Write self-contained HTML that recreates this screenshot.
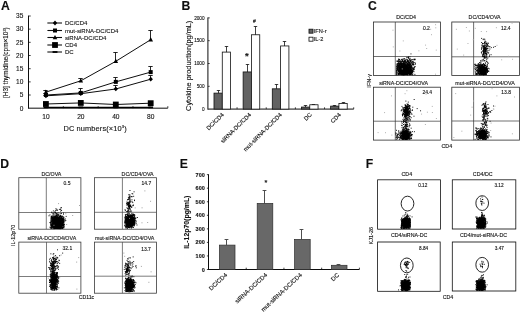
<!DOCTYPE html>
<html lang="en"><head><meta charset="utf-8"><title>Figure</title>
<style>html,body{margin:0;padding:0;background:#fff;overflow:hidden}svg{display:block;font-family:'Liberation Sans', sans-serif}</style></head><body>
<svg width="520" height="314" viewBox="0 0 520 314">
<rect width="520" height="314" fill="#fff"/>
<defs><filter id="soft" x="0" y="0" width="520" height="314" filterUnits="userSpaceOnUse"><feGaussianBlur stdDeviation="0.3"/></filter><filter id="soft2" x="0" y="0" width="520" height="314" filterUnits="userSpaceOnUse"><feGaussianBlur stdDeviation="0.3"/></filter><filter id="soft3" x="0" y="0" width="520" height="314" filterUnits="userSpaceOnUse"><feGaussianBlur stdDeviation="0.22"/></filter></defs>
<g filter="url(#soft3)">
<line x1="28.50" y1="15.60" x2="28.50" y2="108.70" stroke="#111" stroke-width="1.0"/>
<line x1="28.50" y1="108.20" x2="167.80" y2="108.20" stroke="#111" stroke-width="1.0"/>
<line x1="28.50" y1="95.03" x2="30.70" y2="95.03" stroke="#111" stroke-width="0.8"/>
<line x1="28.50" y1="81.86" x2="30.70" y2="81.86" stroke="#111" stroke-width="0.8"/>
<line x1="28.50" y1="68.69" x2="30.70" y2="68.69" stroke="#111" stroke-width="0.8"/>
<line x1="28.50" y1="55.51" x2="30.70" y2="55.51" stroke="#111" stroke-width="0.8"/>
<line x1="28.50" y1="42.34" x2="30.70" y2="42.34" stroke="#111" stroke-width="0.8"/>
<line x1="28.50" y1="29.17" x2="30.70" y2="29.17" stroke="#111" stroke-width="0.8"/>
<line x1="28.50" y1="16.00" x2="30.70" y2="16.00" stroke="#111" stroke-width="0.8"/>
<line x1="63.33" y1="108.20" x2="63.33" y2="106.20" stroke="#111" stroke-width="0.8"/>
<line x1="98.15" y1="108.20" x2="98.15" y2="106.20" stroke="#111" stroke-width="0.8"/>
<line x1="132.98" y1="108.20" x2="132.98" y2="106.20" stroke="#111" stroke-width="0.8"/>
<line x1="167.80" y1="108.20" x2="167.80" y2="106.20" stroke="#111" stroke-width="0.8"/>
<polyline points="45.90,107.41 80.80,107.41 115.80,107.41 150.70,107.41" fill="none" stroke="#000" stroke-width="1.3"/>
<rect x="43.50" y="106.51" width="4.8" height="1.8" fill="#000"/>
<rect x="78.40" y="106.51" width="4.8" height="1.8" fill="#000"/>
<rect x="113.40" y="106.51" width="4.8" height="1.8" fill="#000"/>
<rect x="148.30" y="106.51" width="4.8" height="1.8" fill="#000"/>
<polyline points="45.90,103.99 80.80,102.93 115.80,104.51 150.70,103.19" fill="none" stroke="#000" stroke-width="0.95"/>
<rect x="43.00" y="101.09" width="5.8" height="5.8" fill="#000"/>
<rect x="77.90" y="100.03" width="5.8" height="5.8" fill="#000"/>
<rect x="112.90" y="101.61" width="5.8" height="5.8" fill="#000"/>
<rect x="147.80" y="100.29" width="5.8" height="5.8" fill="#000"/>
<polyline points="45.90,95.82 80.80,93.71 115.80,88.97 150.70,79.22" fill="none" stroke="#000" stroke-width="0.95"/>
<line x1="45.50" y1="95.82" x2="45.50" y2="95.50" stroke="#111" stroke-width="0.9"/>
<line x1="43.30" y1="95.50" x2="47.70" y2="95.50" stroke="#111" stroke-width="0.9"/>
<path d="M45.90 93.42 L48.10 95.82 L45.90 98.22 L43.70 95.82Z" fill="#000"/>
<line x1="80.50" y1="93.71" x2="80.50" y2="92.50" stroke="#111" stroke-width="0.9"/>
<line x1="78.30" y1="92.50" x2="82.70" y2="92.50" stroke="#111" stroke-width="0.9"/>
<path d="M80.80 91.31 L83.00 93.71 L80.80 96.11 L78.60 93.71Z" fill="#000"/>
<line x1="115.50" y1="88.97" x2="115.50" y2="85.50" stroke="#111" stroke-width="0.9"/>
<line x1="113.30" y1="85.50" x2="117.70" y2="85.50" stroke="#111" stroke-width="0.9"/>
<path d="M115.80 86.57 L118.00 88.97 L115.80 91.37 L113.60 88.97Z" fill="#000"/>
<line x1="150.50" y1="79.22" x2="150.50" y2="75.50" stroke="#111" stroke-width="0.9"/>
<line x1="148.30" y1="75.50" x2="152.70" y2="75.50" stroke="#111" stroke-width="0.9"/>
<path d="M150.70 76.82 L152.90 79.22 L150.70 81.62 L148.50 79.22Z" fill="#000"/>
<polyline points="45.90,95.03 80.80,92.92 115.80,81.86 150.70,72.11" fill="none" stroke="#000" stroke-width="0.95"/>
<line x1="45.50" y1="95.03" x2="45.50" y2="93.50" stroke="#111" stroke-width="0.9"/>
<line x1="43.30" y1="93.50" x2="47.70" y2="93.50" stroke="#111" stroke-width="0.9"/>
<rect x="43.90" y="93.03" width="4" height="4" fill="#000"/>
<line x1="80.50" y1="92.92" x2="80.50" y2="88.50" stroke="#111" stroke-width="0.9"/>
<line x1="78.30" y1="88.50" x2="82.70" y2="88.50" stroke="#111" stroke-width="0.9"/>
<rect x="78.80" y="90.92" width="4" height="4" fill="#000"/>
<line x1="115.50" y1="81.86" x2="115.50" y2="77.50" stroke="#111" stroke-width="0.9"/>
<line x1="113.30" y1="77.50" x2="117.70" y2="77.50" stroke="#111" stroke-width="0.9"/>
<rect x="113.80" y="79.86" width="4" height="4" fill="#000"/>
<line x1="150.50" y1="72.11" x2="150.50" y2="66.50" stroke="#111" stroke-width="0.9"/>
<line x1="148.30" y1="66.50" x2="152.70" y2="66.50" stroke="#111" stroke-width="0.9"/>
<rect x="148.70" y="70.11" width="4" height="4" fill="#000"/>
<polyline points="45.90,92.13 80.80,80.80 115.80,61.31 150.70,39.71" fill="none" stroke="#000" stroke-width="0.95"/>
<line x1="45.50" y1="92.13" x2="45.50" y2="90.50" stroke="#111" stroke-width="0.9"/>
<line x1="43.30" y1="90.50" x2="47.70" y2="90.50" stroke="#111" stroke-width="0.9"/>
<path d="M45.90 89.53 L48.20 93.93 L43.60 93.93Z" fill="#000"/>
<line x1="80.50" y1="80.80" x2="80.50" y2="78.50" stroke="#111" stroke-width="0.9"/>
<line x1="78.30" y1="78.50" x2="82.70" y2="78.50" stroke="#111" stroke-width="0.9"/>
<path d="M80.80 78.20 L83.10 82.60 L78.50 82.60Z" fill="#000"/>
<line x1="115.50" y1="61.31" x2="115.50" y2="52.50" stroke="#111" stroke-width="0.9"/>
<line x1="113.30" y1="52.50" x2="117.70" y2="52.50" stroke="#111" stroke-width="0.9"/>
<path d="M115.80 58.71 L118.10 63.11 L113.50 63.11Z" fill="#000"/>
<line x1="150.50" y1="39.71" x2="150.50" y2="30.50" stroke="#111" stroke-width="0.9"/>
<line x1="148.30" y1="30.50" x2="152.70" y2="30.50" stroke="#111" stroke-width="0.9"/>
<path d="M150.70 37.11 L153.00 41.51 L148.40 41.51Z" fill="#000"/>
<line x1="47.40" y1="23.00" x2="62.00" y2="23.00" stroke="#111" stroke-width="1.1"/>
<path d="M55.00 20.60 L57.20 23.00 L55.00 25.40 L52.80 23.00Z" fill="#000"/>
<line x1="47.40" y1="30.50" x2="62.00" y2="30.50" stroke="#111" stroke-width="1.1"/>
<rect x="53.00" y="28.50" width="4" height="4" fill="#000"/>
<line x1="47.40" y1="37.50" x2="62.00" y2="37.50" stroke="#111" stroke-width="1.1"/>
<path d="M55.00 34.90 L57.30 39.30 L52.70 39.30Z" fill="#000"/>
<line x1="47.40" y1="45.00" x2="62.00" y2="45.00" stroke="#111" stroke-width="1.1"/>
<rect x="52.10" y="42.10" width="5.8" height="5.8" fill="#000"/>
<line x1="47.40" y1="52.00" x2="62.00" y2="52.00" stroke="#111" stroke-width="1.1"/>
<rect x="52.60" y="51.10" width="4.8" height="1.8" fill="#000"/>
<line x1="207.90" y1="17.50" x2="207.90" y2="109.60" stroke="#111" stroke-width="1.0"/>
<line x1="207.90" y1="109.10" x2="353.70" y2="109.10" stroke="#111" stroke-width="1.0"/>
<line x1="207.90" y1="86.30" x2="209.70" y2="86.30" stroke="#111" stroke-width="0.8"/>
<line x1="207.90" y1="63.50" x2="209.70" y2="63.50" stroke="#111" stroke-width="0.8"/>
<line x1="207.90" y1="40.70" x2="209.70" y2="40.70" stroke="#111" stroke-width="0.8"/>
<line x1="207.90" y1="17.90" x2="209.70" y2="17.90" stroke="#111" stroke-width="0.8"/>
<line x1="237.06" y1="109.10" x2="237.06" y2="107.30" stroke="#111" stroke-width="0.8"/>
<line x1="266.22" y1="109.10" x2="266.22" y2="107.30" stroke="#111" stroke-width="0.8"/>
<line x1="295.38" y1="109.10" x2="295.38" y2="107.30" stroke="#111" stroke-width="0.8"/>
<line x1="324.54" y1="109.10" x2="324.54" y2="107.30" stroke="#111" stroke-width="0.8"/>
<line x1="353.70" y1="109.10" x2="353.70" y2="107.30" stroke="#111" stroke-width="0.8"/>
<rect x="213.98" y="93.14" width="8.30" height="15.96" fill="#626262" stroke="#111" stroke-width="0.8"/>
<rect x="222.28" y="52.10" width="8.30" height="57.00" fill="#fff" stroke="#111" stroke-width="0.8"/>
<line x1="218.50" y1="93.14" x2="218.50" y2="90.50" stroke="#111" stroke-width="0.8"/>
<line x1="216.80" y1="90.50" x2="220.20" y2="90.50" stroke="#111" stroke-width="0.8"/>
<line x1="226.50" y1="52.10" x2="226.50" y2="46.50" stroke="#111" stroke-width="0.8"/>
<line x1="224.80" y1="46.50" x2="228.20" y2="46.50" stroke="#111" stroke-width="0.8"/>
<rect x="243.14" y="71.94" width="8.30" height="37.16" fill="#626262" stroke="#111" stroke-width="0.8"/>
<rect x="251.44" y="34.77" width="8.30" height="74.33" fill="#fff" stroke="#111" stroke-width="0.8"/>
<line x1="247.50" y1="71.94" x2="247.50" y2="64.50" stroke="#111" stroke-width="0.8"/>
<line x1="245.80" y1="64.50" x2="249.20" y2="64.50" stroke="#111" stroke-width="0.8"/>
<line x1="255.50" y1="34.77" x2="255.50" y2="26.50" stroke="#111" stroke-width="0.8"/>
<line x1="253.80" y1="26.50" x2="257.20" y2="26.50" stroke="#111" stroke-width="0.8"/>
<rect x="272.30" y="88.81" width="8.30" height="20.29" fill="#626262" stroke="#111" stroke-width="0.8"/>
<rect x="280.60" y="45.94" width="8.30" height="63.16" fill="#fff" stroke="#111" stroke-width="0.8"/>
<line x1="276.50" y1="88.81" x2="276.50" y2="84.50" stroke="#111" stroke-width="0.8"/>
<line x1="274.80" y1="84.50" x2="278.20" y2="84.50" stroke="#111" stroke-width="0.8"/>
<line x1="284.50" y1="45.94" x2="284.50" y2="41.50" stroke="#111" stroke-width="0.8"/>
<line x1="282.80" y1="41.50" x2="286.20" y2="41.50" stroke="#111" stroke-width="0.8"/>
<rect x="301.46" y="107.05" width="8.30" height="2.05" fill="#626262" stroke="#111" stroke-width="0.8"/>
<rect x="309.76" y="104.77" width="8.30" height="4.33" fill="#fff" stroke="#111" stroke-width="0.8"/>
<line x1="305.50" y1="107.05" x2="305.50" y2="105.50" stroke="#111" stroke-width="0.8"/>
<line x1="303.80" y1="105.50" x2="307.20" y2="105.50" stroke="#111" stroke-width="0.8"/>
<line x1="313.50" y1="104.77" x2="313.50" y2="104.50" stroke="#111" stroke-width="0.8"/>
<line x1="311.80" y1="104.50" x2="315.20" y2="104.50" stroke="#111" stroke-width="0.8"/>
<rect x="330.62" y="106.14" width="8.30" height="2.96" fill="#626262" stroke="#111" stroke-width="0.8"/>
<rect x="338.92" y="103.40" width="8.30" height="5.70" fill="#fff" stroke="#111" stroke-width="0.8"/>
<line x1="334.50" y1="106.14" x2="334.50" y2="105.50" stroke="#111" stroke-width="0.8"/>
<line x1="332.80" y1="105.50" x2="336.20" y2="105.50" stroke="#111" stroke-width="0.8"/>
<line x1="343.50" y1="103.40" x2="343.50" y2="102.50" stroke="#111" stroke-width="0.8"/>
<line x1="341.80" y1="102.50" x2="345.20" y2="102.50" stroke="#111" stroke-width="0.8"/>
<rect x="309.00" y="29.20" width="4.00" height="4.00" fill="#626262" stroke="#111" stroke-width="0.8"/>
<rect x="309.00" y="37.20" width="4.00" height="4.00" fill="#fff" stroke="#111" stroke-width="0.8"/>
<rect x="373.40" y="22.00" width="67.00" height="53.40" fill="none" stroke="#2a2a2a" stroke-width="0.8"/>
<line x1="395.30" y1="22.00" x2="395.30" y2="75.40" stroke="#333" stroke-width="0.7"/>
<line x1="373.40" y1="56.50" x2="440.40" y2="56.50" stroke="#333" stroke-width="0.7"/>
<rect x="451.80" y="22.00" width="67.60" height="53.40" fill="none" stroke="#2a2a2a" stroke-width="0.8"/>
<line x1="473.60" y1="22.00" x2="473.60" y2="75.40" stroke="#333" stroke-width="0.7"/>
<line x1="451.80" y1="56.80" x2="519.40" y2="56.80" stroke="#333" stroke-width="0.7"/>
<rect x="373.40" y="87.20" width="67.00" height="52.90" fill="none" stroke="#2a2a2a" stroke-width="0.8"/>
<line x1="395.30" y1="87.20" x2="395.30" y2="140.10" stroke="#333" stroke-width="0.7"/>
<line x1="373.40" y1="121.20" x2="440.40" y2="121.20" stroke="#333" stroke-width="0.7"/>
<rect x="451.80" y="87.20" width="67.60" height="52.90" fill="none" stroke="#2a2a2a" stroke-width="0.8"/>
<line x1="473.60" y1="87.20" x2="473.60" y2="140.10" stroke="#333" stroke-width="0.7"/>
<line x1="451.80" y1="121.00" x2="519.40" y2="121.00" stroke="#333" stroke-width="0.7"/>
<rect x="18.80" y="177.70" width="62.10" height="51.50" fill="none" stroke="#3a3a3a" stroke-width="0.8"/>
<line x1="46.30" y1="177.70" x2="46.30" y2="229.20" stroke="#444" stroke-width="0.7"/>
<line x1="18.80" y1="212.50" x2="80.90" y2="212.50" stroke="#444" stroke-width="0.7"/>
<rect x="94.40" y="177.70" width="62.00" height="51.50" fill="none" stroke="#3a3a3a" stroke-width="0.8"/>
<line x1="122.40" y1="177.70" x2="122.40" y2="229.20" stroke="#444" stroke-width="0.7"/>
<line x1="94.40" y1="212.30" x2="156.40" y2="212.30" stroke="#444" stroke-width="0.7"/>
<rect x="18.80" y="242.10" width="62.10" height="51.10" fill="none" stroke="#3a3a3a" stroke-width="0.8"/>
<line x1="46.50" y1="242.10" x2="46.50" y2="293.20" stroke="#444" stroke-width="0.7"/>
<line x1="18.80" y1="276.50" x2="80.90" y2="276.50" stroke="#444" stroke-width="0.7"/>
<rect x="94.40" y="242.10" width="62.00" height="51.10" fill="none" stroke="#3a3a3a" stroke-width="0.8"/>
<line x1="122.40" y1="242.10" x2="122.40" y2="293.20" stroke="#444" stroke-width="0.7"/>
<line x1="94.40" y1="276.20" x2="156.40" y2="276.20" stroke="#444" stroke-width="0.7"/>
<line x1="208.50" y1="174.25" x2="208.50" y2="270.00" stroke="#111" stroke-width="1.0"/>
<line x1="208.50" y1="269.50" x2="359.40" y2="269.50" stroke="#111" stroke-width="1.0"/>
<line x1="206.90" y1="269.50" x2="208.50" y2="269.50" stroke="#111" stroke-width="0.8"/>
<line x1="206.90" y1="255.95" x2="208.50" y2="255.95" stroke="#111" stroke-width="0.8"/>
<line x1="206.90" y1="242.40" x2="208.50" y2="242.40" stroke="#111" stroke-width="0.8"/>
<line x1="206.90" y1="228.85" x2="208.50" y2="228.85" stroke="#111" stroke-width="0.8"/>
<line x1="206.90" y1="215.30" x2="208.50" y2="215.30" stroke="#111" stroke-width="0.8"/>
<line x1="206.90" y1="201.75" x2="208.50" y2="201.75" stroke="#111" stroke-width="0.8"/>
<line x1="206.90" y1="188.20" x2="208.50" y2="188.20" stroke="#111" stroke-width="0.8"/>
<line x1="206.90" y1="174.65" x2="208.50" y2="174.65" stroke="#111" stroke-width="0.8"/>
<line x1="246.22" y1="269.50" x2="246.22" y2="267.70" stroke="#111" stroke-width="0.8"/>
<line x1="283.95" y1="269.50" x2="283.95" y2="267.70" stroke="#111" stroke-width="0.8"/>
<line x1="321.67" y1="269.50" x2="321.67" y2="267.70" stroke="#111" stroke-width="0.8"/>
<line x1="359.40" y1="269.50" x2="359.40" y2="267.70" stroke="#111" stroke-width="0.8"/>
<rect x="219.40" y="245.11" width="15.60" height="24.39" fill="#686868" stroke="#2c2c2c" stroke-width="0.7"/>
<line x1="226.50" y1="245.11" x2="226.50" y2="239.50" stroke="#3c3c3c" stroke-width="0.9"/>
<line x1="224.60" y1="239.50" x2="228.40" y2="239.50" stroke="#3c3c3c" stroke-width="0.9"/>
<rect x="257.20" y="203.38" width="15.60" height="66.12" fill="#686868" stroke="#2c2c2c" stroke-width="0.7"/>
<line x1="264.50" y1="203.38" x2="264.50" y2="190.50" stroke="#3c3c3c" stroke-width="0.9"/>
<line x1="262.60" y1="190.50" x2="266.40" y2="190.50" stroke="#3c3c3c" stroke-width="0.9"/>
<rect x="294.60" y="239.42" width="15.60" height="30.08" fill="#686868" stroke="#2c2c2c" stroke-width="0.7"/>
<line x1="301.50" y1="239.42" x2="301.50" y2="229.50" stroke="#3c3c3c" stroke-width="0.9"/>
<line x1="299.60" y1="229.50" x2="303.40" y2="229.50" stroke="#3c3c3c" stroke-width="0.9"/>
<rect x="331.40" y="265.30" width="15.60" height="4.20" fill="#686868" stroke="#2c2c2c" stroke-width="0.7"/>
<line x1="338.50" y1="265.30" x2="338.50" y2="264.50" stroke="#3c3c3c" stroke-width="0.9"/>
<line x1="336.60" y1="264.50" x2="340.40" y2="264.50" stroke="#3c3c3c" stroke-width="0.9"/>
<rect x="377.60" y="179.80" width="62.80" height="49.40" fill="none" stroke="#111" stroke-width="0.8"/>
<ellipse cx="407.5" cy="203.6" rx="6.35" ry="7.4" fill="none" stroke="#111" stroke-width="0.9"/>
<rect x="452.30" y="179.80" width="63.50" height="49.20" fill="none" stroke="#111" stroke-width="0.8"/>
<ellipse cx="482.2" cy="203.1" rx="6.35" ry="7.4" fill="none" stroke="#111" stroke-width="0.9"/>
<rect x="377.60" y="242.00" width="62.60" height="49.30" fill="none" stroke="#111" stroke-width="0.8"/>
<ellipse cx="406.8" cy="265.4" rx="6.35" ry="7.4" fill="none" stroke="#111" stroke-width="0.9"/>
<rect x="452.30" y="242.00" width="63.50" height="49.00" fill="none" stroke="#111" stroke-width="0.8"/>
<ellipse cx="482.2" cy="264.8" rx="6.35" ry="7.4" fill="none" stroke="#111" stroke-width="0.9"/>
</g>
<g filter="url(#soft2)">
<path d="M403.9 72.2h0.95M404.0 69.4h0.95M401.5 69.8h0.95M408.8 71.9h0.95M408.5 71.3h0.95M406.2 71.1h0.95M398.8 73.4h0.95M406.6 72.2h0.95M398.7 64.6h0.95M401.6 68.9h0.95M405.9 70.3h0.95M406.7 68.3h0.95M405.9 71.8h0.95M406.8 74.6h0.95M402.6 68.0h0.95M403.6 70.1h0.95M407.1 71.3h0.95M403.2 67.2h0.95M402.9 74.7h0.95M401.9 71.3h0.95M406.3 65.4h0.95M397.5 69.4h0.95M404.4 67.7h0.95M406.6 70.3h0.95M399.5 73.3h0.95M407.2 73.7h0.95M410.0 71.7h0.95M405.2 66.1h0.95M407.0 68.4h0.95M403.2 66.2h0.95M401.3 68.7h0.95M409.4 63.6h0.95M399.6 71.3h0.95M410.0 72.5h0.95M398.0 61.9h0.95M406.1 68.0h0.95M400.8 73.8h0.95M408.8 71.0h0.95M405.7 72.0h0.95M410.5 72.6h0.95M406.7 72.4h0.95M408.2 72.3h0.95M397.7 68.3h0.95M407.8 64.3h0.95M404.1 74.0h0.95M406.8 70.0h0.95M406.0 72.7h0.95M405.2 74.4h0.95M402.4 69.1h0.95M408.6 70.6h0.95M401.6 73.7h0.95M410.1 69.0h0.95M399.8 70.0h0.95M404.3 69.5h0.95M409.9 67.0h0.95M409.3 66.2h0.95M402.0 72.6h0.95M408.9 73.4h0.95M406.0 71.0h0.95M405.3 72.5h0.95M404.2 71.4h0.95M406.9 70.5h0.95M407.6 72.4h0.95M412.0 71.6h0.95M403.3 69.2h0.95M404.8 73.6h0.95M403.6 71.8h0.95M411.4 61.8h0.95M400.8 71.3h0.95M406.2 71.3h0.95M403.2 72.7h0.95M405.8 68.7h0.95M413.5 71.7h0.95M402.8 70.2h0.95M404.0 70.3h0.95M408.4 66.5h0.95M404.6 73.7h0.95M398.7 69.3h0.95M403.6 72.6h0.95M408.7 61.4h0.95M408.7 65.6h0.95M407.3 65.4h0.95M405.4 74.6h0.95M404.3 71.1h0.95M407.7 71.0h0.95M408.6 69.5h0.95M414.7 66.6h0.95M408.1 69.6h0.95M405.3 72.9h0.95M405.6 72.7h0.95M399.3 65.4h0.95M407.0 67.2h0.95M401.1 65.5h0.95M409.4 73.0h0.95M410.1 67.3h0.95M404.8 66.6h0.95M408.4 69.9h0.95M404.5 68.5h0.95M406.2 71.9h0.95M410.2 67.0h0.95M410.0 69.9h0.95M402.1 74.0h0.95M405.2 70.9h0.95M409.9 69.6h0.95M396.5 69.2h0.95M398.1 73.3h0.95M405.9 68.4h0.95M404.8 73.3h0.95M404.6 74.0h0.95M402.4 73.5h0.95M398.0 66.8h0.95M397.7 74.1h0.95M400.4 70.5h0.95M404.1 70.4h0.95M402.7 71.3h0.95M411.2 70.7h0.95M406.7 73.9h0.95M404.1 66.2h0.95M402.8 74.2h0.95M398.9 68.5h0.95M408.4 73.2h0.95M404.8 73.2h0.95M405.4 66.5h0.95M399.2 68.3h0.95M408.1 68.6h0.95M401.6 67.9h0.95M399.3 70.1h0.95M400.6 71.7h0.95M402.5 63.9h0.95M407.4 69.6h0.95M396.8 67.5h0.95M405.8 68.9h0.95M407.6 73.0h0.95M407.2 71.6h0.95M409.6 72.7h0.95M406.4 63.4h0.95M403.7 68.9h0.95M411.8 64.5h0.95M401.5 72.8h0.95M411.6 70.1h0.95M406.8 73.6h0.95M401.5 70.2h0.95M405.9 73.3h0.95M404.7 69.8h0.95M401.1 69.3h0.95M408.0 70.8h0.95M401.7 67.6h0.95M414.4 74.4h0.95M407.1 61.7h0.95M407.0 72.1h0.95M410.9 72.0h0.95M404.6 72.3h0.95M397.8 74.0h0.95M406.0 68.1h0.95M399.8 68.2h0.95M405.8 71.1h0.95M403.4 67.2h0.95M412.4 74.0h0.95M400.5 65.9h0.95M410.9 73.9h0.95M411.4 73.3h0.95M401.7 71.4h0.95M397.0 68.0h0.95M404.6 72.3h0.95M402.2 70.1h0.95M406.5 71.8h0.95M407.1 71.2h0.95M403.6 73.2h0.95M405.0 67.7h0.95M402.5 70.5h0.95M404.4 71.0h0.95M404.8 71.1h0.95M404.3 66.2h0.95M406.3 74.1h0.95M406.4 69.9h0.95M406.4 67.2h0.95M398.0 70.7h0.95M401.5 73.0h0.95M400.9 61.6h0.95M403.4 65.8h0.95M402.1 72.3h0.95M406.6 71.1h0.95M410.1 72.9h0.95M404.7 72.5h0.95M410.8 73.8h0.95M408.5 66.8h0.95M404.3 73.0h0.95M403.7 74.1h0.95M406.9 73.6h0.95M409.3 69.8h0.95M403.6 73.5h0.95M408.3 70.5h0.95M400.6 71.1h0.95M406.1 74.3h0.95M407.6 70.6h0.95M407.9 72.3h0.95M405.5 70.7h0.95M403.9 72.8h0.95M401.0 68.4h0.95M404.8 65.5h0.95M403.2 63.7h0.95M402.3 72.4h0.95M406.8 70.3h0.95M404.0 65.7h0.95M411.4 72.3h0.95M408.7 67.5h0.95M404.1 64.3h0.95M407.6 73.7h0.95M398.0 70.3h0.95M407.1 64.5h0.95M398.2 66.9h0.95M402.5 65.7h0.95M404.9 71.3h0.95M407.1 72.9h0.95M410.2 74.5h0.95M400.1 68.8h0.95M401.0 66.8h0.95M404.5 70.5h0.95M406.6 65.1h0.95M400.3 70.4h0.95M404.1 69.4h0.95M404.6 67.9h0.95M407.3 71.7h0.95M404.5 68.2h0.95M404.2 61.2h0.95M401.3 70.6h0.95M399.4 71.2h0.95M405.3 65.8h0.95M403.9 69.4h0.95M406.5 72.6h0.95M404.7 67.6h0.95M404.3 70.3h0.95M407.4 71.5h0.95M402.2 65.9h0.95M403.5 68.0h0.95M400.8 70.1h0.95M403.0 70.9h0.95M406.7 69.1h0.95M413.2 69.4h0.95M408.8 70.9h0.95M408.8 62.4h0.95M402.1 71.3h0.95M407.6 73.7h0.95M406.6 70.0h0.95M406.6 66.8h0.95M409.1 67.0h0.95M404.0 70.6h0.95M409.0 70.6h0.95M401.9 71.4h0.95M406.9 72.9h0.95M410.8 70.6h0.95M405.8 69.0h0.95M409.9 68.1h0.95M407.2 68.9h0.95M402.3 72.9h0.95M409.6 70.5h0.95M402.4 73.3h0.95M404.6 71.6h0.95M410.3 74.3h0.95M404.8 73.2h0.95M402.5 70.3h0.95M409.7 66.4h0.95M399.4 65.0h0.95M409.0 68.9h0.95M404.6 69.4h0.95M404.4 66.8h0.95M404.9 65.6h0.95M404.5 71.5h0.95M406.5 69.7h0.95M401.5 71.0h0.95M407.6 70.1h0.95M403.1 68.1h0.95M401.4 69.3h0.95M405.9 72.3h0.95M402.3 70.5h0.95M414.9 64.2h0.95M402.9 71.1h0.95M405.4 71.9h0.95M403.9 71.7h0.95M405.0 73.1h0.95M398.0 67.5h0.95M404.8 67.0h0.95M401.0 72.6h0.95M402.5 72.7h0.95M407.5 71.5h0.95M406.6 70.1h0.95M399.7 70.4h0.95M406.4 68.7h0.95M404.4 73.0h0.95M401.6 72.7h0.95M411.5 68.6h0.95M405.3 70.0h0.95M410.3 71.6h0.95M408.0 68.2h0.95M404.7 70.5h0.95M408.0 64.6h0.95M407.5 70.1h0.95M406.4 71.7h0.95M399.4 69.8h0.95M410.2 68.5h0.95M401.1 65.9h0.95M400.4 71.6h0.95M410.9 72.0h0.95M402.9 68.2h0.95M406.7 72.4h0.95M401.1 66.5h0.95M405.8 71.3h0.95M400.1 69.8h0.95M402.8 72.1h0.95M404.4 70.2h0.95M403.5 74.1h0.95M409.8 69.3h0.95M407.8 67.9h0.95M405.1 73.0h0.95M410.3 69.2h0.95M404.5 71.2h0.95M399.4 70.6h0.95M402.4 71.8h0.95M400.7 63.8h0.95M404.9 71.4h0.95M402.8 73.5h0.95M403.8 68.4h0.95M406.5 65.2h0.95M402.4 70.4h0.95M407.9 69.9h0.95M405.9 68.3h0.95M402.5 70.6h0.95M405.4 74.0h0.95M400.3 63.4h0.95M407.0 73.2h0.95M405.5 71.4h0.95M408.1 71.8h0.95M410.8 66.3h0.95M403.4 58.8h0.95M407.7 69.2h0.95M404.8 69.6h0.95M403.0 67.7h0.95M402.5 72.7h0.95M404.9 70.7h0.95M404.2 73.6h0.95M406.6 70.0h0.95M407.2 70.0h0.95M406.5 67.2h0.95M408.7 71.7h0.95M406.0 73.5h0.95M405.5 70.0h0.95M399.2 73.8h0.95M404.9 69.5h0.95M406.1 70.8h0.95M407.2 69.2h0.95M404.7 63.2h0.95M403.3 72.8h0.95M409.6 69.3h0.95M403.6 73.0h0.95M410.8 70.6h0.95M409.2 68.1h0.95M405.5 70.2h0.95M405.2 74.3h0.95M413.4 68.2h0.95M402.7 72.2h0.95M401.0 72.2h0.95M406.9 69.6h0.95M406.7 65.2h0.95M407.5 65.2h0.95M402.3 68.6h0.95M403.4 73.4h0.95M405.1 69.1h0.95M404.8 71.7h0.95M409.3 71.4h0.95M412.8 63.8h0.95M404.7 71.9h0.95M408.3 72.8h0.95M403.8 66.9h0.95M405.2 74.0h0.95M400.9 67.0h0.95M404.7 63.9h0.95M403.9 69.0h0.95M406.4 68.1h0.95M401.6 69.2h0.95M404.6 68.2h0.95M404.8 73.1h0.95M402.0 69.1h0.95M402.2 70.4h0.95M406.7 65.9h0.95M406.5 70.4h0.95M398.2 71.5h0.95M409.1 64.1h0.95M407.7 71.2h0.95M406.5 72.0h0.95M409.5 69.7h0.95M407.9 69.1h0.95M407.4 67.7h0.95M406.4 70.0h0.95M400.7 67.8h0.95M405.5 73.7h0.95M406.3 72.3h0.95M403.4 68.6h0.95M408.0 70.7h0.95M403.8 68.5h0.95M403.9 72.6h0.95M406.1 66.4h0.95M406.3 71.1h0.95M401.2 73.1h0.95M403.8 69.4h0.95M402.3 72.0h0.95M403.0 74.6h0.95M402.5 73.3h0.95M412.8 61.9h0.95M403.2 72.2h0.95M404.5 68.2h0.95M412.5 70.8h0.95M398.9 73.4h0.95M398.6 74.4h0.95M402.7 71.0h0.95M409.3 70.9h0.95M399.8 64.7h0.95M409.1 73.0h0.95M401.9 73.4h0.95M406.6 72.7h0.95M396.7 69.5h0.95M408.0 73.0h0.95M408.0 62.1h0.95M405.4 72.2h0.95M414.0 67.3h0.95M403.6 70.6h0.95M408.0 69.0h0.95M408.9 67.8h0.95M405.8 68.7h0.95M405.4 68.2h0.95M399.0 74.2h0.95M405.9 68.6h0.95M405.5 73.9h0.95M401.3 70.1h0.95M406.7 72.3h0.95M403.6 63.3h0.95M409.3 71.6h0.95M404.8 69.6h0.95M405.7 69.1h0.95M401.1 68.0h0.95M402.7 68.4h0.95M400.6 72.7h0.95M400.1 72.7h0.95M401.1 71.7h0.95M409.7 71.2h0.95M402.2 70.7h0.95M405.3 64.6h0.95M402.6 71.1h0.95M403.1 70.8h0.95M407.4 73.1h0.95M408.1 72.5h0.95M403.8 70.4h0.95M403.8 69.4h0.95M404.2 64.6h0.95M403.6 70.4h0.95M401.3 70.4h0.95M406.7 69.9h0.95M412.3 61.6h0.95M404.1 64.3h0.95M406.7 69.5h0.95M406.8 62.9h0.95M407.9 71.8h0.95M404.9 68.5h0.95M407.1 68.8h0.95M405.6 68.8h0.95M396.7 70.4h0.95M405.5 73.1h0.95M401.6 70.4h0.95M407.0 71.0h0.95M401.5 64.0h0.95M408.1 73.3h0.95M402.6 68.1h0.95M408.0 67.4h0.95M398.3 67.1h0.95M402.3 68.0h0.95M405.6 68.0h0.95M409.5 70.2h0.95M402.7 71.3h0.95M404.8 69.4h0.95M406.0 68.1h0.95M398.2 63.0h0.95M400.2 67.9h0.95M404.7 70.7h0.95M406.8 70.9h0.95M401.9 68.1h0.95M397.2 69.9h0.95M406.5 72.3h0.95M404.4 69.9h0.95M408.2 70.6h0.95M407.5 72.5h0.95M402.7 69.3h0.95M401.9 67.8h0.95M404.9 72.4h0.95M409.0 73.2h0.95M409.1 66.2h0.95M402.5 72.0h0.95M410.0 70.9h0.95M401.7 69.3h0.95M402.4 67.6h0.95M410.2 68.4h0.95M409.1 71.6h0.95M402.6 71.9h0.95M410.6 72.6h0.95M409.3 70.8h0.95M406.7 69.8h0.95M399.6 70.3h0.95M405.7 68.6h0.95M403.7 73.2h0.95M412.0 72.6h0.95M406.0 65.2h0.95M411.7 70.8h0.95M404.7 66.7h0.95M404.6 66.8h0.95M405.1 72.1h0.95M404.9 71.5h0.95M402.4 64.3h0.95M404.1 67.9h0.95M401.2 69.3h0.95M405.8 66.5h0.95M407.3 70.0h0.95M405.3 70.1h0.95M404.7 72.8h0.95M404.6 65.2h0.95M404.8 68.9h0.95M406.2 69.5h0.95M402.5 68.3h0.95M401.7 65.3h0.95M400.7 71.9h0.95M403.4 66.5h0.95M401.5 72.5h0.95M403.1 70.1h0.95M405.5 74.3h0.95M409.1 73.5h0.95M405.1 71.4h0.95M408.8 74.4h0.95M404.1 72.1h0.95M405.4 71.1h0.95M403.7 67.8h0.95M403.6 67.3h0.95M407.5 72.3h0.95M402.1 74.3h0.95M406.8 66.4h0.95M408.9 72.9h0.95M409.3 68.0h0.95M406.0 72.0h0.95M405.2 71.4h0.95M407.1 67.4h0.95M402.1 67.7h0.95M403.6 69.5h0.95M405.6 71.6h0.95M404.9 69.4h0.95M403.8 73.3h0.95M406.5 71.2h0.95M404.1 74.7h0.95M403.5 72.6h0.95M407.3 70.4h0.95M406.6 68.3h0.95M407.0 71.5h0.95M401.3 72.6h0.95M402.8 74.1h0.95M403.3 70.6h0.95M405.4 70.2h0.95M405.4 69.7h0.95M406.3 71.0h0.95M405.3 64.4h0.95M407.4 71.1h0.95M400.9 71.2h0.95M405.8 73.6h0.95M402.4 74.7h0.95M404.5 72.6h0.95M404.0 68.3h0.95M407.2 73.2h0.95M408.2 73.1h0.95M403.5 67.0h0.95M403.4 69.4h0.95M403.0 72.4h0.95M405.5 70.4h0.95M405.2 70.7h0.95M405.3 72.8h0.95M406.9 69.4h0.95M401.5 74.4h0.95M405.1 73.7h0.95M401.2 70.2h0.95M404.9 67.5h0.95M403.7 72.7h0.95M402.9 67.6h0.95M405.9 73.3h0.95M405.2 67.9h0.95M406.5 72.9h0.95M406.0 69.8h0.95M405.5 72.9h0.95M403.6 66.6h0.95M405.5 72.2h0.95M404.8 73.1h0.95M403.5 70.8h0.95M404.1 72.4h0.95M408.3 70.4h0.95M409.3 74.7h0.95M406.5 72.4h0.95M408.7 70.6h0.95M404.6 68.4h0.95M405.8 74.2h0.95M406.0 72.0h0.95M404.4 71.4h0.95M401.7 73.5h0.95M403.9 68.3h0.95M403.1 69.0h0.95M406.7 73.5h0.95M401.8 73.2h0.95M406.8 69.6h0.95M401.5 69.2h0.95M403.4 71.8h0.95M404.0 66.1h0.95M405.3 67.3h0.95M406.8 68.1h0.95M403.3 68.9h0.95M403.6 74.1h0.95M406.7 72.4h0.95M405.5 67.3h0.95M403.7 69.7h0.95M402.6 72.2h0.95M403.2 69.3h0.95M402.5 66.1h0.95M406.1 74.2h0.95M405.2 68.7h0.95M398.8 71.4h0.95M407.5 71.7h0.95M406.8 74.5h0.95M407.3 69.9h0.95M407.1 72.9h0.95M401.4 70.0h0.95M401.7 70.7h0.95M406.1 68.4h0.95M400.3 74.1h0.95M405.6 74.5h0.95M401.9 73.5h0.95M404.3 71.6h0.95M404.5 73.4h0.95M407.1 71.2h0.95M401.8 72.8h0.95M403.8 72.5h0.95M407.3 69.9h0.95M403.6 72.0h0.95M407.4 74.0h0.95M405.9 67.8h0.95M402.0 71.6h0.95M402.9 73.7h0.95M406.5 67.0h0.95M403.0 71.4h0.95M403.7 70.6h0.95M405.8 69.1h0.95M405.8 69.5h0.95M403.6 72.3h0.95M403.5 71.7h0.95M408.3 71.1h0.95M404.5 72.8h0.95M404.0 73.6h0.95M402.0 72.5h0.95M403.7 69.1h0.95M408.7 69.0h0.95M408.7 72.6h0.95M408.0 68.7h0.95M407.4 74.5h0.95M404.5 70.7h0.95M410.2 71.4h0.95M403.9 69.5h0.95M405.8 71.8h0.95M404.1 72.1h0.95M408.0 68.6h0.95M401.8 68.4h0.95M402.5 66.6h0.95M405.8 66.5h0.95M405.9 74.5h0.95M401.2 70.2h0.95M400.6 72.9h0.95M403.2 70.4h0.95M404.9 72.3h0.95M404.0 71.0h0.95M403.6 71.3h0.95M402.2 71.2h0.95M400.5 69.8h0.95M409.0 71.2h0.95M402.0 71.6h0.95M402.7 67.0h0.95M403.2 72.8h0.95M405.6 70.8h0.95M402.8 68.4h0.95M407.8 71.6h0.95M402.7 65.9h0.95M402.3 70.8h0.95M405.3 70.6h0.95M404.2 67.7h0.95M403.1 73.0h0.95M401.1 70.3h0.95M405.4 73.5h0.95M402.3 72.4h0.95M405.6 69.2h0.95M405.8 68.8h0.95M403.0 71.0h0.95M398.8 70.7h0.95M402.6 67.5h0.95M403.9 72.8h0.95M403.9 74.0h0.95M402.2 67.9h0.95M408.2 72.0h0.95M406.9 69.0h0.95M406.6 71.6h0.95M406.2 71.1h0.95M407.5 69.4h0.95M402.7 67.5h0.95M407.4 69.2h0.95M402.5 68.7h0.95M403.8 67.9h0.95M404.2 69.5h0.95M403.6 68.7h0.95M404.9 69.9h0.95M405.1 71.6h0.95M405.5 65.7h0.95M403.6 69.1h0.95M406.5 67.2h0.95M403.2 70.3h0.95M404.1 73.4h0.95M403.8 73.3h0.95M401.6 66.7h0.95M407.5 72.0h0.95M405.9 71.3h0.95M405.9 68.1h0.95M406.9 69.7h0.95M407.0 71.2h0.95M400.5 67.9h0.95M407.3 70.7h0.95M403.9 71.6h0.95M403.9 69.7h0.95M405.0 71.3h0.95M408.1 71.1h0.95M408.6 73.5h0.95M405.1 71.3h0.95M404.5 69.2h0.95M404.7 69.5h0.95M408.4 72.3h0.95M403.8 66.4h0.95M404.7 70.0h0.95M402.4 68.3h0.95M399.8 72.4h0.95M404.7 70.6h0.95M408.0 71.3h0.95M405.2 70.1h0.95M403.5 74.6h0.95M404.0 71.1h0.95M402.9 73.3h0.95M401.7 72.4h0.95M407.2 74.4h0.95M402.7 73.6h0.95M403.2 69.2h0.95M401.9 73.8h0.95M408.4 69.6h0.95M403.1 70.2h0.95M410.3 73.4h0.95M403.6 66.7h0.95M403.3 73.8h0.95M408.9 70.4h0.95M403.3 69.8h0.95M400.7 73.2h0.95M402.4 73.6h0.95M401.0 68.0h0.95M405.4 69.2h0.95M406.5 71.0h0.95M402.2 72.5h0.95M406.7 66.4h0.95M408.8 72.2h0.95M406.5 66.5h0.95M403.2 70.2h0.95M407.2 67.5h0.95M402.9 66.1h0.95M404.3 71.8h0.95M401.1 69.6h0.95M406.3 70.3h0.95M402.2 68.8h0.95M403.3 71.4h0.95M405.4 68.4h0.95M408.2 73.3h0.95M405.0 69.3h0.95M400.7 68.5h0.95M406.8 69.1h0.95M401.9 71.5h0.95M405.3 72.5h0.95M406.2 74.4h0.95M403.0 73.3h0.95M402.6 72.7h0.95M405.2 71.6h0.95M406.9 71.0h0.95M407.2 73.1h0.95M405.1 69.6h0.95M403.1 69.7h0.95M404.4 70.9h0.95M411.4 72.5h0.95M406.5 68.9h0.95M403.2 70.2h0.95M405.2 68.5h0.95M408.3 69.6h0.95M407.2 65.4h0.95M404.8 71.7h0.95M405.2 72.4h0.95M405.4 71.4h0.95M400.6 69.3h0.95M399.6 72.5h0.95M405.5 70.5h0.95M403.0 69.6h0.95M404.7 74.1h0.95M401.3 66.4h0.95M403.7 68.9h0.95M403.6 71.5h0.95M411.5 69.4h0.95M404.9 71.7h0.95M404.7 73.2h0.95M408.7 68.0h0.95M405.2 70.4h0.95M405.6 67.3h0.95M400.9 65.4h0.95M406.0 71.5h0.95M405.0 65.3h0.95M404.0 69.2h0.95M401.7 68.8h0.95M406.3 72.3h0.95M404.8 72.2h0.95M403.5 71.2h0.95M404.9 72.3h0.95M404.6 70.7h0.95M404.5 69.5h0.95M409.7 72.2h0.95M407.9 67.3h0.95M406.3 73.0h0.95M408.9 74.2h0.95M406.5 68.2h0.95M402.9 71.6h0.95M405.9 68.5h0.95M404.0 70.0h0.95M404.9 71.8h0.95M404.2 68.0h0.95M404.6 73.5h0.95M405.8 72.6h0.95M405.9 69.2h0.95M406.1 73.4h0.95M409.2 72.8h0.95M404.1 69.6h0.95M403.0 71.3h0.95M404.7 72.6h0.95M409.8 70.9h0.95M406.3 72.1h0.95M405.4 70.5h0.95M404.5 69.0h0.95M405.3 65.9h0.95M406.0 62.2h0.95M404.7 66.2h0.95M407.3 61.3h0.95M406.4 70.3h0.95M407.2 64.4h0.95M402.2 65.0h0.95M407.9 72.8h0.95M403.8 63.2h0.95M406.2 66.9h0.95M400.3 62.8h0.95M404.0 69.0h0.95M399.0 61.5h0.95M406.8 60.6h0.95M405.0 67.5h0.95M404.0 61.5h0.95M404.2 64.5h0.95M406.0 62.3h0.95M409.5 58.6h0.95M403.7 66.0h0.95M408.9 63.3h0.95M407.0 63.5h0.95M407.9 73.6h0.95M402.7 67.9h0.95M400.2 70.3h0.95M410.1 66.2h0.95M399.3 67.8h0.95M409.8 70.8h0.95M408.2 57.9h0.95M401.4 72.3h0.95M398.9 71.0h0.95M413.2 69.4h0.95M409.7 64.5h0.95M398.9 65.5h0.95M403.6 65.8h0.95M407.7 65.4h0.95M405.4 67.9h0.95M404.5 74.1h0.95M406.5 66.4h0.95M403.5 63.2h0.95M410.7 66.7h0.95M399.5 63.5h0.95M403.9 64.0h0.95M409.5 60.9h0.95M406.8 66.6h0.95M399.1 66.2h0.95M404.1 68.2h0.95M402.4 67.3h0.95M396.8 61.2h0.95M408.1 70.6h0.95M404.4 63.4h0.95M409.5 56.8h0.95M400.8 69.0h0.95M407.5 61.5h0.95M405.2 62.1h0.95M404.8 70.0h0.95M407.9 56.8h0.95M408.0 58.2h0.95M409.7 67.8h0.95M414.9 63.3h0.95M404.5 70.6h0.95M401.6 62.9h0.95M402.8 65.7h0.95M399.5 68.1h0.95M407.0 66.3h0.95M412.3 64.6h0.95M410.5 63.6h0.95M408.0 57.5h0.95M405.4 65.2h0.95M402.2 63.3h0.95M402.9 62.8h0.95M402.0 63.7h0.95M399.6 65.4h0.95M408.1 64.9h0.95M402.2 72.0h0.95M409.0 70.1h0.95M409.8 64.6h0.95M403.9 70.9h0.95M402.0 65.5h0.95M406.2 67.6h0.95M403.2 70.3h0.95M403.7 69.2h0.95M409.4 68.9h0.95M407.9 60.9h0.95M398.5 63.3h0.95M406.7 72.6h0.95M398.9 67.3h0.95M400.6 62.8h0.95M403.2 69.0h0.95M405.5 71.2h0.95M400.0 69.9h0.95M408.8 66.3h0.95M406.7 63.5h0.95M399.5 64.2h0.95M402.3 73.3h0.95M405.4 67.4h0.95M407.9 62.6h0.95M408.7 67.7h0.95M397.5 68.6h0.95M407.0 68.0h0.95M411.8 64.2h0.95M406.9 69.3h0.95M400.4 71.3h0.95M397.8 60.3h0.95M406.9 61.2h0.95M404.0 58.8h0.95M404.8 61.0h0.95M406.1 59.3h0.95M406.6 64.8h0.95M404.8 65.7h0.95M405.1 60.2h0.95M400.2 64.0h0.95M406.5 57.3h0.95M401.0 63.3h0.95M399.6 67.4h0.95M403.9 62.4h0.95M400.0 69.6h0.95M401.5 68.6h0.95M406.6 57.7h0.95M399.5 66.0h0.95M406.1 69.4h0.95M408.2 70.6h0.95M402.8 65.1h0.95M408.1 64.1h0.95M409.4 59.0h0.95M407.5 65.2h0.95M405.9 66.1h0.95M399.5 64.0h0.95M411.5 62.4h0.95M399.0 65.4h0.95M402.7 62.0h0.95M400.6 70.6h0.95M397.9 74.6h0.95M402.0 61.2h0.95M408.1 68.5h0.95M399.7 69.3h0.95M409.7 64.9h0.95M398.5 68.3h0.95M408.7 65.9h0.95M406.4 69.4h0.95M413.0 64.9h0.95M402.3 65.8h0.95M410.0 61.9h0.95M410.5 53.9h0.95M408.2 63.0h0.95M406.6 69.0h0.95M399.1 65.6h0.95M405.6 68.6h0.95M400.2 61.6h0.95M403.6 65.0h0.95M397.6 70.1h0.95M402.0 72.3h0.95M408.4 66.1h0.95M407.8 61.1h0.95M403.0 63.5h0.95M398.7 66.1h0.95M403.8 72.3h0.95M400.3 64.0h0.95M406.4 67.8h0.95M404.6 63.9h0.95M406.8 67.6h0.95M398.2 60.8h0.95M405.2 66.3h0.95M405.0 62.1h0.95M403.6 62.0h0.95M406.3 69.0h0.95M412.6 71.6h0.95M400.8 64.0h0.95M400.2 67.3h0.95M413.6 69.1h0.95M406.1 74.4h0.95M404.2 70.9h0.95M401.7 65.0h0.95M410.6 73.3h0.95M402.6 73.8h0.95M409.1 67.6h0.95M406.3 74.4h0.95M404.9 74.3h0.95M401.7 68.5h0.95M407.8 66.8h0.95M402.5 73.5h0.95M404.8 72.7h0.95M401.7 66.3h0.95M403.2 66.4h0.95M411.1 67.5h0.95M405.8 65.7h0.95M405.4 68.5h0.95M403.7 65.2h0.95M400.1 73.0h0.95M403.1 67.0h0.95M401.0 67.4h0.95M401.6 64.9h0.95M407.1 68.0h0.95M400.5 71.8h0.95M399.7 67.3h0.95M409.4 65.8h0.95M404.3 73.1h0.95M409.0 66.1h0.95M403.1 71.9h0.95M403.4 74.4h0.95M401.2 74.3h0.95M405.1 66.8h0.95M404.4 65.8h0.95M407.7 67.2h0.95M410.2 70.6h0.95M403.3 67.0h0.95M406.4 66.7h0.95M409.8 65.8h0.95M405.2 70.1h0.95M402.0 72.4h0.95M403.5 71.3h0.95M405.9 67.7h0.95M403.6 65.4h0.95M400.8 73.3h0.95M402.7 71.3h0.95M399.9 70.3h0.95M403.2 69.7h0.95M402.4 65.2h0.95M402.5 66.8h0.95M400.1 71.9h0.95M402.2 68.7h0.95M410.3 72.5h0.95M410.0 73.4h0.95M400.2 67.3h0.95M398.9 71.5h0.95M407.1 68.1h0.95M403.9 71.3h0.95M407.6 67.1h0.95M409.5 68.1h0.95M406.7 66.4h0.95M400.0 73.9h0.95M408.0 71.8h0.95M399.0 64.9h0.95M400.6 66.5h0.95M402.4 68.4h0.95M399.0 67.7h0.95M406.8 66.4h0.95M409.4 70.4h0.95M407.8 67.1h0.95M404.2 71.5h0.95M403.0 64.5h0.95M409.3 72.5h0.95M402.2 64.9h0.95M409.6 70.8h0.95M399.1 67.0h0.95M399.9 72.7h0.95M401.2 73.9h0.95M408.2 65.4h0.95M407.5 68.6h0.95M408.2 73.0h0.95M402.2 65.4h0.95M410.8 68.9h0.95M410.6 71.6h0.95M408.1 73.0h0.95M406.7 69.2h0.95M399.2 71.7h0.95M404.1 69.8h0.95M410.6 65.8h0.95M408.4 65.0h0.95M407.6 72.8h0.95M401.9 70.1h0.95M411.1 71.1h0.95M405.6 67.1h0.95M399.3 68.2h0.95M403.9 66.6h0.95M402.5 65.9h0.95M407.7 71.4h0.95M401.6 67.0h0.95M405.2 69.1h0.95M410.7 68.1h0.95M402.4 73.6h0.95M400.3 70.3h0.95M402.8 72.9h0.95M405.6 72.3h0.95M400.7 71.4h0.95M406.3 69.3h0.95M408.5 73.1h0.95M400.0 67.5h0.95M403.2 66.6h0.95M399.3 67.4h0.95M401.1 71.7h0.95M404.3 65.7h0.95M402.7 69.3h0.95M403.2 66.2h0.95M399.4 64.6h0.95M411.4 72.2h0.95M399.6 71.9h0.95M411.2 70.3h0.95M399.9 69.5h0.95M404.1 66.5h0.95M405.6 64.6h0.95M410.5 71.1h0.95M406.7 74.1h0.95M407.0 67.1h0.95M401.7 65.9h0.95M398.9 72.5h0.95M409.4 67.6h0.95M400.9 71.1h0.95M409.5 74.0h0.95M400.7 72.6h0.95M409.3 72.1h0.95M402.7 66.4h0.95M409.2 67.8h0.95M403.3 70.2h0.95M403.3 73.1h0.95M401.6 64.9h0.95M405.9 71.0h0.95M409.2 71.8h0.95M410.3 74.2h0.95M404.9 69.6h0.95M400.5 67.6h0.95M406.1 65.3h0.95M407.4 66.2h0.95M404.3 74.5h0.95M399.7 64.9h0.95M404.2 66.5h0.95M407.9 64.5h0.95M409.4 73.3h0.95M408.7 68.9h0.95M402.2 71.3h0.95M405.2 68.8h0.95M402.9 69.0h0.95M407.2 73.0h0.95M410.3 66.2h0.95M402.3 69.1h0.95M405.8 68.1h0.95M401.0 65.4h0.95M402.7 69.2h0.95M411.1 73.9h0.95M409.8 74.5h0.95M411.0 70.9h0.95M409.0 65.1h0.95M407.3 70.8h0.95M402.4 70.4h0.95M410.9 69.5h0.95M406.9 67.6h0.95M403.0 73.6h0.95M398.9 66.4h0.95M407.3 69.1h0.95M399.6 71.3h0.95M403.3 70.5h0.95M403.9 70.0h0.95M405.8 68.6h0.95M400.0 66.4h0.95M410.1 70.1h0.95M400.0 73.4h0.95M401.8 65.5h0.95M405.4 67.1h0.95M404.9 70.2h0.95M401.4 70.4h0.95M400.0 69.8h0.95M406.1 65.3h0.95M403.8 65.3h0.95M404.2 73.4h0.95M405.7 71.9h0.95M408.3 65.7h0.95M411.4 71.9h0.95M399.8 73.1h0.95M403.6 66.3h0.95M411.0 70.3h0.95M408.6 65.9h0.95M408.6 65.1h0.95M401.6 68.3h0.95M398.7 70.6h0.95M401.3 67.6h0.95M407.7 68.9h0.95M410.1 70.9h0.95M409.8 70.3h0.95M410.4 73.5h0.95M400.7 72.2h0.95M402.3 71.1h0.95M408.6 72.0h0.95M398.3 64.9h0.95M409.6 74.0h0.95M409.4 59.7h0.95M407.2 60.6h0.95M406.2 71.7h0.95M398.1 73.6h0.95M408.5 63.0h0.95M399.6 66.1h0.95M411.5 68.2h0.95M398.1 59.3h0.95M398.0 71.7h0.95M399.4 67.8h0.95M401.4 69.9h0.95M403.0 61.3h0.95M412.2 67.5h0.95M408.8 71.8h0.95M413.6 59.2h0.95M402.3 61.4h0.95M405.3 72.8h0.95M410.8 59.6h0.95M399.4 71.9h0.95M408.6 65.2h0.95M404.8 61.5h0.95M411.6 65.2h0.95M412.2 68.7h0.95M397.4 64.2h0.95M400.0 73.1h0.95M406.9 59.7h0.95M399.1 64.7h0.95M404.7 68.1h0.95M403.2 64.6h0.95M396.1 68.2h0.95M402.2 59.3h0.95M404.5 74.6h0.95M396.8 61.3h0.95M408.4 63.3h0.95M401.1 66.9h0.95M400.8 68.0h0.95M405.8 74.1h0.95M414.4 59.5h0.95M406.4 71.2h0.95M412.1 71.2h0.95M407.7 69.0h0.95M402.7 63.4h0.95M410.7 72.8h0.95M413.4 69.8h0.95M401.6 71.1h0.95M409.7 67.0h0.95M407.8 64.5h0.95M406.2 65.4h0.95M397.1 64.3h0.95M402.0 74.6h0.95M404.9 64.8h0.95M400.5 62.7h0.95M402.5 61.1h0.95M396.1 72.8h0.95M404.4 66.0h0.95M406.5 63.8h0.95M399.1 60.0h0.95M401.6 63.9h0.95M409.4 67.7h0.95M413.3 64.4h0.95M413.0 68.2h0.95M397.5 61.8h0.95M406.7 74.6h0.95M402.6 71.2h0.95M403.9 72.7h0.95M397.3 66.7h0.95M412.6 63.4h0.95M400.8 59.4h0.95M399.0 63.2h0.95M409.0 62.4h0.95M403.4 62.2h0.95M407.2 72.7h0.95M408.0 62.1h0.95M409.6 74.2h0.95M407.1 60.3h0.95M411.0 72.8h0.95M402.3 61.2h0.95M399.5 67.5h0.95M412.2 69.1h0.95M413.1 62.4h0.95M402.0 70.8h0.95M408.0 65.4h0.95M408.6 64.3h0.95M397.1 65.5h0.95M396.8 68.9h0.95M402.2 66.8h0.95M407.1 63.1h0.95M404.6 59.2h0.95M413.1 67.9h0.95M414.3 59.9h0.95M407.4 70.4h0.95M402.1 60.5h0.95M398.9 61.3h0.95M410.2 60.4h0.95M411.1 65.7h0.95M406.0 68.3h0.95M406.3 69.4h0.95M407.1 64.2h0.95M409.7 63.1h0.95M409.2 71.1h0.95M410.4 63.9h0.95M410.3 74.4h0.95M404.4 63.4h0.95M405.7 73.9h0.95M398.4 59.1h0.95M404.8 69.4h0.95M410.3 64.7h0.95M414.3 62.6h0.95M410.0 60.4h0.95M396.5 61.1h0.95M397.1 66.9h0.95M406.3 61.9h0.95M413.4 64.8h0.95M398.8 61.8h0.95M409.6 73.6h0.95M399.0 59.5h0.95M410.4 62.8h0.95M414.2 66.9h0.95M407.8 64.4h0.95M410.8 66.3h0.95M402.0 73.3h0.95M398.0 70.6h0.95M397.2 69.2h0.95M403.4 72.7h0.95M397.1 67.9h0.95M403.6 73.5h0.95M413.5 68.9h0.95M400.1 63.0h0.95M400.9 65.9h0.95M400.3 62.2h0.95M410.0 69.2h0.95M401.5 74.7h0.95M400.0 68.0h0.95M398.9 72.6h0.95M412.1 63.2h0.95M409.9 72.0h0.95M401.2 64.2h0.95M405.0 73.1h0.95M399.0 69.8h0.95M407.1 66.2h0.95M406.7 72.9h0.95M399.9 73.0h0.95M402.7 71.3h0.95M412.0 61.9h0.95M412.0 74.7h0.95M401.5 59.4h0.95M398.1 74.4h0.95M396.2 73.4h0.95M398.8 70.6h0.95M397.8 61.7h0.95M408.6 60.4h0.95M402.3 73.5h0.95M409.3 72.9h0.95M414.1 59.5h0.95M400.3 71.5h0.95M408.8 59.6h0.95M405.3 62.7h0.95M404.0 60.7h0.95M396.4 74.7h0.95M401.9 72.9h0.95M398.2 66.7h0.95M398.5 65.8h0.95M399.3 69.8h0.95M398.7 70.7h0.95M405.3 60.8h0.95M402.5 66.8h0.95M413.0 64.5h0.95M400.0 74.3h0.95M412.3 70.6h0.95M401.0 61.8h0.95M400.9 60.1h0.95M396.8 67.0h0.95M403.6 67.8h0.95M402.7 59.2h0.95M408.7 69.3h0.95M406.1 67.7h0.95M408.8 74.5h0.95M412.2 70.3h0.95M403.4 64.0h0.95M403.8 74.4h0.95M403.2 65.1h0.95M403.6 61.3h0.95M414.5 59.1h0.95M407.2 73.6h0.95M400.7 68.7h0.95M403.0 62.8h0.95M399.7 60.8h0.95M411.6 71.4h0.95M412.8 59.8h0.95M408.8 64.1h0.95M408.0 67.7h0.95M401.8 74.4h0.95M396.0 70.8h0.95M411.8 67.1h0.95M407.0 74.7h0.95M400.3 68.9h0.95M409.8 65.0h0.95M409.2 65.2h0.95M405.7 68.7h0.95M408.5 64.1h0.95M407.6 67.6h0.95M400.1 68.7h0.95M400.9 73.4h0.95M404.8 70.4h0.95M405.7 66.5h0.95M400.1 61.2h0.95M413.2 67.4h0.95M405.7 67.3h0.95M411.0 62.8h0.95M399.2 72.0h0.95M404.5 69.1h0.95M411.3 73.1h0.95M412.1 59.7h0.95M403.1 72.1h0.95M411.1 60.9h0.95M398.8 63.0h0.95M397.9 64.6h0.95M410.9 67.2h0.95M404.4 60.4h0.95M403.3 74.8h0.95M408.9 66.1h0.95M404.8 71.6h0.95M410.0 61.4h0.95M408.6 64.8h0.95M405.6 62.8h0.95M402.9 64.4h0.95M398.3 63.2h0.95M397.2 69.7h0.95M396.3 65.1h0.95M400.3 66.2h0.95M397.9 65.9h0.95M401.0 64.1h0.95M399.8 73.1h0.95M397.2 68.0h0.95M400.8 70.3h0.95M398.2 63.5h0.95M398.7 67.3h0.95M400.3 66.5h0.95M398.4 70.6h0.95M400.9 67.2h0.95M398.3 69.8h0.95M401.5 65.3h0.95M401.8 71.4h0.95M398.2 70.9h0.95M398.0 63.8h0.95M400.5 67.5h0.95M399.2 68.9h0.95M401.4 71.9h0.95M396.2 70.0h0.95M398.8 68.5h0.95M401.0 67.9h0.95M398.8 73.5h0.95M398.6 68.8h0.95M399.1 72.7h0.95M400.0 71.7h0.95M398.4 63.5h0.95M400.1 69.5h0.95M400.6 72.1h0.95M396.7 65.6h0.95M396.5 72.6h0.95M396.6 64.0h0.95M400.5 69.7h0.95M396.3 71.0h0.95M400.3 68.7h0.95M396.3 71.2h0.95M398.5 69.9h0.95M402.0 72.6h0.95M401.2 64.7h0.95M398.0 69.1h0.95M396.0 74.7h0.95M397.6 66.1h0.95M397.9 66.0h0.95M401.2 69.6h0.95M399.1 68.0h0.95M396.3 66.6h0.95M401.2 72.5h0.95M401.1 66.0h0.95M397.2 63.6h0.95M399.2 67.4h0.95M398.8 68.8h0.95M399.5 67.3h0.95M400.8 65.4h0.95M401.5 69.6h0.95M396.3 66.7h0.95M399.2 67.8h0.95M399.4 66.8h0.95M397.6 72.4h0.95M397.7 71.4h0.95M400.8 70.0h0.95M398.7 74.0h0.95M398.7 73.4h0.95M396.3 68.1h0.95M399.8 63.6h0.95M401.2 63.8h0.95M399.6 65.1h0.95M401.5 69.6h0.95M400.8 68.9h0.95M400.0 71.0h0.95M397.8 65.5h0.95M401.0 64.7h0.95M401.5 65.4h0.95M396.6 64.1h0.95M400.7 74.2h0.95M398.5 70.8h0.95M397.5 73.7h0.95M400.1 64.8h0.95M396.3 71.2h0.95M396.3 72.9h0.95M397.8 65.7h0.95M399.5 66.8h0.95M399.4 64.8h0.95M401.5 66.8h0.95M401.0 64.8h0.95M400.8 74.6h0.95M398.3 63.4h0.95M398.3 70.6h0.95" stroke="#000" stroke-width="0.95" fill="none"/>
<path d="M399.4 51.0h0.95M392.8 46.9h0.95M425.1 45.1h0.95M422.6 28.9h0.95M430.2 29.3h0.95M435.0 74.2h0.95M435.8 50.1h0.95M402.8 40.9h0.95M426.2 48.5h0.95M435.3 27.8h0.95M412.7 67.4h0.95M418.4 50.8h0.95M392.5 30.2h0.95M401.8 68.9h0.95M431.0 34.7h0.95M435.1 24.7h0.95" stroke="#aaa" stroke-width="0.95" fill="none"/>
<path d="M476.7 65.6h0.95M481.7 69.6h0.95M480.8 73.5h0.95M481.9 71.7h0.95M481.1 70.0h0.95M477.9 68.7h0.95M479.8 68.5h0.95M485.3 71.3h0.95M485.3 73.1h0.95M484.5 73.6h0.95M480.7 73.0h0.95M481.4 68.9h0.95M484.3 67.9h0.95M482.9 71.6h0.95M483.1 69.4h0.95M479.0 70.6h0.95M484.4 72.9h0.95M483.9 73.9h0.95M479.7 70.4h0.95M483.1 73.6h0.95M482.6 72.1h0.95M476.7 70.4h0.95M488.4 71.2h0.95M477.6 70.9h0.95M478.6 68.4h0.95M483.4 72.6h0.95M484.8 71.1h0.95M480.1 70.2h0.95M483.0 69.6h0.95M480.5 69.4h0.95M478.4 67.3h0.95M482.0 69.4h0.95M483.0 70.4h0.95M479.3 67.2h0.95M483.1 67.8h0.95M483.3 67.2h0.95M482.5 70.3h0.95M484.7 69.3h0.95M481.3 71.3h0.95M481.6 68.8h0.95M481.4 72.0h0.95M482.8 72.6h0.95M486.8 70.4h0.95M479.2 71.0h0.95M483.2 63.6h0.95M482.2 65.9h0.95M483.3 74.8h0.95M484.8 65.9h0.95M485.7 73.3h0.95M481.3 72.0h0.95M486.0 69.5h0.95M482.2 68.8h0.95M485.1 63.9h0.95M485.8 67.5h0.95M484.5 65.5h0.95M479.9 68.7h0.95M484.3 65.5h0.95M483.7 68.5h0.95M485.3 69.5h0.95M483.4 70.0h0.95M486.7 69.4h0.95M482.4 72.6h0.95M480.4 71.1h0.95M476.5 70.8h0.95M480.6 65.9h0.95M478.7 74.0h0.95M483.3 65.8h0.95M486.7 68.4h0.95M481.3 71.3h0.95M479.4 65.5h0.95M480.3 74.1h0.95M484.6 65.6h0.95M485.2 70.6h0.95M483.5 70.7h0.95M483.2 67.4h0.95M479.9 68.3h0.95M481.3 72.4h0.95M480.6 68.7h0.95M484.0 71.8h0.95M481.4 67.2h0.95M479.7 65.6h0.95M485.1 73.8h0.95M486.9 72.0h0.95M483.0 72.8h0.95M484.6 69.7h0.95M478.0 66.2h0.95M479.8 72.8h0.95M485.2 69.5h0.95M483.9 70.4h0.95M483.0 68.8h0.95M482.1 70.5h0.95M477.7 72.1h0.95M482.2 73.5h0.95M484.9 72.9h0.95M484.2 67.6h0.95M485.2 67.6h0.95M485.4 72.6h0.95M476.1 73.3h0.95M479.7 74.1h0.95M480.5 68.2h0.95M478.3 69.8h0.95M484.7 68.4h0.95M486.8 72.6h0.95M480.9 66.8h0.95M478.1 72.2h0.95M485.5 67.2h0.95M482.2 69.6h0.95M481.6 72.0h0.95M487.4 68.5h0.95M484.3 73.9h0.95M481.5 70.0h0.95M478.8 73.8h0.95M480.9 68.5h0.95M482.4 67.9h0.95M479.6 69.6h0.95M485.9 69.9h0.95M483.5 66.0h0.95M481.2 65.8h0.95M481.9 72.4h0.95M477.9 67.8h0.95M482.9 67.7h0.95M484.2 73.5h0.95M483.3 69.2h0.95M482.1 68.5h0.95M481.9 71.5h0.95M481.4 73.5h0.95M488.7 68.8h0.95M483.1 73.0h0.95M483.8 69.8h0.95M481.0 73.6h0.95M483.8 72.1h0.95M480.2 72.5h0.95M484.2 69.9h0.95M477.5 72.4h0.95M479.3 66.3h0.95M481.6 72.2h0.95M482.3 66.9h0.95M478.6 68.8h0.95M482.2 67.9h0.95M480.1 70.0h0.95M480.8 68.7h0.95M482.3 69.6h0.95M483.8 66.8h0.95M482.0 72.9h0.95M485.2 72.2h0.95M482.3 65.7h0.95M478.2 73.5h0.95M483.9 72.3h0.95M478.0 63.9h0.95M479.5 66.8h0.95M482.6 67.3h0.95M486.2 68.6h0.95M480.8 73.2h0.95M483.0 67.7h0.95M479.1 69.7h0.95M479.5 64.5h0.95M483.8 72.7h0.95M484.7 71.8h0.95M477.1 70.4h0.95M480.5 66.8h0.95M479.4 72.9h0.95M483.4 64.6h0.95M484.5 74.4h0.95M482.3 66.7h0.95M486.7 66.4h0.95M482.0 64.6h0.95M479.0 65.2h0.95M485.0 74.2h0.95M481.2 66.3h0.95M482.0 71.7h0.95M478.3 66.9h0.95M481.9 72.7h0.95M482.4 71.9h0.95M479.0 62.7h0.95M483.0 67.6h0.95M481.9 69.3h0.95M483.4 68.1h0.95M485.9 70.6h0.95M483.5 72.5h0.95M484.8 71.8h0.95M477.8 68.5h0.95M486.9 72.0h0.95M483.6 72.0h0.95M480.6 68.4h0.95M480.6 74.1h0.95M483.4 66.8h0.95M486.6 71.6h0.95M485.2 71.2h0.95M481.4 71.0h0.95M479.3 66.8h0.95M479.9 68.9h0.95M478.7 70.2h0.95M486.9 70.3h0.95M484.5 69.8h0.95M483.2 70.4h0.95M480.8 70.7h0.95M478.4 71.9h0.95M481.5 67.1h0.95M481.3 72.2h0.95M480.5 72.0h0.95M479.4 70.2h0.95M482.9 72.9h0.95M478.4 68.7h0.95M486.5 69.6h0.95M487.7 68.2h0.95M481.5 65.5h0.95M483.8 71.3h0.95M487.4 71.0h0.95M481.6 66.1h0.95M482.0 73.5h0.95M484.1 74.4h0.95M484.4 70.4h0.95M483.8 71.0h0.95M483.2 67.2h0.95M483.2 71.4h0.95M486.1 67.5h0.95M477.4 71.4h0.95M483.1 71.6h0.95M479.3 69.0h0.95M482.7 72.9h0.95M487.8 71.4h0.95M480.6 63.0h0.95M485.0 70.1h0.95M481.9 67.4h0.95M484.1 64.8h0.95M482.5 70.9h0.95M483.0 74.6h0.95M481.9 70.8h0.95M484.4 65.6h0.95M481.4 70.7h0.95M484.7 68.0h0.95M484.3 71.7h0.95M478.4 65.8h0.95M478.5 70.9h0.95M482.7 72.8h0.95M484.3 68.7h0.95M485.0 73.1h0.95M483.4 72.0h0.95M478.9 71.6h0.95M479.5 66.7h0.95M481.3 70.9h0.95M482.1 69.4h0.95M479.6 71.1h0.95M480.3 66.0h0.95M481.2 67.1h0.95M481.4 69.8h0.95M482.5 73.7h0.95M483.3 64.7h0.95M479.3 66.6h0.95M483.3 70.8h0.95M486.8 69.6h0.95M483.0 70.7h0.95M485.6 68.6h0.95M484.0 69.3h0.95M482.5 71.0h0.95M482.3 69.0h0.95M486.2 69.7h0.95M483.8 73.8h0.95M485.8 74.0h0.95M486.7 65.9h0.95M487.3 70.6h0.95M477.7 68.5h0.95M478.6 70.4h0.95M478.3 67.3h0.95M483.0 71.0h0.95M480.1 69.8h0.95M481.9 70.7h0.95M482.2 69.8h0.95M484.5 65.4h0.95M480.9 70.9h0.95M481.2 68.7h0.95M481.1 71.2h0.95M485.4 69.9h0.95M481.5 71.6h0.95M481.6 64.3h0.95M482.9 69.3h0.95M480.7 72.5h0.95M482.3 68.7h0.95M476.5 65.0h0.95M482.2 70.1h0.95M483.3 71.2h0.95M481.0 66.5h0.95M479.4 70.1h0.95M479.2 72.9h0.95M478.8 64.8h0.95M481.7 64.8h0.95M486.4 67.3h0.95M482.1 69.7h0.95M480.1 64.8h0.95M477.4 73.3h0.95M478.4 72.3h0.95M482.2 73.2h0.95M480.9 72.8h0.95M484.5 72.4h0.95M486.0 69.9h0.95M486.2 68.3h0.95M486.5 61.7h0.95M482.2 67.9h0.95M482.2 73.8h0.95M484.1 70.8h0.95M486.6 65.8h0.95M483.1 63.9h0.95M483.1 66.7h0.95M486.0 74.2h0.95M480.8 74.6h0.95M480.0 73.4h0.95M483.7 70.1h0.95M478.5 69.6h0.95M476.2 68.7h0.95M477.4 74.4h0.95M479.7 62.7h0.95M483.7 71.7h0.95M484.2 70.7h0.95M480.5 61.0h0.95M483.4 73.6h0.95M480.7 66.0h0.95M482.1 65.1h0.95M482.2 73.0h0.95M486.1 71.3h0.95M482.7 72.9h0.95M485.8 69.5h0.95M479.0 68.0h0.95M478.9 67.7h0.95M481.9 71.6h0.95M482.6 70.7h0.95M481.3 71.9h0.95M484.5 72.9h0.95M486.1 69.6h0.95M482.7 71.8h0.95M481.3 73.6h0.95M481.2 67.3h0.95M482.0 69.1h0.95M484.4 69.3h0.95M482.5 69.8h0.95M483.1 68.5h0.95M485.1 65.9h0.95M481.2 68.2h0.95M483.9 70.6h0.95M483.5 69.4h0.95M480.3 66.9h0.95M481.3 68.8h0.95M482.9 71.6h0.95M484.7 70.2h0.95M480.3 67.1h0.95M482.4 71.7h0.95M487.3 71.1h0.95M479.5 74.4h0.95M482.2 73.6h0.95M480.9 70.3h0.95M481.6 73.6h0.95M482.4 68.2h0.95M482.8 72.6h0.95M480.3 72.5h0.95M480.3 67.7h0.95M482.8 69.7h0.95M479.6 65.3h0.95M482.3 71.3h0.95M481.0 71.1h0.95M478.2 71.8h0.95M483.3 71.4h0.95M480.6 70.8h0.95M482.5 73.9h0.95M482.9 71.3h0.95M480.3 73.3h0.95M485.2 68.9h0.95M483.9 71.5h0.95M482.1 66.4h0.95M486.8 64.5h0.95M483.0 69.3h0.95M485.2 69.1h0.95M482.3 72.5h0.95M483.4 68.8h0.95M484.0 71.8h0.95M484.8 68.9h0.95M482.1 69.3h0.95M480.0 71.3h0.95M481.4 71.7h0.95M485.2 70.1h0.95M482.4 70.9h0.95M480.4 67.3h0.95M484.2 71.4h0.95M482.3 68.3h0.95M482.6 73.6h0.95M480.6 69.0h0.95M484.2 74.1h0.95M484.9 69.8h0.95M483.4 69.4h0.95M483.2 70.2h0.95M482.7 73.9h0.95M482.9 70.5h0.95M482.5 71.6h0.95M481.6 71.5h0.95M483.4 74.4h0.95M479.1 68.4h0.95M480.4 72.9h0.95M486.3 71.4h0.95M482.6 73.5h0.95M478.5 70.6h0.95M477.4 71.3h0.95M481.6 69.9h0.95M482.9 69.7h0.95M484.2 71.0h0.95M481.7 73.0h0.95M481.1 73.7h0.95M483.9 71.3h0.95M484.0 74.5h0.95M484.6 71.0h0.95M482.3 73.4h0.95M480.1 69.7h0.95M483.2 72.2h0.95M482.9 72.0h0.95M480.3 70.6h0.95M482.8 70.5h0.95M482.5 72.3h0.95M480.9 69.8h0.95M479.6 73.5h0.95M480.7 67.3h0.95M483.6 70.5h0.95M483.9 70.2h0.95M485.8 72.6h0.95M482.6 71.3h0.95M482.1 72.8h0.95M485.6 70.1h0.95M480.7 72.3h0.95M484.1 67.8h0.95M481.3 68.8h0.95M483.3 72.1h0.95M481.2 68.6h0.95M483.5 66.5h0.95M483.4 70.7h0.95M485.4 73.2h0.95M481.5 70.4h0.95M482.0 69.4h0.95M482.5 73.1h0.95M480.0 70.5h0.95M484.8 72.6h0.95M481.1 69.3h0.95M481.1 67.5h0.95M484.2 71.2h0.95M481.3 67.9h0.95M481.8 69.9h0.95M485.1 70.0h0.95M482.6 73.3h0.95M483.5 70.6h0.95M479.0 74.0h0.95M483.3 70.1h0.95M482.3 68.9h0.95M481.0 67.8h0.95M483.2 72.1h0.95M482.7 72.7h0.95M483.2 71.3h0.95M481.0 72.3h0.95M484.3 72.4h0.95M484.4 70.0h0.95M480.9 73.7h0.95M481.5 71.5h0.95M482.1 71.0h0.95M482.0 69.8h0.95M482.7 66.8h0.95M481.0 68.6h0.95M481.2 65.5h0.95M483.3 74.5h0.95M482.0 72.6h0.95M483.3 68.3h0.95M484.3 67.4h0.95M481.5 70.2h0.95M484.4 71.3h0.95M482.2 69.3h0.95M482.5 71.1h0.95M483.5 74.0h0.95M483.6 71.0h0.95M482.2 74.5h0.95M482.7 71.0h0.95M485.2 74.4h0.95M483.3 70.8h0.95M481.4 73.3h0.95M481.7 73.1h0.95M481.2 71.2h0.95M483.0 71.3h0.95M482.8 71.8h0.95M480.6 68.6h0.95M482.2 69.0h0.95M481.4 71.1h0.95M484.3 69.8h0.95M483.3 71.4h0.95M481.8 69.0h0.95M482.2 69.4h0.95M483.2 67.2h0.95M484.2 72.6h0.95M483.3 74.2h0.95M483.3 67.3h0.95M482.5 72.0h0.95M481.3 68.6h0.95M483.1 72.1h0.95M481.7 70.5h0.95M481.6 69.8h0.95M482.3 73.3h0.95M479.9 70.3h0.95M484.9 71.7h0.95M482.6 72.8h0.95M480.8 68.4h0.95M479.8 67.9h0.95M482.8 72.8h0.95M481.8 69.5h0.95M483.0 72.3h0.95M482.8 66.9h0.95M481.6 65.6h0.95M482.8 69.2h0.95M481.4 74.2h0.95M484.5 72.0h0.95M482.8 71.4h0.95M481.5 70.9h0.95M485.4 69.1h0.95M481.4 71.3h0.95M483.8 72.8h0.95M480.9 70.7h0.95M482.0 68.4h0.95M482.5 70.0h0.95M483.8 71.9h0.95M481.2 71.2h0.95M481.8 69.6h0.95M481.6 73.3h0.95M481.8 67.3h0.95M481.2 72.7h0.95M485.8 68.7h0.95M481.8 70.3h0.95M480.2 71.9h0.95M482.3 71.6h0.95M485.9 70.4h0.95M483.6 72.8h0.95M481.4 69.7h0.95M484.8 72.5h0.95M482.6 68.7h0.95M483.8 72.1h0.95M485.8 74.2h0.95M483.7 71.6h0.95M482.5 69.8h0.95M482.9 71.5h0.95M483.4 73.3h0.95M482.9 69.8h0.95M483.7 74.3h0.95M481.1 71.9h0.95M483.3 72.1h0.95M483.2 70.8h0.95M482.2 74.6h0.95M485.1 68.0h0.95M478.5 71.9h0.95M481.4 69.9h0.95M479.9 71.8h0.95M482.3 69.8h0.95M484.7 73.5h0.95M481.8 72.4h0.95M482.3 73.5h0.95M483.3 70.9h0.95M483.3 69.5h0.95M483.6 74.2h0.95M481.8 72.2h0.95M479.8 73.0h0.95M483.8 68.8h0.95M485.1 71.2h0.95M479.7 68.1h0.95M483.8 70.4h0.95M484.1 67.7h0.95M482.2 73.1h0.95M481.3 72.5h0.95M481.8 71.7h0.95M480.5 72.7h0.95M484.4 68.6h0.95M484.0 64.7h0.95M482.0 67.3h0.95M482.9 69.4h0.95M481.5 69.2h0.95M482.9 70.0h0.95M481.0 70.5h0.95M483.0 69.2h0.95M484.1 67.5h0.95M483.0 70.2h0.95M484.8 69.6h0.95M481.4 68.1h0.95M485.5 72.3h0.95M480.7 70.3h0.95M480.9 74.3h0.95M483.0 66.6h0.95M482.7 73.0h0.95M482.4 72.0h0.95M482.2 71.4h0.95M482.7 69.5h0.95M482.9 71.4h0.95M482.3 69.5h0.95M480.8 71.5h0.95M483.7 65.8h0.95M481.6 73.9h0.95M483.8 69.5h0.95M484.5 68.9h0.95M481.7 70.5h0.95M479.8 68.8h0.95M480.6 70.7h0.95M479.5 73.3h0.95M481.8 69.7h0.95M481.4 72.6h0.95M484.8 70.1h0.95M484.9 74.4h0.95M484.5 71.6h0.95M480.1 72.4h0.95M481.8 71.4h0.95M479.5 70.4h0.95M482.8 69.0h0.95M482.9 74.6h0.95M482.8 69.5h0.95M486.1 66.4h0.95M481.0 71.9h0.95M481.5 66.1h0.95M482.8 72.8h0.95M481.2 74.1h0.95M483.2 73.6h0.95M480.0 71.0h0.95M484.5 71.0h0.95M482.7 69.7h0.95M484.1 69.5h0.95M482.6 66.6h0.95M482.4 55.1h0.95M484.7 49.3h0.95M481.4 48.4h0.95M487.6 43.0h0.95M481.1 47.9h0.95M483.8 47.7h0.95M482.8 43.5h0.95M482.8 50.9h0.95M484.5 51.5h0.95M483.0 50.7h0.95M484.0 48.8h0.95M486.0 48.6h0.95M484.1 42.3h0.95M484.7 51.4h0.95M483.7 48.3h0.95M482.0 43.5h0.95M485.2 53.3h0.95M484.1 42.3h0.95M484.0 42.7h0.95M484.2 55.7h0.95M485.0 47.9h0.95M486.1 47.1h0.95M485.1 49.2h0.95M485.3 43.0h0.95M485.6 51.8h0.95M481.2 38.4h0.95M483.3 54.1h0.95M484.6 51.0h0.95M485.4 51.8h0.95M483.7 46.3h0.95M485.2 50.8h0.95M485.4 49.8h0.95M483.9 52.6h0.95M485.3 52.5h0.95M480.9 52.3h0.95M481.0 49.3h0.95M483.6 49.0h0.95M483.9 47.3h0.95M484.9 49.8h0.95M483.4 39.0h0.95M483.4 50.5h0.95M483.4 50.1h0.95M484.1 45.0h0.95M486.3 54.7h0.95M484.4 48.3h0.95M486.0 43.5h0.95M483.3 52.7h0.95M485.9 46.6h0.95M483.4 49.8h0.95M482.5 46.6h0.95M484.3 39.3h0.95M485.5 51.4h0.95M486.2 43.1h0.95M482.7 45.4h0.95M482.7 56.2h0.95M483.2 47.3h0.95M484.9 50.2h0.95M486.8 44.4h0.95M485.9 49.1h0.95M482.9 49.1h0.95M482.5 54.6h0.95M483.5 52.3h0.95M486.5 46.2h0.95M483.3 49.0h0.95M483.0 51.9h0.95M484.9 45.6h0.95M483.6 51.2h0.95M482.4 54.9h0.95M483.4 47.8h0.95M483.2 54.6h0.95M485.8 53.4h0.95M485.6 48.8h0.95M487.1 51.0h0.95M485.3 50.7h0.95M485.7 49.6h0.95M484.4 42.5h0.95M487.7 43.6h0.95M481.4 45.8h0.95M487.5 53.1h0.95M483.7 49.5h0.95M484.6 41.0h0.95M484.1 49.6h0.95M486.4 43.9h0.95M481.2 42.5h0.95M485.1 48.8h0.95M484.8 49.1h0.95M484.1 43.3h0.95M485.3 50.0h0.95M485.5 53.2h0.95M482.7 39.6h0.95M481.9 56.6h0.95M483.2 50.0h0.95M484.6 51.3h0.95M489.4 46.5h0.95M484.3 46.2h0.95M485.0 50.5h0.95M483.1 53.5h0.95M486.3 50.2h0.95M484.4 47.6h0.95M482.1 51.0h0.95M483.1 46.6h0.95M486.1 45.0h0.95M483.8 51.8h0.95M487.4 45.9h0.95M486.3 46.0h0.95M485.2 50.3h0.95M482.9 52.4h0.95M487.3 48.7h0.95M485.0 44.0h0.95M487.3 48.7h0.95M482.7 51.4h0.95M482.4 45.9h0.95M481.4 53.7h0.95M487.9 46.1h0.95M483.6 46.3h0.95M483.8 50.6h0.95M486.8 44.7h0.95M485.3 41.6h0.95M486.9 48.2h0.95M483.5 54.3h0.95M484.4 53.7h0.95M486.2 54.8h0.95M483.4 48.7h0.95M485.2 47.8h0.95M486.9 45.8h0.95M486.1 53.7h0.95M481.7 44.8h0.95M483.2 46.4h0.95M485.2 47.8h0.95M484.7 46.8h0.95M483.8 60.7h0.95M485.5 56.3h0.95M483.8 56.3h0.95M483.6 54.0h0.95M485.9 61.4h0.95M483.8 56.6h0.95M483.1 56.7h0.95M480.9 64.7h0.95M490.6 54.7h0.95M481.7 61.0h0.95M485.2 53.5h0.95M480.2 60.9h0.95M480.0 64.0h0.95M483.0 59.3h0.95M484.0 57.0h0.95M483.7 58.0h0.95M486.5 58.7h0.95M483.9 57.1h0.95M482.7 56.4h0.95M484.0 65.4h0.95M486.2 59.8h0.95M487.3 62.5h0.95M484.4 58.4h0.95M481.8 59.9h0.95M483.4 53.5h0.95M481.4 65.8h0.95M484.4 60.7h0.95M484.4 57.4h0.95M484.9 62.8h0.95M483.4 60.8h0.95M486.1 57.3h0.95M484.3 56.4h0.95M485.2 57.7h0.95M486.3 56.3h0.95M487.4 57.9h0.95M482.3 55.8h0.95M485.3 56.0h0.95M487.6 63.5h0.95M485.0 54.0h0.95M484.0 56.5h0.95M481.1 52.1h0.95M493.1 47.3h0.95M488.9 56.4h0.95M483.6 48.3h0.95M487.3 52.4h0.95M483.1 51.1h0.95M486.2 54.8h0.95M481.7 47.2h0.95M485.0 48.4h0.95M488.7 46.9h0.95M494.7 46.5h0.95M489.0 55.1h0.95M489.4 49.0h0.95M484.0 48.7h0.95M488.5 50.6h0.95M488.2 52.9h0.95M483.8 45.3h0.95M490.8 47.6h0.95M476.3 74.3h0.95M477.9 69.9h0.95M479.2 71.2h0.95M476.3 70.5h0.95M475.9 74.5h0.95M475.6 74.5h0.95M474.6 64.1h0.95M477.4 66.2h0.95M477.1 65.3h0.95M479.1 71.2h0.95M478.2 74.0h0.95M480.0 71.3h0.95M478.3 64.0h0.95M474.5 68.6h0.95M479.8 67.4h0.95M477.5 64.1h0.95M476.6 73.7h0.95M477.6 72.9h0.95M474.3 66.2h0.95M475.2 73.0h0.95M474.8 74.1h0.95M475.8 73.5h0.95M477.2 67.5h0.95M479.8 68.4h0.95M478.2 64.7h0.95M479.0 74.6h0.95M474.8 72.1h0.95M475.8 65.6h0.95M476.3 71.1h0.95M479.7 74.7h0.95M480.0 70.7h0.95M478.0 65.7h0.95M478.4 70.0h0.95M476.3 73.7h0.95M475.7 65.5h0.95M475.1 65.6h0.95M477.6 72.6h0.95M475.1 69.4h0.95M477.5 70.1h0.95M476.6 69.9h0.95M474.3 64.6h0.95M476.7 66.6h0.95M478.6 66.6h0.95M479.0 66.6h0.95M474.7 69.2h0.95M476.4 67.6h0.95M478.6 66.4h0.95M478.1 73.0h0.95M476.8 69.4h0.95M479.6 70.5h0.95M475.2 64.8h0.95M474.7 67.6h0.95M474.7 71.0h0.95M476.7 67.3h0.95M477.2 74.1h0.95" stroke="#000" stroke-width="0.95" fill="none"/>
<path d="M468.9 31.0h0.95M472.8 39.7h0.95M512.1 59.3h0.95M480.8 31.5h0.95M455.9 29.3h0.95M508.0 56.3h0.95M463.2 55.1h0.95M456.8 49.1h0.95M474.8 28.3h0.95M501.2 59.8h0.95M486.1 31.6h0.95M496.5 45.3h0.95M495.9 27.7h0.95M511.6 23.2h0.95M467.5 43.5h0.95M465.9 27.5h0.95" stroke="#aaa" stroke-width="0.95" fill="none"/>
<path d="M401.6 125.6h0.95M403.9 137.2h0.95M404.1 133.0h0.95M401.5 137.9h0.95M403.5 135.8h0.95M408.2 136.7h0.95M411.3 134.6h0.95M407.7 137.2h0.95M403.2 135.2h0.95M403.4 131.7h0.95M405.8 132.5h0.95M409.7 132.6h0.95M403.5 135.3h0.95M403.5 135.2h0.95M403.3 130.4h0.95M398.2 130.9h0.95M409.3 136.4h0.95M405.4 133.5h0.95M404.6 136.0h0.95M401.1 132.4h0.95M402.5 139.0h0.95M402.0 138.8h0.95M404.8 135.1h0.95M408.8 137.8h0.95M407.6 131.6h0.95M404.7 133.5h0.95M401.9 138.3h0.95M405.8 135.0h0.95M407.5 134.9h0.95M409.1 132.0h0.95M407.5 131.8h0.95M409.0 134.1h0.95M408.4 133.7h0.95M406.1 138.7h0.95M402.5 135.3h0.95M402.7 137.7h0.95M403.3 133.8h0.95M404.4 138.7h0.95M402.1 134.9h0.95M404.1 133.2h0.95M402.8 134.5h0.95M405.5 130.0h0.95M405.7 131.2h0.95M402.3 134.8h0.95M404.3 138.1h0.95M403.7 129.3h0.95M400.5 135.6h0.95M405.7 138.4h0.95M403.5 137.1h0.95M402.0 139.1h0.95M404.8 132.8h0.95M402.6 131.0h0.95M402.2 131.3h0.95M404.9 136.1h0.95M404.5 135.6h0.95M408.3 134.1h0.95M401.5 127.7h0.95M405.7 132.8h0.95M404.3 136.3h0.95M406.3 130.0h0.95M402.3 135.2h0.95M404.6 138.7h0.95M403.6 128.4h0.95M408.3 129.8h0.95M402.3 136.2h0.95M405.7 136.7h0.95M406.5 132.7h0.95M408.5 129.6h0.95M403.4 135.9h0.95M405.4 131.9h0.95M402.4 136.2h0.95M403.2 133.6h0.95M407.8 135.4h0.95M404.7 135.3h0.95M401.7 138.9h0.95M402.9 139.2h0.95M403.7 133.5h0.95M409.2 135.6h0.95M403.2 133.3h0.95M406.7 133.7h0.95M401.9 132.8h0.95M404.7 135.8h0.95M403.2 139.1h0.95M402.3 132.7h0.95M406.4 136.5h0.95M403.9 138.1h0.95M405.2 139.3h0.95M404.4 135.6h0.95M406.5 129.4h0.95M396.8 136.2h0.95M407.6 136.0h0.95M405.5 139.4h0.95M405.9 128.9h0.95M402.4 134.1h0.95M405.4 133.6h0.95M396.8 138.7h0.95M407.6 136.9h0.95M405.0 135.2h0.95M406.0 135.8h0.95M403.0 137.5h0.95M402.7 134.9h0.95M404.0 131.3h0.95M406.7 134.8h0.95M401.7 134.8h0.95M403.4 137.3h0.95M402.3 132.3h0.95M404.8 136.3h0.95M407.6 134.1h0.95M408.1 138.1h0.95M402.6 134.4h0.95M403.5 137.8h0.95M407.6 134.2h0.95M403.6 136.1h0.95M402.8 131.0h0.95M402.3 136.1h0.95M399.9 136.6h0.95M401.8 138.7h0.95M406.9 135.4h0.95M409.1 133.8h0.95M403.5 131.6h0.95M403.2 135.4h0.95M406.9 139.1h0.95M404.3 132.7h0.95M404.1 133.6h0.95M403.7 133.7h0.95M402.6 134.8h0.95M403.6 134.5h0.95M401.1 135.5h0.95M406.6 137.1h0.95M403.5 131.4h0.95M401.4 131.3h0.95M403.2 134.0h0.95M400.1 137.1h0.95M400.7 132.8h0.95M403.0 137.6h0.95M410.1 133.9h0.95M404.2 133.8h0.95M404.4 134.5h0.95M411.9 131.5h0.95M404.7 132.5h0.95M406.0 133.4h0.95M406.6 131.6h0.95M410.9 135.7h0.95M400.1 137.2h0.95M403.7 131.3h0.95M406.2 133.4h0.95M407.0 133.3h0.95M407.5 135.5h0.95M406.0 135.5h0.95M404.0 133.9h0.95M406.3 137.2h0.95M409.7 131.4h0.95M408.0 134.8h0.95M405.6 132.5h0.95M409.6 132.4h0.95M404.8 132.7h0.95M410.3 139.0h0.95M401.4 133.6h0.95M406.0 133.6h0.95M404.0 131.6h0.95M405.7 131.6h0.95M406.0 132.9h0.95M404.0 132.0h0.95M405.3 137.2h0.95M407.6 134.1h0.95M401.7 134.8h0.95M409.6 135.9h0.95M404.8 128.5h0.95M403.8 136.7h0.95M402.4 139.3h0.95M403.4 132.3h0.95M403.4 134.7h0.95M407.8 133.2h0.95M400.1 134.8h0.95M406.9 136.4h0.95M402.9 132.2h0.95M402.4 137.9h0.95M405.6 138.4h0.95M410.0 135.1h0.95M401.4 133.6h0.95M404.0 133.8h0.95M405.4 132.4h0.95M408.2 130.7h0.95M402.8 129.7h0.95M401.1 136.9h0.95M406.7 134.4h0.95M407.3 137.0h0.95M403.4 134.9h0.95M403.8 136.2h0.95M406.5 138.8h0.95M406.2 138.4h0.95M402.1 134.2h0.95M399.7 134.9h0.95M411.4 135.8h0.95M405.2 135.8h0.95M405.4 130.9h0.95M403.1 134.5h0.95M405.5 132.3h0.95M404.7 132.7h0.95M401.4 133.0h0.95M402.8 137.6h0.95M408.7 136.8h0.95M404.4 133.3h0.95M400.7 133.4h0.95M409.3 138.6h0.95M405.6 134.3h0.95M405.0 136.3h0.95M405.0 136.4h0.95M402.9 135.2h0.95M404.0 138.4h0.95M401.6 139.1h0.95M404.8 133.4h0.95M405.1 135.4h0.95M404.4 136.3h0.95M403.4 129.7h0.95M406.9 134.9h0.95M409.6 136.2h0.95M399.5 138.9h0.95M403.1 136.7h0.95M411.1 138.4h0.95M402.0 134.7h0.95M400.6 137.1h0.95M406.5 131.8h0.95M406.2 137.9h0.95M407.2 132.9h0.95M403.1 131.5h0.95M401.4 136.0h0.95M405.1 139.1h0.95M405.8 134.0h0.95M405.5 134.9h0.95M402.2 131.8h0.95M406.7 132.0h0.95M406.6 137.0h0.95M404.0 130.0h0.95M406.1 139.4h0.95M402.7 131.1h0.95M408.0 135.5h0.95M403.3 138.8h0.95M404.2 136.4h0.95M403.9 132.7h0.95M405.6 132.4h0.95M400.1 133.3h0.95M408.4 138.4h0.95M411.0 138.1h0.95M409.4 135.8h0.95M403.8 136.5h0.95M402.4 137.3h0.95M403.8 135.8h0.95M402.7 134.6h0.95M407.7 134.4h0.95M403.1 135.9h0.95M407.4 134.5h0.95M401.8 130.2h0.95M401.3 138.3h0.95M404.8 136.5h0.95M408.0 135.9h0.95M406.3 133.5h0.95M400.6 137.0h0.95M404.7 136.8h0.95M402.1 134.6h0.95M410.5 132.4h0.95M405.3 139.1h0.95M404.4 135.4h0.95M399.2 137.4h0.95M403.8 139.0h0.95M404.8 133.9h0.95M406.2 134.3h0.95M407.7 135.4h0.95M407.2 137.6h0.95M406.6 135.2h0.95M405.2 136.3h0.95M406.6 136.1h0.95M403.5 134.8h0.95M406.3 132.0h0.95M405.0 137.4h0.95M405.5 134.2h0.95M404.9 133.6h0.95M407.7 133.9h0.95M400.4 131.3h0.95M405.8 135.7h0.95M403.7 131.0h0.95M404.6 132.5h0.95M403.2 135.0h0.95M402.9 136.0h0.95M403.0 133.6h0.95M409.3 137.9h0.95M403.0 135.1h0.95M407.5 137.5h0.95M400.5 134.9h0.95M403.0 137.3h0.95M406.7 133.4h0.95M410.9 134.2h0.95M411.7 134.5h0.95M403.6 133.6h0.95M409.0 134.9h0.95M406.3 131.2h0.95M409.9 138.1h0.95M406.0 137.2h0.95M403.6 133.6h0.95M400.7 136.2h0.95M408.4 137.7h0.95M407.5 137.2h0.95M402.5 131.1h0.95M406.8 135.6h0.95M407.7 134.2h0.95M402.6 136.4h0.95M403.5 130.0h0.95M403.3 132.4h0.95M401.9 133.4h0.95M409.7 133.8h0.95M408.1 134.8h0.95M406.1 133.0h0.95M404.8 129.9h0.95M409.9 132.7h0.95M406.6 133.3h0.95M405.7 131.5h0.95M404.0 137.8h0.95M406.6 129.1h0.95M407.3 131.1h0.95M405.8 136.6h0.95M403.2 134.1h0.95M404.3 136.3h0.95M407.5 139.2h0.95M404.3 137.4h0.95M404.7 135.3h0.95M402.5 136.2h0.95M410.6 135.5h0.95M404.9 135.1h0.95M407.0 134.4h0.95M405.0 135.7h0.95M408.6 137.9h0.95M402.1 133.1h0.95M405.1 137.6h0.95M407.7 134.4h0.95M410.8 134.6h0.95M408.9 139.4h0.95M409.4 135.7h0.95M406.6 130.4h0.95M400.1 133.2h0.95M407.0 138.3h0.95M404.7 138.2h0.95M400.6 132.5h0.95M402.4 131.9h0.95M409.5 132.2h0.95M402.7 133.8h0.95M407.4 133.7h0.95M407.0 136.7h0.95M403.2 127.9h0.95M402.5 131.3h0.95M409.5 132.9h0.95M402.1 136.2h0.95M405.1 132.2h0.95M408.0 137.8h0.95M405.8 132.7h0.95M402.6 128.8h0.95M406.1 136.2h0.95M402.5 135.1h0.95M414.0 131.6h0.95M400.3 136.9h0.95M403.8 133.5h0.95M406.7 134.7h0.95M407.7 136.6h0.95M408.2 135.4h0.95M399.1 139.2h0.95M400.3 138.2h0.95M405.7 130.8h0.95M405.2 137.7h0.95M402.2 135.2h0.95M403.0 132.0h0.95M403.3 138.9h0.95M406.9 135.0h0.95M404.8 135.4h0.95M405.8 135.6h0.95M400.3 137.8h0.95M402.6 127.1h0.95M406.9 131.4h0.95M404.6 134.8h0.95M403.4 136.7h0.95M404.3 134.2h0.95M402.4 134.2h0.95M402.2 135.2h0.95M408.6 138.1h0.95M406.2 130.9h0.95M407.8 137.9h0.95M410.7 128.2h0.95M405.0 134.0h0.95M408.0 131.7h0.95M407.7 129.0h0.95M405.1 139.2h0.95M403.3 136.8h0.95M405.3 130.6h0.95M403.3 138.5h0.95M408.3 133.2h0.95M408.1 132.9h0.95M405.7 135.0h0.95M401.6 136.0h0.95M403.9 126.7h0.95M402.7 132.4h0.95M402.7 132.0h0.95M403.1 127.6h0.95M406.5 135.7h0.95M405.4 135.0h0.95M405.1 135.0h0.95M403.2 132.3h0.95M405.1 137.6h0.95M405.4 138.9h0.95M402.7 135.0h0.95M404.0 138.1h0.95M407.8 134.4h0.95M406.2 135.0h0.95M403.3 135.3h0.95M403.3 138.8h0.95M406.0 138.0h0.95M405.6 130.4h0.95M406.3 135.7h0.95M401.0 135.7h0.95M406.7 139.1h0.95M403.3 137.2h0.95M405.6 135.1h0.95M404.5 136.6h0.95M406.0 136.9h0.95M404.3 132.7h0.95M407.2 138.2h0.95M404.1 135.4h0.95M406.4 131.8h0.95M405.5 134.0h0.95M408.4 135.5h0.95M405.4 134.6h0.95M405.3 131.7h0.95M402.9 132.4h0.95M406.5 135.3h0.95M406.9 131.2h0.95M404.0 138.6h0.95M403.7 131.6h0.95M403.8 134.8h0.95M405.0 138.3h0.95M407.2 138.8h0.95M406.0 134.4h0.95M404.2 132.4h0.95M407.1 138.1h0.95M405.1 133.6h0.95M406.1 136.5h0.95M405.3 133.1h0.95M405.4 134.3h0.95M406.2 136.8h0.95M405.7 134.6h0.95M407.5 137.1h0.95M407.1 137.3h0.95M406.1 136.3h0.95M403.2 131.7h0.95M403.4 136.8h0.95M406.5 135.9h0.95M405.1 139.4h0.95M404.3 131.7h0.95M402.4 134.8h0.95M406.2 137.1h0.95M404.6 137.2h0.95M404.9 134.0h0.95M404.4 137.1h0.95M406.6 133.1h0.95M403.4 135.8h0.95M408.5 133.0h0.95M402.9 136.4h0.95M405.8 134.2h0.95M405.0 136.5h0.95M402.1 135.5h0.95M406.0 137.4h0.95M406.9 135.4h0.95M402.6 138.3h0.95M406.3 134.2h0.95M406.7 137.7h0.95M404.8 130.5h0.95M404.2 133.9h0.95M403.6 135.3h0.95M403.2 136.3h0.95M408.1 133.0h0.95M406.7 134.4h0.95M405.9 135.2h0.95M407.1 134.0h0.95M406.2 133.9h0.95M405.4 135.5h0.95M406.8 132.2h0.95M402.8 138.4h0.95M405.6 139.1h0.95M403.3 135.9h0.95M406.0 139.2h0.95M404.9 134.6h0.95M406.2 135.3h0.95M403.8 137.1h0.95M401.8 133.4h0.95M407.3 134.4h0.95M404.5 136.3h0.95M406.9 136.6h0.95M403.4 134.3h0.95M406.7 135.2h0.95M404.0 137.3h0.95M403.2 134.0h0.95M403.8 136.2h0.95M404.2 137.9h0.95M400.5 137.5h0.95M403.9 134.9h0.95M405.9 135.9h0.95M403.3 138.7h0.95M406.0 134.5h0.95M405.3 133.2h0.95M403.0 134.9h0.95M405.6 135.7h0.95M403.7 132.6h0.95M402.2 138.9h0.95M405.6 133.8h0.95M407.0 136.6h0.95M404.3 134.2h0.95M406.9 136.2h0.95M407.7 136.3h0.95M404.0 134.2h0.95M403.8 136.0h0.95M405.4 136.8h0.95M405.7 133.3h0.95M404.7 133.5h0.95M405.8 132.7h0.95M404.0 133.7h0.95M404.0 135.0h0.95M407.5 135.0h0.95M402.6 134.9h0.95M406.2 136.7h0.95M406.8 135.7h0.95M407.0 132.7h0.95M404.7 133.7h0.95M405.3 138.9h0.95M404.2 138.9h0.95M403.3 138.5h0.95M402.2 133.7h0.95M406.7 135.3h0.95M405.2 135.5h0.95M405.3 135.1h0.95M403.4 134.9h0.95M405.2 133.6h0.95M405.8 139.2h0.95M402.3 134.4h0.95M404.5 135.5h0.95M405.2 134.0h0.95M404.9 135.5h0.95M404.9 138.8h0.95M405.2 132.4h0.95M402.4 136.7h0.95M404.4 134.2h0.95M402.8 134.8h0.95M404.8 134.1h0.95M404.4 137.4h0.95M406.3 136.7h0.95M404.7 132.6h0.95M406.3 138.7h0.95M407.1 138.0h0.95M405.5 136.3h0.95M405.0 138.1h0.95M406.3 134.8h0.95M405.0 132.1h0.95M403.8 134.9h0.95M409.0 133.8h0.95M406.5 135.7h0.95M404.5 136.8h0.95M401.7 137.5h0.95M408.2 136.1h0.95M404.9 135.8h0.95M406.1 134.5h0.95M405.2 136.6h0.95M404.4 136.3h0.95M405.6 137.0h0.95M403.4 134.4h0.95M404.3 138.0h0.95M405.4 132.0h0.95M405.6 132.8h0.95M403.5 135.8h0.95M407.4 138.9h0.95M404.4 134.9h0.95M408.2 133.4h0.95M407.6 136.2h0.95M405.2 138.2h0.95M405.8 133.7h0.95M402.5 135.5h0.95M405.8 138.4h0.95M400.7 138.3h0.95M406.0 138.7h0.95M406.3 136.0h0.95M405.7 136.3h0.95M404.0 135.3h0.95M405.2 134.5h0.95M402.6 132.4h0.95M405.8 136.6h0.95M405.2 133.0h0.95M406.4 134.7h0.95M401.6 138.8h0.95M405.9 134.6h0.95M401.1 134.0h0.95M407.4 138.4h0.95M405.4 131.9h0.95M404.4 134.9h0.95M405.8 135.2h0.95M405.6 132.1h0.95M403.9 138.5h0.95M402.6 137.5h0.95M408.8 136.9h0.95M402.7 138.1h0.95M401.9 136.2h0.95M404.3 138.1h0.95M406.9 135.9h0.95M408.0 137.6h0.95M404.2 133.4h0.95M409.1 134.6h0.95M405.7 135.3h0.95M404.2 132.1h0.95M404.8 135.3h0.95M406.6 134.4h0.95M402.4 133.2h0.95M404.9 136.0h0.95M406.2 134.7h0.95M405.9 135.8h0.95M407.8 135.4h0.95M405.2 136.7h0.95M407.0 133.6h0.95M404.2 134.9h0.95M401.5 138.3h0.95M406.8 135.5h0.95M410.6 138.2h0.95M408.3 138.8h0.95M406.5 132.5h0.95M407.5 136.4h0.95M403.0 135.6h0.95M406.2 137.6h0.95M405.3 134.4h0.95M406.3 133.9h0.95M404.9 137.1h0.95M402.6 136.3h0.95M401.8 133.5h0.95M403.0 135.3h0.95M406.2 135.4h0.95M406.5 135.7h0.95M404.7 136.5h0.95M404.6 135.8h0.95M406.7 134.3h0.95M406.9 133.2h0.95M404.6 131.8h0.95M404.1 138.9h0.95M405.6 138.2h0.95M402.6 133.4h0.95M405.8 137.3h0.95M406.4 131.9h0.95M405.8 135.3h0.95M405.2 136.5h0.95M404.5 131.9h0.95M403.2 132.4h0.95M402.8 135.2h0.95M407.2 134.0h0.95M403.7 133.1h0.95M402.1 135.6h0.95M404.2 135.0h0.95M403.4 136.5h0.95M403.0 136.7h0.95M403.9 137.2h0.95M403.5 136.4h0.95M406.8 111.7h0.95M409.0 112.6h0.95M404.4 114.5h0.95M404.5 110.0h0.95M406.0 112.7h0.95M409.2 105.6h0.95M405.5 116.1h0.95M405.7 113.2h0.95M408.8 107.5h0.95M406.1 114.9h0.95M404.9 105.6h0.95M404.2 112.7h0.95M406.4 118.8h0.95M408.5 106.3h0.95M407.9 115.4h0.95M409.0 111.4h0.95M405.0 112.5h0.95M408.9 114.3h0.95M409.1 114.9h0.95M404.9 108.3h0.95M409.4 106.4h0.95M405.4 110.8h0.95M404.3 109.9h0.95M406.0 120.7h0.95M405.9 110.1h0.95M406.2 115.5h0.95M404.5 110.5h0.95M402.8 114.6h0.95M407.3 117.5h0.95M403.8 120.0h0.95M407.6 111.0h0.95M405.3 110.9h0.95M403.8 114.8h0.95M404.9 109.3h0.95M407.0 112.4h0.95M404.9 111.1h0.95M405.1 117.0h0.95M407.9 109.3h0.95M405.9 117.0h0.95M405.5 118.5h0.95M406.8 114.5h0.95M402.2 115.1h0.95M406.6 114.1h0.95M406.9 113.9h0.95M405.1 115.3h0.95M406.1 108.1h0.95M404.1 112.6h0.95M406.6 103.9h0.95M402.2 115.9h0.95M406.0 122.5h0.95M403.2 111.1h0.95M404.9 114.1h0.95M408.6 117.9h0.95M404.1 116.5h0.95M403.7 113.1h0.95M406.3 114.3h0.95M404.5 116.9h0.95M405.9 111.9h0.95M405.5 108.1h0.95M407.3 113.2h0.95M406.8 118.9h0.95M404.4 111.0h0.95M406.0 115.2h0.95M405.7 115.4h0.95M406.8 105.5h0.95M404.7 104.5h0.95M405.5 110.5h0.95M407.1 112.6h0.95M405.9 116.7h0.95M407.1 107.5h0.95M404.7 113.2h0.95M409.2 111.3h0.95M405.7 113.0h0.95M407.5 111.7h0.95M406.5 110.4h0.95M405.0 109.1h0.95M407.2 109.9h0.95M407.0 113.5h0.95M407.8 102.1h0.95M404.2 107.5h0.95M405.7 115.0h0.95M410.7 117.7h0.95M408.5 113.4h0.95M405.3 114.0h0.95M402.0 115.4h0.95M406.0 114.3h0.95M404.1 108.0h0.95M404.8 111.8h0.95M406.6 110.7h0.95M406.6 114.5h0.95M403.8 111.6h0.95M403.1 110.0h0.95M407.7 109.4h0.95M409.5 113.9h0.95M407.7 112.4h0.95M407.6 116.0h0.95M406.2 110.0h0.95M405.0 119.1h0.95M405.7 110.3h0.95M404.7 105.8h0.95M405.1 113.2h0.95M405.1 109.2h0.95M406.8 113.7h0.95M405.2 113.1h0.95M404.2 115.2h0.95M404.2 110.8h0.95M406.3 110.5h0.95M403.9 119.8h0.95M408.8 105.6h0.95M406.2 107.3h0.95M406.6 107.2h0.95M407.1 114.0h0.95M409.2 116.5h0.95M405.1 115.5h0.95M405.1 111.6h0.95M405.1 105.5h0.95M407.1 104.5h0.95M405.6 113.9h0.95M406.2 106.2h0.95M404.8 114.5h0.95M408.0 117.9h0.95M402.6 113.7h0.95M405.1 114.8h0.95M402.9 111.5h0.95M407.3 109.6h0.95M405.3 108.4h0.95M408.1 107.1h0.95M404.3 110.8h0.95M405.4 119.8h0.95M406.5 108.9h0.95M407.1 113.3h0.95M406.5 111.8h0.95M406.9 107.7h0.95M403.8 110.4h0.95M403.9 114.6h0.95M409.6 116.6h0.95M406.8 113.3h0.95M404.7 107.2h0.95M407.0 106.5h0.95M406.6 111.5h0.95M407.4 112.2h0.95M406.2 109.8h0.95M402.8 110.7h0.95M407.3 115.9h0.95M408.6 108.3h0.95M404.3 114.6h0.95M405.2 121.5h0.95M406.6 106.4h0.95M405.0 117.8h0.95M402.6 112.6h0.95M403.4 117.9h0.95M405.2 108.2h0.95M402.8 109.4h0.95M401.3 110.2h0.95M410.0 112.4h0.95M405.5 107.7h0.95M406.6 110.3h0.95M404.4 117.1h0.95M406.8 108.7h0.95M408.7 111.8h0.95M406.9 112.5h0.95M408.2 114.3h0.95M405.4 114.7h0.95M405.3 112.5h0.95M409.0 108.1h0.95M404.1 110.5h0.95M405.1 116.8h0.95M403.0 120.5h0.95M408.9 110.3h0.95M406.3 110.7h0.95M407.2 114.5h0.95M407.4 114.8h0.95M409.6 111.4h0.95M407.3 111.3h0.95M406.1 112.8h0.95M405.9 113.3h0.95M404.4 111.4h0.95M404.9 107.7h0.95M404.7 110.2h0.95M405.7 106.2h0.95M405.5 107.8h0.95M404.5 112.7h0.95M408.1 113.1h0.95M405.1 110.4h0.95M408.5 106.0h0.95M408.1 106.4h0.95M404.8 112.2h0.95M405.6 118.2h0.95M406.9 111.8h0.95M407.8 112.1h0.95M404.5 116.2h0.95M408.8 116.7h0.95M403.8 119.1h0.95M405.2 114.8h0.95M408.2 120.8h0.95M403.0 108.2h0.95M408.2 113.8h0.95M405.4 101.1h0.95M406.8 111.3h0.95M401.1 121.9h0.95M401.3 109.9h0.95M406.0 112.9h0.95M407.4 111.0h0.95M404.3 110.7h0.95M402.1 107.9h0.95M409.7 109.5h0.95M405.9 119.0h0.95M408.0 112.5h0.95M407.4 111.0h0.95M404.3 115.7h0.95M406.3 117.9h0.95M405.5 110.6h0.95M406.6 111.3h0.95M405.4 108.7h0.95M406.5 113.2h0.95M409.4 111.9h0.95M402.7 113.7h0.95M410.3 110.4h0.95M404.5 111.4h0.95M400.7 110.8h0.95M405.6 106.4h0.95M407.1 108.7h0.95M402.6 109.3h0.95M407.2 119.1h0.95M408.3 112.7h0.95M405.0 111.0h0.95M407.8 110.1h0.95M406.8 115.6h0.95M404.3 109.8h0.95M406.8 112.0h0.95M405.8 110.0h0.95M405.9 118.9h0.95M408.5 106.0h0.95M406.1 112.3h0.95M406.1 106.9h0.95M405.8 112.6h0.95M404.7 113.2h0.95M401.5 106.4h0.95M406.2 113.5h0.95M405.7 110.3h0.95M406.3 116.0h0.95M407.7 111.7h0.95M405.1 116.0h0.95M407.0 115.3h0.95M405.5 108.8h0.95M406.3 109.7h0.95M408.1 115.2h0.95M401.9 114.5h0.95M408.5 115.9h0.95M405.1 108.8h0.95M407.0 113.2h0.95M406.1 108.5h0.95M404.4 111.6h0.95M405.1 109.5h0.95M406.5 113.3h0.95M403.8 109.6h0.95M407.4 110.9h0.95M405.6 112.4h0.95M404.8 108.4h0.95M406.0 114.4h0.95M407.1 111.0h0.95M407.1 110.1h0.95M404.7 107.4h0.95M406.3 112.9h0.95M406.4 110.9h0.95M405.6 113.3h0.95M405.9 107.9h0.95M407.5 109.6h0.95M406.4 111.0h0.95M407.1 111.5h0.95M407.3 111.5h0.95M405.5 109.9h0.95M406.7 109.2h0.95M407.0 110.5h0.95M405.0 109.1h0.95M405.8 114.8h0.95M406.8 111.0h0.95M405.0 115.1h0.95M405.7 111.0h0.95M405.5 113.9h0.95M406.2 110.0h0.95M406.2 108.8h0.95M404.9 110.7h0.95M402.9 113.5h0.95M408.1 108.6h0.95M405.8 107.6h0.95M406.2 111.5h0.95M406.8 108.1h0.95M405.4 109.6h0.95M405.7 115.9h0.95M405.8 110.9h0.95M405.5 112.7h0.95M408.8 113.5h0.95M407.7 108.7h0.95M407.1 111.1h0.95M407.4 113.3h0.95M406.7 107.4h0.95M406.1 109.9h0.95M406.5 111.1h0.95M407.1 107.5h0.95M405.2 110.8h0.95M406.3 110.1h0.95M406.0 111.1h0.95M407.1 110.8h0.95M406.3 107.1h0.95M403.2 107.8h0.95M406.4 106.0h0.95M406.4 110.8h0.95M406.0 109.4h0.95M405.5 112.8h0.95M406.4 110.9h0.95M405.5 111.5h0.95M407.3 111.0h0.95M405.6 108.5h0.95M406.1 109.0h0.95M404.4 112.9h0.95M405.3 106.6h0.95M405.2 115.0h0.95M405.9 108.1h0.95M404.8 112.6h0.95M406.4 125.1h0.95M405.2 125.9h0.95M408.6 125.9h0.95M405.3 120.4h0.95M406.5 129.1h0.95M406.9 120.8h0.95M406.0 128.3h0.95M404.4 126.0h0.95M408.0 129.3h0.95M402.5 119.4h0.95M406.3 126.6h0.95M404.9 124.4h0.95M404.8 128.0h0.95M401.2 125.3h0.95M403.1 122.5h0.95M402.6 121.8h0.95M405.6 124.6h0.95M409.1 123.8h0.95M406.3 125.5h0.95M406.1 128.8h0.95M405.9 124.9h0.95M405.4 124.5h0.95M405.5 127.4h0.95M405.6 124.7h0.95M405.5 126.7h0.95M404.7 127.3h0.95M404.5 126.5h0.95M409.4 125.2h0.95M405.4 121.0h0.95M407.1 124.5h0.95M407.4 122.6h0.95M406.6 129.8h0.95M406.4 123.5h0.95M403.0 124.5h0.95M406.9 126.3h0.95M403.4 121.5h0.95M403.7 121.5h0.95M405.1 125.3h0.95M409.4 125.1h0.95M408.5 119.6h0.95M408.6 126.9h0.95M406.5 126.9h0.95M406.8 130.2h0.95M407.2 119.4h0.95M402.2 129.3h0.95M405.4 128.4h0.95M404.9 122.6h0.95M404.9 125.4h0.95M406.0 122.7h0.95M406.7 126.3h0.95M403.8 121.2h0.95M401.7 123.6h0.95M405.6 122.4h0.95M404.4 124.1h0.95M405.7 126.2h0.95M411.5 114.2h0.95M412.3 107.2h0.95M410.8 113.8h0.95M405.9 108.7h0.95M410.3 112.4h0.95M405.3 109.3h0.95M413.5 116.2h0.95M409.2 118.7h0.95M406.3 111.2h0.95M411.8 110.3h0.95M405.7 114.9h0.95M413.7 99.5h0.95M409.5 105.8h0.95M408.1 105.0h0.95M416.7 108.6h0.95M409.1 108.5h0.95M406.1 109.8h0.95M409.6 120.7h0.95M409.9 119.7h0.95M405.8 112.4h0.95M407.7 104.3h0.95M420.1 110.8h0.95M409.7 108.3h0.95M407.3 106.9h0.95M412.0 110.0h0.95M397.2 134.6h0.95M395.3 134.8h0.95M397.2 135.5h0.95M396.8 134.1h0.95M398.4 137.3h0.95M396.3 137.4h0.95M395.7 133.3h0.95M397.7 134.5h0.95M397.2 137.2h0.95M396.2 139.2h0.95M398.5 134.1h0.95M398.0 137.2h0.95M396.1 136.0h0.95M399.4 133.2h0.95M396.0 130.3h0.95M398.3 131.2h0.95M401.9 136.0h0.95M395.2 133.0h0.95M400.2 136.4h0.95M395.7 137.6h0.95M396.5 136.1h0.95M398.5 132.5h0.95M397.2 138.0h0.95M398.4 133.8h0.95M399.2 135.6h0.95" stroke="#000" stroke-width="0.95" fill="none"/>
<path d="M424.9 124.5h0.95M425.6 94.2h0.95M431.8 106.4h0.95M426.9 112.2h0.95M431.9 112.5h0.95M391.0 95.9h0.95M406.4 90.7h0.95M385.0 132.7h0.95M411.4 132.1h0.95M384.1 112.6h0.95M404.6 93.7h0.95M391.4 135.1h0.95M421.1 114.1h0.95M413.7 132.0h0.95M435.9 118.5h0.95M377.6 132.6h0.95" stroke="#aaa" stroke-width="0.95" fill="none"/>
<path d="M483.2 136.4h0.95M484.2 137.2h0.95M479.7 132.8h0.95M480.8 134.8h0.95M481.6 130.8h0.95M487.7 132.0h0.95M483.2 134.4h0.95M480.0 136.6h0.95M482.0 139.4h0.95M483.4 133.6h0.95M475.4 134.2h0.95M484.4 132.4h0.95M484.5 136.5h0.95M477.7 133.9h0.95M483.0 136.7h0.95M482.6 134.5h0.95M481.3 133.6h0.95M482.2 131.4h0.95M483.8 133.5h0.95M483.5 133.0h0.95M483.3 134.9h0.95M484.5 135.9h0.95M484.6 134.0h0.95M482.1 133.7h0.95M479.0 134.1h0.95M485.0 136.8h0.95M480.0 135.4h0.95M484.1 130.5h0.95M483.1 135.5h0.95M484.1 135.3h0.95M477.7 128.5h0.95M487.3 133.3h0.95M485.5 138.2h0.95M482.4 131.1h0.95M485.7 134.4h0.95M483.5 135.9h0.95M484.6 137.5h0.95M478.5 130.3h0.95M482.6 134.5h0.95M484.2 134.1h0.95M485.7 137.9h0.95M484.9 132.2h0.95M482.0 134.3h0.95M479.4 131.9h0.95M482.6 130.9h0.95M483.6 135.9h0.95M481.6 133.5h0.95M483.7 135.9h0.95M483.1 130.9h0.95M480.5 133.4h0.95M477.5 132.1h0.95M480.3 136.9h0.95M475.4 130.4h0.95M481.1 133.0h0.95M480.2 133.2h0.95M478.1 135.3h0.95M485.3 135.0h0.95M480.8 138.2h0.95M483.5 131.5h0.95M480.7 132.7h0.95M482.1 138.1h0.95M480.4 134.1h0.95M482.5 131.0h0.95M481.0 136.3h0.95M485.1 129.0h0.95M484.0 133.6h0.95M485.5 136.3h0.95M487.3 135.4h0.95M481.2 132.0h0.95M478.5 136.1h0.95M483.5 136.9h0.95M483.1 130.1h0.95M481.2 133.8h0.95M482.6 136.8h0.95M485.8 135.3h0.95M476.9 131.5h0.95M476.7 132.2h0.95M479.1 135.2h0.95M481.6 137.8h0.95M485.0 133.2h0.95M484.6 134.5h0.95M483.4 138.5h0.95M479.3 134.3h0.95M486.2 132.3h0.95M482.8 134.9h0.95M481.1 130.6h0.95M480.4 131.6h0.95M485.0 135.2h0.95M484.0 131.0h0.95M483.5 134.9h0.95M484.9 132.4h0.95M484.3 138.5h0.95M486.8 131.8h0.95M479.3 130.2h0.95M484.7 136.3h0.95M483.1 132.0h0.95M485.4 139.2h0.95M482.1 134.1h0.95M485.3 136.0h0.95M485.7 133.3h0.95M483.1 133.5h0.95M480.7 133.6h0.95M481.5 136.0h0.95M481.4 134.7h0.95M480.1 130.9h0.95M485.9 131.6h0.95M486.9 137.3h0.95M476.3 132.6h0.95M481.1 134.6h0.95M481.7 132.7h0.95M485.4 134.1h0.95M484.7 132.5h0.95M480.4 138.4h0.95M481.5 131.3h0.95M481.8 137.6h0.95M481.8 132.4h0.95M483.8 137.4h0.95M481.7 133.6h0.95M481.8 135.7h0.95M477.0 135.0h0.95M482.3 133.6h0.95M481.2 130.5h0.95M478.4 135.0h0.95M480.6 134.2h0.95M481.7 133.0h0.95M479.4 133.0h0.95M481.4 131.1h0.95M479.7 137.0h0.95M484.6 134.9h0.95M490.5 136.9h0.95M485.4 132.1h0.95M485.0 139.4h0.95M480.1 131.2h0.95M482.1 132.1h0.95M483.8 131.3h0.95M482.4 128.8h0.95M482.1 137.6h0.95M481.5 135.4h0.95M485.0 131.3h0.95M478.9 134.7h0.95M482.9 133.7h0.95M479.7 138.1h0.95M479.2 133.7h0.95M482.1 136.6h0.95M481.1 132.1h0.95M487.4 132.0h0.95M484.3 134.1h0.95M481.0 134.4h0.95M481.6 135.4h0.95M475.7 134.4h0.95M482.4 131.7h0.95M486.9 136.4h0.95M482.8 133.6h0.95M485.8 133.2h0.95M480.1 136.5h0.95M479.7 132.2h0.95M485.9 129.8h0.95M482.0 134.9h0.95M482.9 130.2h0.95M481.6 133.5h0.95M487.1 137.4h0.95M480.3 137.1h0.95M483.9 134.2h0.95M481.6 133.7h0.95M478.3 132.7h0.95M484.6 138.7h0.95M487.0 133.4h0.95M483.8 127.5h0.95M481.5 130.8h0.95M484.3 129.6h0.95M479.5 131.3h0.95M483.2 137.0h0.95M482.6 132.1h0.95M483.1 134.5h0.95M484.3 135.5h0.95M487.8 137.9h0.95M480.6 136.8h0.95M484.2 131.6h0.95M480.3 132.1h0.95M475.9 136.4h0.95M481.7 138.1h0.95M480.8 134.7h0.95M484.1 137.3h0.95M483.0 131.5h0.95M487.9 137.0h0.95M485.7 139.2h0.95M485.8 135.7h0.95M483.4 136.4h0.95M478.4 136.9h0.95M479.7 135.7h0.95M479.6 136.6h0.95M482.7 136.0h0.95M479.9 133.7h0.95M482.1 133.7h0.95M481.1 131.9h0.95M484.2 133.4h0.95M480.1 135.6h0.95M480.1 134.0h0.95M480.9 131.8h0.95M481.6 132.1h0.95M479.0 135.5h0.95M481.5 130.2h0.95M481.2 135.0h0.95M483.3 135.6h0.95M482.9 136.2h0.95M481.0 132.2h0.95M483.8 133.3h0.95M482.2 136.4h0.95M484.6 138.1h0.95M480.5 133.4h0.95M483.6 130.3h0.95M479.0 136.3h0.95M480.6 131.8h0.95M484.3 136.1h0.95M484.6 133.5h0.95M481.5 133.5h0.95M483.0 128.6h0.95M480.4 136.6h0.95M480.2 134.3h0.95M482.5 136.0h0.95M481.0 131.2h0.95M488.6 132.4h0.95M486.6 129.4h0.95M482.5 133.9h0.95M484.7 131.5h0.95M480.2 132.3h0.95M480.9 135.3h0.95M480.2 133.8h0.95M486.0 138.7h0.95M477.5 131.7h0.95M481.3 138.3h0.95M483.2 138.7h0.95M480.0 133.6h0.95M484.8 136.2h0.95M477.4 133.7h0.95M482.7 136.3h0.95M482.6 138.7h0.95M483.3 134.7h0.95M481.4 131.1h0.95M484.4 136.7h0.95M484.6 133.4h0.95M479.7 133.4h0.95M481.4 134.5h0.95M484.7 131.8h0.95M481.0 136.5h0.95M483.6 132.0h0.95M479.6 132.2h0.95M482.4 135.2h0.95M482.1 132.7h0.95M481.8 134.3h0.95M483.7 134.7h0.95M480.2 131.1h0.95M486.0 134.3h0.95M481.8 134.4h0.95M485.1 133.6h0.95M482.7 133.8h0.95M483.7 131.6h0.95M482.7 137.5h0.95M485.3 136.3h0.95M483.0 139.1h0.95M484.0 138.6h0.95M479.2 131.3h0.95M484.3 133.7h0.95M481.1 131.7h0.95M486.0 131.0h0.95M482.5 130.5h0.95M488.4 133.1h0.95M479.7 139.2h0.95M480.0 129.3h0.95M483.1 131.4h0.95M478.5 137.8h0.95M480.4 131.4h0.95M482.7 134.0h0.95M485.1 134.8h0.95M486.3 137.8h0.95M486.8 137.8h0.95M482.4 136.1h0.95M482.3 130.0h0.95M479.2 136.7h0.95M476.2 132.1h0.95M479.0 134.3h0.95M479.6 135.2h0.95M481.7 133.1h0.95M480.1 128.1h0.95M482.4 130.8h0.95M481.5 135.6h0.95M484.9 136.5h0.95M486.0 130.4h0.95M484.0 139.1h0.95M483.2 131.3h0.95M483.3 133.0h0.95M480.6 137.6h0.95M481.8 131.3h0.95M480.1 136.5h0.95M482.7 137.9h0.95M481.5 131.8h0.95M480.6 131.5h0.95M488.8 135.1h0.95M481.4 138.2h0.95M483.9 134.0h0.95M483.8 135.3h0.95M485.1 139.3h0.95M481.4 134.4h0.95M481.8 138.1h0.95M483.2 136.8h0.95M484.5 132.7h0.95M482.6 138.5h0.95M484.6 136.9h0.95M481.5 133.5h0.95M480.1 133.7h0.95M482.1 130.4h0.95M485.2 132.3h0.95M482.9 136.3h0.95M480.8 129.3h0.95M484.7 135.7h0.95M481.6 137.8h0.95M484.5 131.7h0.95M482.0 129.4h0.95M481.6 138.6h0.95M480.1 136.9h0.95M478.4 133.7h0.95M484.6 139.5h0.95M483.4 136.7h0.95M486.6 127.4h0.95M488.5 136.2h0.95M482.4 135.3h0.95M482.3 132.7h0.95M482.2 134.1h0.95M483.9 136.5h0.95M484.7 136.2h0.95M479.8 138.5h0.95M475.5 134.8h0.95M483.1 133.0h0.95M487.0 131.3h0.95M479.3 133.0h0.95M483.3 136.8h0.95M482.5 136.4h0.95M480.5 132.8h0.95M482.6 130.6h0.95M482.7 133.4h0.95M484.0 131.6h0.95M480.9 132.9h0.95M481.3 131.6h0.95M481.6 130.6h0.95M483.6 136.5h0.95M482.2 134.0h0.95M480.0 131.7h0.95M481.7 131.9h0.95M479.3 135.0h0.95M482.2 133.3h0.95M480.2 134.4h0.95M480.5 133.3h0.95M482.7 136.6h0.95M484.2 132.7h0.95M485.3 131.2h0.95M481.8 138.3h0.95M488.2 134.9h0.95M481.3 133.4h0.95M479.2 134.1h0.95M481.2 132.3h0.95M485.3 132.3h0.95M486.5 136.9h0.95M483.9 132.8h0.95M481.0 128.7h0.95M482.9 133.7h0.95M483.2 132.6h0.95M483.5 130.2h0.95M476.7 135.9h0.95M484.9 125.4h0.95M485.5 133.5h0.95M482.2 132.0h0.95M480.9 136.4h0.95M481.3 134.9h0.95M482.2 138.8h0.95M483.8 132.5h0.95M481.7 132.8h0.95M480.3 133.7h0.95M484.1 135.1h0.95M483.5 134.7h0.95M481.8 135.2h0.95M482.3 138.7h0.95M485.2 135.7h0.95M483.4 131.2h0.95M481.2 136.6h0.95M484.3 134.2h0.95M482.1 134.1h0.95M483.7 135.0h0.95M484.7 137.3h0.95M481.9 133.8h0.95M482.1 133.3h0.95M481.8 134.9h0.95M483.8 131.9h0.95M480.3 133.5h0.95M482.0 135.9h0.95M481.2 137.9h0.95M481.6 134.6h0.95M482.5 137.3h0.95M482.9 135.1h0.95M481.6 135.3h0.95M483.0 134.3h0.95M482.4 131.4h0.95M481.6 137.3h0.95M484.6 134.9h0.95M479.1 138.6h0.95M481.8 136.9h0.95M481.5 137.7h0.95M484.2 132.9h0.95M482.1 132.7h0.95M482.8 134.2h0.95M480.1 133.0h0.95M482.8 132.1h0.95M484.1 135.9h0.95M482.1 137.7h0.95M481.0 136.3h0.95M480.3 134.4h0.95M483.4 134.0h0.95M482.2 136.3h0.95M484.8 137.5h0.95M483.1 134.5h0.95M480.2 138.3h0.95M485.3 130.8h0.95M483.8 134.9h0.95M483.5 135.6h0.95M482.1 135.0h0.95M482.4 137.3h0.95M482.0 133.9h0.95M483.4 136.3h0.95M483.1 135.6h0.95M484.7 137.2h0.95M482.7 134.6h0.95M483.4 131.4h0.95M481.6 133.6h0.95M482.7 134.3h0.95M486.2 136.4h0.95M483.0 139.4h0.95M482.4 134.4h0.95M484.3 136.6h0.95M483.8 137.4h0.95M481.9 133.7h0.95M481.3 135.2h0.95M484.0 133.0h0.95M481.6 132.4h0.95M485.5 136.6h0.95M482.8 132.6h0.95M480.8 133.7h0.95M482.5 132.5h0.95M482.1 137.4h0.95M482.4 135.2h0.95M479.2 134.5h0.95M482.2 133.7h0.95M480.3 134.9h0.95M480.8 133.9h0.95M480.0 134.8h0.95M483.8 133.4h0.95M482.9 132.0h0.95M483.3 136.1h0.95M481.8 136.7h0.95M481.1 135.1h0.95M485.0 135.0h0.95M480.7 137.2h0.95M483.2 134.5h0.95M479.6 131.3h0.95M480.1 137.9h0.95M482.9 133.3h0.95M484.2 137.9h0.95M481.1 135.9h0.95M479.9 135.7h0.95M485.2 132.2h0.95M482.5 133.8h0.95M482.3 135.2h0.95M482.8 136.7h0.95M483.2 137.0h0.95M484.0 137.1h0.95M481.4 135.8h0.95M481.8 133.4h0.95M485.4 135.6h0.95M482.5 130.9h0.95M482.1 136.5h0.95M482.1 133.9h0.95M484.7 134.4h0.95M481.9 134.8h0.95M482.1 137.1h0.95M483.3 134.9h0.95M481.9 134.6h0.95M485.0 134.4h0.95M483.4 131.9h0.95M482.9 136.3h0.95M484.4 135.6h0.95M483.3 135.6h0.95M484.1 139.0h0.95M482.7 133.4h0.95M483.3 134.8h0.95M483.4 136.5h0.95M482.6 134.1h0.95M482.9 132.6h0.95M482.8 133.3h0.95M483.1 135.2h0.95M482.1 132.7h0.95M482.5 133.7h0.95M482.2 136.4h0.95M483.9 132.5h0.95M483.8 137.7h0.95M484.1 135.5h0.95M482.3 138.4h0.95M481.9 132.0h0.95M482.6 135.6h0.95M480.8 132.6h0.95M485.4 135.2h0.95M483.6 133.9h0.95M480.1 134.7h0.95M484.5 133.7h0.95M479.7 134.7h0.95M482.0 135.0h0.95M480.8 134.4h0.95M481.6 136.7h0.95M482.6 136.7h0.95M482.3 130.8h0.95M479.4 136.0h0.95M483.8 136.7h0.95M482.3 131.5h0.95M481.7 135.8h0.95M484.5 134.3h0.95M481.6 133.5h0.95M484.0 136.7h0.95M479.6 137.4h0.95M481.0 132.1h0.95M480.0 133.6h0.95M480.5 133.7h0.95M482.7 135.8h0.95M481.7 131.9h0.95M481.8 133.7h0.95M479.7 135.3h0.95M480.2 131.6h0.95M484.7 136.8h0.95M484.6 135.2h0.95M481.8 134.8h0.95M480.3 136.4h0.95M482.8 134.4h0.95M479.6 134.8h0.95M484.9 137.8h0.95M483.8 134.3h0.95M482.6 136.1h0.95M482.7 137.0h0.95M481.4 130.5h0.95M478.7 133.2h0.95M480.3 136.3h0.95M484.1 135.0h0.95M483.2 135.2h0.95M482.7 134.1h0.95M481.8 137.3h0.95M482.0 134.9h0.95M484.2 136.9h0.95M481.8 135.5h0.95M480.9 135.3h0.95M482.9 135.0h0.95M482.7 135.7h0.95M478.5 133.4h0.95M482.5 134.0h0.95M480.9 134.5h0.95M484.9 134.6h0.95M481.4 134.1h0.95M480.6 135.9h0.95M480.9 136.8h0.95M483.8 136.1h0.95M484.0 134.8h0.95M479.7 134.9h0.95M483.4 132.0h0.95M480.5 137.1h0.95M483.1 137.6h0.95M483.4 135.1h0.95M483.1 136.7h0.95M482.4 134.6h0.95M482.9 134.4h0.95M486.1 133.5h0.95M480.1 132.5h0.95M484.0 134.2h0.95M482.7 134.6h0.95M482.8 132.2h0.95M482.6 133.9h0.95M484.1 136.2h0.95M480.5 133.1h0.95M483.3 137.3h0.95M483.6 134.7h0.95M484.1 130.4h0.95M481.6 133.1h0.95M480.8 136.1h0.95M482.8 135.6h0.95M482.2 136.2h0.95M483.6 133.9h0.95M483.9 133.2h0.95M485.1 132.5h0.95M482.0 132.9h0.95M482.5 137.6h0.95M481.3 138.5h0.95M484.6 135.8h0.95M481.5 136.8h0.95M478.0 133.5h0.95M483.9 134.9h0.95M486.3 133.7h0.95M480.4 134.6h0.95M485.4 116.2h0.95M482.2 111.0h0.95M486.3 108.3h0.95M484.0 106.5h0.95M485.7 113.3h0.95M485.4 111.3h0.95M486.0 110.1h0.95M485.6 113.2h0.95M486.4 112.2h0.95M484.7 112.9h0.95M482.5 104.6h0.95M486.8 111.0h0.95M483.2 108.6h0.95M484.4 110.7h0.95M483.6 113.8h0.95M482.3 119.9h0.95M483.1 116.0h0.95M485.5 104.9h0.95M483.0 110.7h0.95M485.0 109.1h0.95M484.6 111.0h0.95M483.1 110.7h0.95M487.7 108.3h0.95M483.2 112.7h0.95M486.5 114.0h0.95M483.8 110.3h0.95M484.9 109.8h0.95M485.2 114.1h0.95M485.4 110.5h0.95M484.3 116.5h0.95M482.9 117.2h0.95M485.6 110.8h0.95M483.6 116.6h0.95M486.3 113.5h0.95M487.5 104.5h0.95M484.8 109.5h0.95M483.6 110.8h0.95M485.4 112.3h0.95M484.4 106.1h0.95M485.4 112.5h0.95M487.5 113.6h0.95M484.6 106.7h0.95M488.4 108.2h0.95M484.9 113.0h0.95M485.3 115.0h0.95M483.2 108.2h0.95M484.9 106.4h0.95M483.8 115.1h0.95M485.0 110.2h0.95M483.8 110.7h0.95M484.6 106.9h0.95M485.7 106.2h0.95M486.4 109.4h0.95M481.5 105.3h0.95M485.0 107.6h0.95M487.1 115.1h0.95M487.5 113.5h0.95M486.5 108.5h0.95M486.4 109.0h0.95M484.6 105.9h0.95M484.7 111.9h0.95M484.5 106.8h0.95M485.9 113.6h0.95M484.5 113.1h0.95M486.0 107.2h0.95M484.6 104.2h0.95M483.2 111.9h0.95M483.4 111.8h0.95M485.1 103.6h0.95M483.9 115.6h0.95M484.6 110.9h0.95M483.6 105.1h0.95M482.4 120.2h0.95M484.4 107.6h0.95M484.8 104.0h0.95M486.6 116.3h0.95M483.6 111.6h0.95M483.4 113.4h0.95M483.4 110.0h0.95M486.4 112.3h0.95M484.2 105.4h0.95M482.4 114.6h0.95M485.3 110.7h0.95M486.4 111.0h0.95M483.6 110.1h0.95M484.5 110.5h0.95M488.1 112.5h0.95M485.0 109.7h0.95M483.7 107.1h0.95M482.0 108.9h0.95M482.5 104.2h0.95M483.3 103.6h0.95M486.5 114.7h0.95M483.3 117.4h0.95M485.5 101.9h0.95M484.6 107.1h0.95M482.2 109.6h0.95M486.2 112.0h0.95M482.6 108.3h0.95M483.6 114.4h0.95M484.5 107.2h0.95M483.3 103.8h0.95M483.4 113.5h0.95M481.9 111.2h0.95M484.5 113.3h0.95M483.0 113.6h0.95M486.8 118.3h0.95M482.3 110.4h0.95M484.3 110.9h0.95M483.2 113.4h0.95M487.9 115.6h0.95M483.3 108.5h0.95M485.6 111.0h0.95M483.5 114.7h0.95M485.3 114.0h0.95M483.9 126.8h0.95M483.3 119.6h0.95M484.2 118.8h0.95M486.7 125.2h0.95M480.8 123.5h0.95M485.9 121.9h0.95M485.1 121.2h0.95M484.1 122.7h0.95M485.2 120.1h0.95M481.9 124.0h0.95M483.2 124.6h0.95M483.2 119.1h0.95M485.7 123.8h0.95M485.7 122.0h0.95M483.5 126.8h0.95M480.8 128.2h0.95M485.2 122.8h0.95M484.4 124.8h0.95M482.7 123.8h0.95M482.3 117.4h0.95M484.6 123.3h0.95M485.5 124.7h0.95M485.6 125.4h0.95M482.1 126.7h0.95M489.6 121.3h0.95M481.7 125.1h0.95M486.1 126.0h0.95M487.3 118.8h0.95M485.0 124.4h0.95M486.7 120.3h0.95M484.3 121.9h0.95M483.9 122.6h0.95M483.9 117.7h0.95M484.1 123.2h0.95M483.4 112.3h0.95M482.8 121.0h0.95M482.5 127.8h0.95M486.1 122.4h0.95M485.4 132.9h0.95M482.3 124.4h0.95M484.7 119.5h0.95M489.9 111.4h0.95M488.4 108.0h0.95M481.7 116.2h0.95M491.4 110.5h0.95M484.9 103.0h0.95M493.0 106.0h0.95M483.6 111.0h0.95M490.2 112.3h0.95M486.5 112.1h0.95M489.1 111.8h0.95M487.0 111.6h0.95M483.2 118.7h0.95M484.4 105.4h0.95M485.2 112.2h0.95M479.0 136.7h0.95M477.0 134.4h0.95M478.9 133.6h0.95M477.0 133.5h0.95M478.5 136.4h0.95M476.1 136.9h0.95M476.4 135.7h0.95M476.4 138.3h0.95M479.7 136.9h0.95M476.4 132.0h0.95M476.7 134.9h0.95M474.4 134.2h0.95M479.6 128.7h0.95M479.4 134.5h0.95M480.0 136.2h0.95M478.4 136.6h0.95M476.6 129.3h0.95M479.2 138.0h0.95M478.4 130.5h0.95M477.1 133.9h0.95M476.3 133.6h0.95M476.9 139.2h0.95M477.8 139.1h0.95M479.5 130.0h0.95M478.7 132.3h0.95M477.7 134.4h0.95M478.5 131.4h0.95M478.1 132.2h0.95M478.7 133.6h0.95M477.9 139.4h0.95M475.8 128.1h0.95M479.4 134.0h0.95M477.9 137.5h0.95M479.4 132.4h0.95M479.9 132.5h0.95M478.4 137.5h0.95M476.3 132.8h0.95M476.3 131.9h0.95M476.6 137.7h0.95M474.6 139.3h0.95M478.8 134.4h0.95M477.9 131.4h0.95M478.6 138.0h0.95M476.4 133.7h0.95M475.5 130.9h0.95M479.1 135.3h0.95M476.8 135.3h0.95M475.3 128.0h0.95M476.3 134.6h0.95M475.3 134.2h0.95M476.1 131.0h0.95M478.5 132.1h0.95M478.5 136.5h0.95M476.4 128.4h0.95M479.1 134.3h0.95" stroke="#000" stroke-width="0.95" fill="none"/>
<path d="M490.6 123.1h0.95M488.5 134.4h0.95M453.4 137.5h0.95M492.9 108.9h0.95M511.9 133.8h0.95M491.6 88.7h0.95M493.4 109.2h0.95M490.2 130.5h0.95M461.4 131.2h0.95M473.0 101.0h0.95M455.2 93.6h0.95M470.2 115.1h0.95M514.0 97.0h0.95M471.6 107.2h0.95M494.5 106.2h0.95M496.4 95.9h0.95" stroke="#aaa" stroke-width="0.95" fill="none"/>
<path d="M60.7 224.2h0.95M56.7 221.2h0.95M61.1 224.5h0.95M63.1 226.1h0.95M56.4 221.1h0.95M56.2 223.6h0.95M59.3 224.7h0.95M61.6 217.8h0.95M57.1 218.2h0.95M54.0 220.9h0.95M55.1 219.7h0.95M52.6 226.9h0.95M56.1 226.3h0.95M53.8 215.1h0.95M55.3 226.0h0.95M55.4 224.3h0.95M53.9 227.7h0.95M58.3 226.6h0.95M56.2 227.4h0.95M57.2 221.3h0.95M55.1 223.2h0.95M54.4 218.9h0.95M57.4 225.4h0.95M56.2 225.9h0.95M61.6 218.7h0.95M57.7 219.7h0.95M55.1 223.6h0.95M50.1 225.1h0.95M59.4 224.8h0.95M55.9 226.7h0.95M61.2 224.7h0.95M51.8 222.5h0.95M56.1 217.5h0.95M56.8 225.6h0.95M56.2 222.4h0.95M61.3 220.9h0.95M54.3 223.1h0.95M60.3 225.0h0.95M57.2 221.3h0.95M60.6 226.0h0.95M52.0 224.1h0.95M50.0 228.1h0.95M58.8 220.9h0.95M53.2 222.0h0.95M51.9 224.9h0.95M55.5 217.0h0.95M56.9 227.0h0.95M53.3 221.8h0.95M62.3 223.6h0.95M55.4 223.6h0.95M59.3 219.6h0.95M56.7 217.4h0.95M52.4 217.7h0.95M59.5 224.1h0.95M59.1 227.1h0.95M57.1 223.8h0.95M58.2 224.6h0.95M53.9 222.1h0.95M56.6 223.1h0.95M54.8 222.5h0.95M57.8 223.6h0.95M58.7 225.8h0.95M58.6 226.3h0.95M59.4 227.7h0.95M58.8 220.9h0.95M63.8 226.8h0.95M60.6 225.5h0.95M57.1 219.1h0.95M58.3 221.8h0.95M55.8 215.7h0.95M61.5 219.0h0.95M53.8 224.6h0.95M58.6 220.3h0.95M57.0 223.9h0.95M57.5 224.8h0.95M59.3 221.7h0.95M55.9 219.6h0.95M59.2 225.0h0.95M50.2 227.4h0.95M56.9 224.1h0.95M57.9 222.2h0.95M57.9 218.6h0.95M49.5 227.2h0.95M50.5 220.1h0.95M59.6 221.6h0.95M55.3 217.9h0.95M56.6 222.4h0.95M55.1 217.7h0.95M57.4 224.4h0.95M60.3 224.8h0.95M61.4 227.1h0.95M56.7 219.4h0.95M58.3 226.3h0.95M52.5 218.8h0.95M59.0 221.1h0.95M61.2 223.7h0.95M55.4 218.5h0.95M58.7 217.1h0.95M53.2 218.5h0.95M56.4 221.7h0.95M59.0 227.2h0.95M56.4 226.9h0.95M50.1 222.8h0.95M56.4 218.7h0.95M62.7 220.7h0.95M57.0 218.7h0.95M59.0 223.7h0.95M56.2 221.6h0.95M55.3 220.5h0.95M52.9 227.1h0.95M59.6 218.3h0.95M53.6 224.4h0.95M63.6 222.3h0.95M56.1 222.1h0.95M57.7 222.4h0.95M60.2 226.3h0.95M58.6 228.4h0.95M56.3 221.1h0.95M65.7 216.4h0.95M52.5 215.0h0.95M58.0 219.3h0.95M60.1 215.8h0.95M56.6 221.7h0.95M53.9 226.8h0.95M55.8 224.5h0.95M55.5 223.5h0.95M55.7 223.2h0.95M56.7 220.7h0.95M58.3 222.4h0.95M54.2 219.4h0.95M58.3 227.5h0.95M53.2 221.6h0.95M58.3 226.6h0.95M59.1 219.0h0.95M57.1 226.1h0.95M57.7 222.2h0.95M53.6 223.6h0.95M56.8 223.1h0.95M61.4 227.0h0.95M54.7 223.8h0.95M56.1 223.3h0.95M61.8 226.1h0.95M57.1 220.8h0.95M56.5 224.2h0.95M55.5 226.8h0.95M57.1 219.0h0.95M63.0 213.1h0.95M56.2 222.6h0.95M59.9 226.8h0.95M61.2 228.3h0.95M57.9 223.4h0.95M60.0 222.9h0.95M53.3 221.4h0.95M58.9 225.1h0.95M53.8 227.1h0.95M57.9 217.9h0.95M58.4 226.4h0.95M58.6 221.9h0.95M54.7 226.8h0.95M57.7 223.0h0.95M55.8 219.5h0.95M51.5 221.8h0.95M60.2 225.6h0.95M55.0 228.2h0.95M56.3 219.6h0.95M59.8 227.7h0.95M55.9 218.8h0.95M56.8 214.7h0.95M57.2 228.2h0.95M57.8 220.5h0.95M59.1 221.3h0.95M60.7 221.8h0.95M62.9 221.8h0.95M57.6 219.8h0.95M53.3 224.2h0.95M58.0 219.7h0.95M58.6 221.6h0.95M55.4 222.8h0.95M58.1 225.5h0.95M60.6 224.3h0.95M54.9 220.7h0.95M58.1 218.9h0.95M56.5 221.7h0.95M56.7 223.6h0.95M60.0 228.6h0.95M59.6 226.4h0.95M53.9 226.5h0.95M60.8 218.4h0.95M64.4 221.1h0.95M57.2 220.3h0.95M55.3 226.6h0.95M57.7 221.7h0.95M60.3 219.8h0.95M54.5 221.1h0.95M54.8 225.4h0.95M56.3 219.4h0.95M55.7 216.2h0.95M57.5 223.3h0.95M58.8 222.2h0.95M58.2 219.8h0.95M57.1 223.5h0.95M53.5 225.0h0.95M57.4 223.2h0.95M57.0 220.4h0.95M54.5 225.0h0.95M56.4 220.3h0.95M54.9 226.2h0.95M57.2 226.6h0.95M57.0 219.0h0.95M59.5 224.1h0.95M55.1 221.9h0.95M54.2 225.8h0.95M55.8 224.6h0.95M57.8 222.1h0.95M58.1 222.2h0.95M53.6 221.6h0.95M53.6 225.6h0.95M58.9 221.0h0.95M58.8 223.8h0.95M59.8 219.8h0.95M57.1 219.6h0.95M55.0 227.7h0.95M51.2 219.9h0.95M58.4 225.6h0.95M54.7 216.1h0.95M52.0 224.2h0.95M60.2 226.1h0.95M54.9 227.6h0.95M56.5 225.1h0.95M56.4 228.4h0.95M55.5 215.7h0.95M56.1 223.6h0.95M57.8 220.6h0.95M56.3 219.1h0.95M56.3 223.3h0.95M57.7 228.6h0.95M51.2 224.8h0.95M58.3 219.1h0.95M57.2 223.0h0.95M54.1 225.4h0.95M62.5 225.3h0.95M59.3 226.6h0.95M56.6 226.3h0.95M54.7 223.6h0.95M59.0 227.4h0.95M56.2 222.0h0.95M58.4 222.7h0.95M57.4 225.7h0.95M54.8 226.0h0.95M58.1 222.1h0.95M53.4 220.9h0.95M56.9 226.2h0.95M51.3 225.4h0.95M57.6 219.2h0.95M59.5 224.3h0.95M58.3 219.7h0.95M53.8 226.1h0.95M61.1 224.2h0.95M56.4 221.5h0.95M52.0 226.3h0.95M56.7 227.2h0.95M54.9 226.6h0.95M54.9 225.0h0.95M61.0 220.6h0.95M59.6 223.0h0.95M54.3 223.7h0.95M58.9 220.6h0.95M56.2 221.1h0.95M54.8 222.3h0.95M59.4 221.3h0.95M60.6 221.7h0.95M55.0 226.6h0.95M61.0 220.8h0.95M58.7 219.1h0.95M55.8 221.7h0.95M59.0 218.8h0.95M55.5 220.7h0.95M57.3 218.9h0.95M57.6 217.9h0.95M59.4 218.6h0.95M60.6 220.2h0.95M53.9 224.6h0.95M62.8 225.0h0.95M58.9 219.0h0.95M51.9 224.3h0.95M59.9 223.5h0.95M57.0 227.7h0.95M54.6 226.7h0.95M59.4 220.9h0.95M57.4 223.4h0.95M58.7 219.7h0.95M56.3 223.3h0.95M57.1 223.1h0.95M57.7 222.4h0.95M55.6 226.5h0.95M55.2 221.9h0.95M54.5 219.1h0.95M58.3 222.9h0.95M56.6 224.5h0.95M56.5 225.3h0.95M62.2 224.2h0.95M56.2 228.5h0.95M59.0 217.4h0.95M60.8 223.7h0.95M59.4 219.1h0.95M54.6 220.8h0.95M58.6 219.2h0.95M55.0 226.2h0.95M55.2 223.4h0.95M54.4 217.3h0.95M56.8 222.6h0.95M52.9 226.3h0.95M59.3 226.0h0.95M55.5 219.2h0.95M56.7 223.6h0.95M56.5 221.0h0.95M54.2 220.5h0.95M56.8 221.4h0.95M61.7 222.1h0.95M58.3 221.4h0.95M56.5 219.7h0.95M55.6 218.0h0.95M51.1 227.5h0.95M54.0 224.4h0.95M56.6 221.1h0.95M59.1 221.1h0.95M58.2 221.8h0.95M59.8 226.2h0.95M57.2 226.7h0.95M58.4 228.2h0.95M56.6 217.8h0.95M57.6 223.8h0.95M56.0 222.3h0.95M56.2 218.8h0.95M61.9 220.4h0.95M54.0 217.7h0.95M54.6 222.9h0.95M61.2 225.0h0.95M54.9 218.8h0.95M53.8 222.7h0.95M59.5 221.4h0.95M57.4 215.8h0.95M60.1 222.7h0.95M58.9 226.3h0.95M54.1 223.2h0.95M57.5 220.5h0.95M59.0 222.6h0.95M57.5 228.4h0.95M56.6 226.4h0.95M54.9 223.5h0.95M60.1 215.8h0.95M58.5 222.1h0.95M60.1 223.6h0.95M56.8 218.7h0.95M65.3 220.5h0.95M56.1 220.6h0.95M56.1 223.7h0.95M53.2 226.5h0.95M56.2 225.0h0.95M51.0 221.3h0.95M56.1 221.7h0.95M55.1 224.0h0.95M58.1 219.7h0.95M51.4 225.4h0.95M56.1 226.6h0.95M59.5 222.6h0.95M52.9 221.8h0.95M54.9 227.1h0.95M52.2 226.0h0.95M52.6 221.1h0.95M53.0 220.7h0.95M55.7 224.2h0.95M55.3 225.3h0.95M61.9 223.5h0.95M53.7 222.4h0.95M56.7 221.8h0.95M60.2 226.8h0.95M62.7 224.7h0.95M49.4 222.6h0.95M58.9 220.3h0.95M55.3 226.0h0.95M57.4 219.2h0.95M55.3 212.7h0.95M57.0 218.9h0.95M56.8 219.0h0.95M54.4 221.3h0.95M64.9 219.0h0.95M53.6 221.2h0.95M60.0 225.6h0.95M59.0 221.9h0.95M57.3 220.4h0.95M56.5 220.3h0.95M52.9 219.7h0.95M62.4 224.3h0.95M54.9 222.6h0.95M55.7 227.0h0.95M56.9 220.9h0.95M58.9 224.1h0.95M55.0 220.4h0.95M57.4 217.5h0.95M54.4 226.4h0.95M59.4 226.7h0.95M55.7 221.0h0.95M56.2 221.4h0.95M60.6 222.2h0.95M60.8 220.6h0.95M58.0 228.4h0.95M54.9 220.8h0.95M55.3 217.6h0.95M56.1 220.8h0.95M63.2 221.4h0.95M50.9 226.1h0.95M59.7 222.9h0.95M57.8 225.4h0.95M55.4 223.1h0.95M57.4 228.5h0.95M61.0 223.5h0.95M53.2 225.9h0.95M56.8 226.9h0.95M57.1 223.6h0.95M58.8 220.6h0.95M54.5 226.1h0.95M58.9 225.7h0.95M60.8 218.5h0.95M59.7 216.1h0.95M57.1 224.1h0.95M59.9 226.6h0.95M54.3 222.1h0.95M56.5 220.7h0.95M54.7 220.8h0.95M60.2 227.5h0.95M59.1 228.6h0.95M57.2 219.4h0.95M55.1 223.7h0.95M59.9 227.0h0.95M54.4 226.2h0.95M55.5 225.0h0.95M59.6 227.9h0.95M55.5 223.8h0.95M58.2 221.6h0.95M57.2 225.0h0.95M52.3 220.8h0.95M63.5 224.5h0.95M55.4 216.9h0.95M54.3 224.7h0.95M58.9 224.5h0.95M58.6 221.0h0.95M61.5 219.2h0.95M58.4 222.1h0.95M52.1 226.0h0.95M56.2 225.4h0.95M60.6 223.5h0.95M55.1 222.3h0.95M56.8 227.8h0.95M59.4 228.3h0.95M59.1 220.4h0.95M59.6 226.2h0.95M56.6 224.5h0.95M56.1 218.8h0.95M56.7 225.5h0.95M55.9 215.5h0.95M54.7 226.6h0.95M57.6 226.7h0.95M54.8 221.6h0.95M54.1 220.4h0.95M58.4 223.5h0.95M55.6 224.0h0.95M53.3 221.7h0.95M52.7 218.0h0.95M53.1 219.3h0.95M61.4 227.6h0.95M60.5 221.1h0.95M58.7 219.2h0.95M55.4 223.8h0.95M52.4 223.7h0.95M58.7 216.1h0.95M50.1 222.1h0.95M56.6 223.5h0.95M53.8 224.9h0.95M57.3 220.5h0.95M61.6 223.9h0.95M55.6 222.3h0.95M52.1 222.2h0.95M58.5 223.7h0.95M53.4 220.1h0.95M51.7 218.4h0.95M57.3 224.0h0.95M54.4 222.3h0.95M54.7 225.1h0.95M58.8 221.1h0.95M55.7 218.9h0.95M56.9 225.9h0.95M58.6 227.9h0.95M56.0 220.0h0.95M59.9 226.1h0.95M55.1 226.7h0.95M56.9 222.9h0.95M62.1 224.8h0.95M57.8 221.9h0.95M57.5 226.5h0.95M58.2 220.5h0.95M58.2 222.6h0.95M57.8 222.3h0.95M50.8 217.6h0.95M55.9 215.6h0.95M58.9 221.5h0.95M57.9 215.5h0.95M57.7 226.3h0.95M57.5 218.6h0.95M59.7 221.2h0.95M55.3 223.7h0.95M58.2 218.8h0.95M56.9 223.2h0.95M61.0 227.3h0.95M64.2 220.8h0.95M54.4 224.2h0.95M61.5 219.6h0.95M56.0 220.5h0.95M58.4 224.3h0.95M56.8 225.2h0.95M54.7 221.7h0.95M56.8 223.2h0.95M60.7 223.3h0.95M60.6 223.8h0.95M60.2 223.6h0.95M54.3 220.1h0.95M62.2 221.9h0.95M64.0 219.2h0.95M54.6 226.1h0.95M52.6 226.1h0.95M58.0 225.1h0.95M53.5 224.3h0.95M59.6 222.8h0.95M59.9 223.1h0.95M57.9 221.9h0.95M53.1 222.5h0.95M58.4 220.4h0.95M51.4 217.8h0.95M60.7 222.2h0.95M54.8 227.2h0.95M56.5 217.9h0.95M55.7 220.0h0.95M56.4 219.9h0.95M57.1 224.6h0.95M55.3 222.3h0.95M56.5 225.8h0.95M54.9 225.5h0.95M60.5 222.3h0.95M54.2 222.0h0.95M51.9 221.2h0.95M53.6 222.4h0.95M55.9 224.8h0.95M57.3 224.4h0.95M56.8 224.0h0.95M53.7 225.2h0.95M60.7 226.8h0.95M53.1 224.4h0.95M52.3 225.6h0.95M56.4 221.4h0.95M54.8 222.2h0.95M56.9 219.7h0.95M57.1 223.9h0.95M58.5 222.8h0.95M59.8 224.1h0.95M53.0 225.1h0.95M58.6 214.0h0.95M56.5 224.3h0.95M57.1 223.3h0.95M56.5 227.7h0.95M58.0 222.0h0.95M54.5 221.2h0.95M57.9 223.5h0.95M57.8 227.6h0.95M60.2 224.4h0.95M57.1 222.8h0.95M56.3 226.4h0.95M53.4 219.5h0.95M55.7 219.7h0.95M54.9 227.1h0.95M50.5 225.0h0.95M53.2 222.2h0.95M55.3 219.6h0.95M52.7 223.2h0.95M48.5 215.8h0.95M55.8 226.7h0.95M62.3 222.0h0.95M54.7 222.0h0.95M58.3 226.2h0.95M54.2 224.6h0.95M56.9 226.9h0.95M55.8 222.3h0.95M54.5 218.5h0.95M57.7 225.4h0.95M60.2 223.9h0.95M55.6 219.9h0.95M53.6 220.5h0.95M57.9 223.3h0.95M50.4 222.7h0.95M56.1 219.4h0.95M56.9 224.8h0.95M54.0 218.4h0.95M56.0 223.9h0.95M56.2 228.3h0.95M57.4 219.6h0.95M59.2 220.8h0.95M58.9 223.3h0.95M60.5 219.6h0.95M59.0 224.4h0.95M54.4 225.4h0.95M63.5 224.2h0.95M54.8 222.5h0.95M60.7 223.9h0.95M61.2 220.8h0.95M60.7 217.6h0.95M56.5 222.0h0.95M55.6 227.2h0.95M55.2 224.2h0.95M62.3 225.8h0.95M55.8 220.5h0.95M51.2 224.3h0.95M58.9 227.3h0.95M58.7 217.1h0.95M55.1 226.4h0.95M56.1 226.5h0.95M62.6 221.7h0.95M61.8 223.8h0.95M53.8 224.3h0.95M59.0 222.3h0.95M60.4 221.4h0.95M56.6 226.8h0.95M56.5 222.3h0.95M56.9 226.0h0.95M60.8 228.1h0.95M61.1 223.9h0.95M53.4 223.9h0.95M56.1 221.0h0.95M55.9 223.8h0.95M57.1 226.8h0.95M55.0 227.4h0.95M57.1 226.2h0.95M59.7 220.3h0.95M60.5 221.8h0.95M57.9 227.3h0.95M59.0 219.3h0.95M57.3 227.4h0.95M56.7 223.8h0.95M55.8 221.2h0.95M54.6 222.4h0.95M56.5 225.0h0.95M56.8 218.8h0.95M53.5 226.0h0.95M58.6 219.9h0.95M59.0 216.7h0.95M62.1 225.8h0.95M53.4 225.5h0.95M56.9 222.6h0.95M56.2 223.3h0.95M56.8 221.3h0.95M55.7 225.7h0.95M58.2 220.0h0.95M54.0 220.9h0.95M52.2 218.2h0.95M56.2 220.8h0.95M54.6 221.9h0.95M56.6 226.5h0.95M58.2 218.7h0.95M60.3 223.0h0.95M54.8 223.9h0.95M56.1 219.8h0.95M60.4 222.3h0.95M55.7 225.6h0.95M60.7 225.5h0.95M55.0 225.3h0.95M59.4 225.1h0.95M58.4 222.6h0.95M56.8 218.9h0.95M55.4 220.6h0.95M57.0 228.5h0.95M52.0 220.0h0.95M55.0 223.7h0.95M59.6 221.7h0.95M55.3 227.6h0.95M57.8 225.6h0.95M58.8 221.8h0.95M57.5 222.0h0.95M55.4 224.4h0.95M58.0 220.2h0.95M55.3 225.8h0.95M57.4 226.0h0.95M56.3 221.6h0.95M58.7 225.8h0.95M50.7 226.6h0.95M55.3 226.0h0.95M60.5 223.2h0.95M54.9 224.8h0.95M57.2 225.7h0.95M53.9 224.7h0.95M59.0 226.1h0.95M58.4 227.6h0.95M55.2 227.7h0.95M57.5 221.0h0.95M56.3 224.8h0.95M57.7 228.1h0.95M57.4 222.5h0.95M61.8 223.0h0.95M55.2 226.8h0.95M56.1 221.6h0.95M54.7 227.6h0.95M54.7 224.3h0.95M56.0 223.4h0.95M55.2 224.5h0.95M58.3 227.2h0.95M56.2 220.5h0.95M53.7 224.0h0.95M51.5 228.0h0.95M57.1 224.4h0.95M53.9 222.1h0.95M55.4 226.0h0.95M56.1 225.9h0.95M58.1 218.2h0.95M56.5 227.8h0.95M55.9 224.4h0.95M56.7 220.3h0.95M61.8 223.6h0.95M58.4 222.7h0.95M60.1 227.5h0.95M59.6 226.9h0.95M58.6 228.2h0.95M57.9 224.4h0.95M58.8 221.3h0.95M51.4 226.5h0.95M57.3 221.9h0.95M56.4 221.2h0.95M55.1 224.6h0.95M57.3 226.5h0.95M56.8 225.9h0.95M58.5 221.9h0.95M53.3 222.0h0.95M56.4 222.4h0.95M61.9 222.0h0.95M58.0 221.7h0.95M58.5 220.2h0.95M59.1 224.6h0.95M56.1 220.4h0.95M60.7 222.3h0.95M60.2 216.8h0.95M60.9 224.1h0.95M59.2 225.9h0.95M56.2 224.4h0.95M54.5 220.0h0.95M57.3 226.2h0.95M57.4 220.4h0.95M58.9 224.3h0.95M58.7 223.2h0.95M56.4 227.2h0.95M60.0 220.4h0.95M54.6 226.9h0.95M57.8 224.2h0.95M54.8 227.1h0.95M57.4 224.7h0.95M57.9 222.5h0.95M57.9 224.4h0.95M58.6 225.2h0.95M54.2 221.9h0.95M56.4 227.5h0.95M55.6 227.4h0.95M59.4 226.7h0.95M62.0 224.0h0.95M57.7 227.7h0.95M57.9 227.0h0.95M56.7 228.3h0.95M57.8 218.3h0.95M59.4 223.5h0.95M55.1 223.1h0.95M56.4 227.5h0.95M57.7 223.8h0.95M57.0 221.4h0.95M55.6 222.6h0.95M56.5 220.6h0.95M56.1 227.0h0.95M58.0 224.0h0.95M57.8 223.3h0.95M54.4 226.7h0.95M62.0 225.6h0.95M54.3 225.6h0.95M56.2 223.2h0.95M53.3 223.8h0.95M57.9 219.3h0.95M56.5 222.6h0.95M54.8 225.9h0.95M60.6 225.3h0.95M59.3 226.3h0.95M56.9 225.8h0.95M59.9 222.8h0.95M56.7 219.9h0.95M52.9 221.6h0.95M59.0 225.1h0.95M57.6 228.0h0.95M53.1 228.2h0.95M57.2 226.4h0.95M60.1 221.6h0.95M55.1 225.2h0.95M56.9 222.3h0.95M56.7 221.9h0.95M57.3 222.9h0.95M60.8 220.9h0.95M58.3 224.3h0.95M60.5 221.2h0.95M55.5 222.9h0.95M56.1 221.1h0.95M59.7 228.6h0.95M56.7 221.8h0.95M54.0 226.0h0.95M55.8 225.7h0.95M51.7 222.8h0.95M58.4 225.3h0.95M50.7 224.9h0.95M57.3 224.0h0.95M56.2 222.7h0.95M57.3 225.6h0.95M50.0 224.0h0.95M59.1 223.4h0.95M59.7 221.3h0.95M61.2 226.9h0.95M54.4 223.7h0.95M58.0 227.2h0.95M57.2 220.2h0.95M59.7 223.5h0.95M58.0 223.1h0.95M56.8 220.0h0.95M58.5 222.2h0.95M53.1 225.3h0.95M56.9 226.9h0.95M58.8 220.4h0.95M56.6 224.0h0.95M57.2 220.9h0.95M57.2 227.0h0.95M59.7 228.4h0.95M58.7 216.5h0.95M56.4 222.4h0.95M59.0 224.0h0.95M57.8 225.5h0.95M56.5 228.1h0.95M61.0 226.5h0.95M55.8 224.8h0.95M59.2 226.2h0.95M55.5 226.9h0.95M58.6 225.8h0.95M56.1 224.0h0.95M52.8 223.9h0.95M56.0 223.2h0.95M56.4 223.1h0.95M57.2 224.3h0.95M55.6 223.6h0.95M56.8 225.5h0.95M58.0 223.0h0.95M55.2 219.2h0.95M54.2 225.2h0.95M56.7 222.9h0.95M56.7 222.4h0.95M55.6 224.2h0.95M53.8 224.4h0.95M56.8 221.4h0.95M59.3 225.1h0.95M59.4 222.1h0.95M54.3 220.5h0.95M53.5 218.4h0.95M60.5 222.6h0.95M57.4 222.4h0.95M53.2 221.1h0.95M57.3 221.3h0.95M58.5 227.9h0.95M59.0 226.3h0.95M56.6 227.0h0.95M55.2 220.5h0.95M56.4 223.3h0.95M59.7 221.1h0.95M59.5 221.7h0.95M54.2 219.0h0.95M56.9 219.7h0.95M57.5 224.2h0.95M56.1 218.3h0.95M55.9 225.3h0.95M53.1 226.1h0.95M57.0 222.4h0.95M57.4 226.0h0.95M57.0 221.7h0.95M58.7 222.0h0.95M57.8 226.9h0.95M59.3 224.5h0.95M56.6 224.6h0.95M58.5 221.6h0.95M60.4 219.3h0.95M59.2 220.2h0.95M54.6 222.5h0.95M56.4 220.0h0.95M58.4 223.7h0.95M60.0 221.0h0.95M53.0 226.1h0.95M56.5 226.9h0.95M51.8 220.3h0.95M54.3 218.4h0.95M56.0 228.2h0.95M60.5 220.0h0.95M55.7 218.6h0.95M55.1 221.2h0.95M57.9 227.4h0.95M62.3 223.0h0.95M58.8 224.7h0.95M57.7 226.6h0.95M58.1 223.7h0.95M55.5 222.8h0.95M57.0 222.9h0.95M56.2 221.9h0.95M58.9 223.3h0.95M56.7 223.4h0.95M59.9 222.4h0.95M60.1 221.5h0.95M60.4 225.8h0.95M55.9 225.4h0.95M59.5 221.2h0.95M56.5 224.9h0.95M56.5 223.2h0.95M57.0 224.9h0.95M58.7 228.4h0.95M56.7 219.7h0.95M56.0 223.0h0.95M59.4 218.0h0.95M55.6 223.6h0.95M58.5 225.2h0.95M58.9 223.5h0.95M56.5 227.6h0.95M60.8 225.1h0.95M57.3 221.5h0.95M61.6 225.2h0.95M58.4 219.3h0.95M56.6 223.4h0.95M60.4 223.5h0.95M54.4 221.6h0.95M58.5 224.4h0.95M57.1 223.5h0.95M57.3 225.1h0.95M56.0 223.2h0.95M57.5 220.8h0.95M58.0 217.5h0.95M58.4 223.7h0.95M54.4 228.0h0.95M55.4 227.6h0.95M56.5 227.1h0.95M56.3 218.4h0.95M57.9 225.4h0.95M55.4 219.8h0.95M57.6 222.0h0.95M56.8 224.0h0.95M55.2 227.3h0.95M57.6 227.2h0.95M56.4 222.1h0.95M55.9 221.4h0.95M58.0 224.4h0.95M54.6 219.4h0.95M55.1 218.6h0.95M55.1 219.5h0.95M58.6 220.6h0.95M55.7 223.7h0.95M57.1 225.3h0.95M58.7 225.9h0.95M56.3 227.7h0.95M57.8 221.9h0.95M60.3 220.5h0.95M58.0 227.7h0.95M57.3 225.0h0.95M57.3 226.0h0.95M57.5 224.0h0.95M58.5 218.4h0.95M57.6 223.1h0.95M61.3 224.9h0.95M55.6 226.0h0.95M56.2 220.5h0.95M56.4 225.5h0.95M59.6 227.1h0.95M57.5 223.5h0.95M57.4 227.6h0.95M56.7 227.5h0.95M55.3 224.0h0.95M58.7 226.1h0.95M57.4 222.5h0.95M53.1 222.7h0.95M55.2 222.8h0.95M60.5 221.7h0.95M58.9 224.0h0.95M54.6 224.3h0.95M58.6 220.5h0.95M54.5 222.9h0.95M58.6 222.2h0.95M57.9 225.4h0.95M57.0 225.3h0.95M59.8 223.4h0.95M57.7 220.8h0.95M55.4 223.7h0.95M58.8 222.0h0.95M54.0 226.8h0.95M62.2 216.4h0.95M54.7 224.4h0.95M58.1 221.2h0.95M57.7 227.3h0.95M56.4 226.2h0.95M57.3 221.2h0.95M55.7 222.2h0.95M59.9 227.4h0.95M57.5 219.4h0.95M56.0 222.8h0.95M52.8 223.9h0.95M57.6 220.1h0.95M56.1 222.7h0.95M61.0 226.0h0.95M58.7 224.3h0.95M54.2 226.7h0.95M55.6 218.3h0.95M58.6 223.0h0.95M57.0 225.5h0.95M56.5 225.2h0.95M59.8 223.1h0.95M56.2 224.1h0.95M58.4 222.8h0.95M57.2 222.0h0.95M56.8 225.6h0.95M55.2 223.5h0.95M53.9 221.9h0.95M57.2 225.6h0.95M54.8 223.7h0.95M55.0 224.9h0.95M57.6 225.3h0.95M56.6 219.8h0.95M55.8 220.0h0.95M55.5 223.8h0.95M59.3 222.1h0.95M55.3 224.6h0.95M53.7 227.0h0.95M59.1 226.9h0.95M56.8 226.2h0.95M56.3 226.8h0.95M55.6 221.6h0.95M57.8 222.7h0.95M58.4 221.5h0.95M57.6 221.1h0.95M54.7 220.4h0.95M53.6 223.3h0.95M60.5 222.7h0.95M59.0 223.5h0.95M59.3 218.6h0.95M54.9 225.2h0.95M58.4 223.3h0.95M57.7 225.6h0.95M56.3 227.0h0.95M55.2 226.2h0.95M59.0 224.6h0.95M56.3 223.9h0.95M52.3 224.8h0.95M54.0 218.1h0.95M58.6 221.3h0.95M57.8 224.1h0.95M53.2 221.3h0.95M56.4 225.4h0.95M57.2 220.3h0.95M55.9 224.3h0.95M54.3 222.7h0.95M55.8 217.7h0.95M60.7 226.6h0.95M56.0 226.8h0.95M54.8 228.5h0.95M56.2 224.4h0.95M55.8 224.3h0.95M57.7 224.1h0.95M55.2 226.2h0.95M58.2 224.0h0.95M59.2 221.8h0.95M59.7 223.5h0.95M60.2 222.7h0.95M56.5 224.6h0.95M59.3 228.3h0.95M56.0 221.9h0.95M58.6 227.7h0.95M58.5 223.0h0.95M59.7 223.9h0.95M57.4 225.8h0.95M55.8 217.3h0.95M57.5 226.1h0.95M57.9 225.6h0.95M57.3 227.1h0.95M57.2 228.4h0.95M57.1 226.4h0.95M55.8 224.9h0.95M57.9 224.4h0.95M60.3 224.1h0.95M59.4 225.0h0.95M59.3 221.3h0.95M56.2 226.9h0.95M55.3 225.2h0.95M58.2 224.6h0.95M57.9 225.6h0.95M54.8 217.3h0.95M58.5 218.5h0.95M57.1 224.7h0.95M57.0 225.3h0.95M60.6 221.6h0.95M53.3 216.5h0.95M59.5 220.6h0.95M54.3 217.1h0.95M52.8 227.2h0.95M56.6 226.7h0.95M61.5 219.1h0.95M53.4 227.2h0.95M53.6 223.5h0.95M62.7 221.9h0.95M56.0 228.1h0.95M61.7 227.7h0.95M59.7 218.8h0.95M51.1 216.3h0.95M62.5 222.8h0.95M62.0 228.1h0.95M53.6 228.2h0.95M54.1 218.3h0.95M54.0 228.5h0.95M62.7 220.4h0.95M56.8 226.4h0.95M61.0 227.3h0.95M55.2 218.9h0.95M57.2 227.8h0.95M58.5 227.0h0.95M53.1 222.4h0.95M62.4 223.2h0.95M60.8 226.2h0.95M56.3 224.7h0.95M59.5 221.5h0.95M57.3 226.2h0.95M62.0 228.4h0.95M55.3 224.5h0.95M57.7 226.7h0.95M53.6 221.9h0.95M53.8 226.1h0.95M59.7 216.1h0.95M51.9 217.8h0.95M58.2 225.8h0.95M55.0 217.0h0.95M58.1 223.7h0.95M56.1 219.4h0.95M55.0 218.9h0.95M61.1 220.8h0.95M59.8 222.9h0.95M53.5 219.5h0.95M59.2 226.9h0.95M62.4 217.9h0.95M53.9 217.2h0.95M53.0 220.9h0.95M59.8 227.5h0.95M58.2 217.8h0.95M55.4 217.8h0.95M54.1 223.2h0.95M57.0 218.2h0.95M54.1 227.3h0.95M58.7 223.6h0.95M54.7 219.8h0.95M60.4 216.2h0.95M59.0 228.0h0.95M58.8 216.6h0.95M50.9 225.9h0.95M52.9 221.3h0.95M59.0 224.5h0.95M54.2 224.6h0.95M62.4 221.9h0.95M55.7 224.6h0.95M61.9 224.7h0.95M62.6 225.8h0.95M62.9 219.2h0.95M59.2 218.6h0.95M52.0 220.3h0.95M62.8 219.7h0.95M54.5 227.7h0.95M63.3 225.5h0.95M55.1 226.4h0.95M51.4 216.1h0.95M51.3 220.2h0.95M53.6 226.8h0.95M56.3 226.7h0.95M56.8 220.7h0.95M54.9 216.6h0.95M56.4 228.0h0.95M63.1 227.7h0.95M51.8 221.6h0.95M61.3 217.9h0.95M51.3 218.6h0.95M51.6 225.3h0.95M59.8 228.5h0.95M51.2 224.9h0.95M60.8 218.2h0.95M51.5 228.3h0.95M60.8 216.9h0.95M52.9 224.3h0.95M52.7 221.5h0.95M52.4 217.2h0.95M56.8 222.8h0.95M61.5 216.0h0.95M55.1 216.9h0.95M57.7 218.1h0.95M54.8 228.2h0.95M58.9 224.4h0.95M58.4 218.5h0.95M59.4 228.2h0.95M51.7 226.6h0.95M55.0 218.5h0.95M59.0 226.7h0.95M52.7 218.5h0.95M57.0 218.6h0.95M57.1 228.5h0.95M50.8 221.4h0.95M53.1 218.1h0.95M58.2 227.9h0.95M56.6 223.0h0.95M59.6 226.8h0.95M63.1 220.2h0.95M52.8 227.5h0.95M58.4 227.1h0.95M52.4 225.9h0.95M52.0 217.7h0.95M52.1 220.6h0.95M55.9 224.3h0.95M62.7 221.4h0.95M58.0 221.2h0.95M55.5 219.3h0.95M50.6 219.2h0.95M59.9 226.1h0.95M59.4 221.6h0.95M55.8 218.4h0.95M53.7 228.6h0.95M58.1 221.1h0.95M57.5 222.2h0.95M54.3 221.3h0.95M56.1 227.3h0.95M62.1 219.6h0.95M56.4 218.8h0.95M62.9 217.7h0.95M56.8 216.2h0.95M56.5 221.8h0.95M50.7 217.9h0.95M57.0 222.0h0.95M54.4 216.7h0.95M54.7 220.4h0.95M51.8 223.6h0.95M53.4 222.7h0.95M59.7 216.2h0.95M57.0 224.0h0.95M62.1 224.7h0.95M61.4 224.3h0.95M53.4 226.2h0.95M60.3 222.1h0.95M62.5 216.6h0.95M62.3 220.5h0.95M57.6 226.0h0.95M52.7 222.2h0.95M50.7 216.5h0.95M62.9 218.8h0.95M56.0 217.5h0.95M62.6 222.4h0.95M61.6 219.4h0.95M56.5 219.1h0.95M58.2 224.9h0.95M58.0 223.4h0.95M54.5 228.0h0.95M50.8 218.1h0.95M59.2 228.3h0.95M61.5 219.1h0.95M62.8 221.8h0.95M57.9 224.2h0.95M58.5 227.1h0.95M62.2 220.0h0.95M62.1 220.0h0.95M59.4 218.0h0.95M58.8 219.8h0.95M63.4 224.4h0.95M55.5 228.1h0.95M52.0 225.4h0.95M58.9 216.2h0.95M56.5 217.5h0.95M63.5 217.3h0.95M58.8 222.8h0.95M52.1 227.8h0.95M58.0 223.8h0.95M53.9 217.9h0.95M54.7 216.4h0.95M53.1 222.2h0.95M55.6 225.6h0.95M52.3 218.6h0.95M57.3 224.7h0.95M54.6 218.6h0.95M52.1 220.6h0.95M55.4 226.0h0.95M53.6 220.3h0.95M60.2 218.6h0.95M51.0 228.3h0.95M62.4 220.0h0.95M54.2 221.8h0.95M53.2 225.9h0.95M62.0 225.0h0.95M55.7 226.6h0.95M62.7 218.3h0.95M59.2 218.2h0.95M63.3 226.0h0.95M55.8 225.3h0.95M54.3 216.8h0.95M57.2 216.9h0.95M56.4 226.7h0.95M58.0 219.4h0.95M53.3 223.0h0.95M57.1 227.4h0.95M52.7 221.9h0.95M56.3 220.7h0.95M52.9 220.8h0.95M57.6 218.4h0.95M54.7 222.6h0.95M62.7 222.1h0.95M55.0 216.4h0.95M57.2 220.3h0.95M52.0 222.0h0.95M58.5 220.4h0.95M60.1 224.0h0.95M51.3 216.6h0.95M57.3 223.6h0.95M57.7 218.9h0.95M55.0 225.0h0.95M55.7 222.7h0.95M53.5 223.9h0.95M56.7 216.0h0.95M60.3 226.1h0.95M63.3 227.9h0.95M59.6 221.9h0.95M54.0 224.9h0.95M55.9 220.1h0.95M52.0 223.6h0.95M59.7 225.7h0.95M52.5 218.6h0.95M58.8 217.6h0.95M62.0 227.7h0.95M58.7 219.3h0.95M57.8 225.7h0.95M55.0 224.2h0.95M58.3 227.4h0.95M60.6 224.4h0.95M57.6 227.2h0.95M58.3 224.7h0.95M54.5 217.4h0.95M57.8 218.8h0.95M63.1 218.8h0.95M62.1 220.2h0.95M53.0 223.3h0.95M54.7 228.5h0.95M58.5 217.3h0.95M54.5 217.4h0.95M56.9 222.6h0.95M54.6 224.5h0.95M56.3 226.3h0.95M59.3 219.3h0.95M61.3 216.4h0.95M53.6 216.4h0.95M62.9 222.7h0.95M61.4 228.5h0.95M51.7 227.3h0.95M50.8 224.8h0.95M60.8 220.8h0.95M62.1 225.7h0.95M57.0 219.5h0.95M52.6 217.0h0.95M57.5 222.6h0.95M52.9 222.7h0.95M51.5 219.8h0.95M59.2 217.9h0.95M57.3 217.7h0.95M62.0 218.7h0.95M62.6 227.6h0.95M63.0 219.6h0.95M59.4 216.9h0.95M63.1 224.7h0.95M51.0 217.7h0.95M51.9 220.4h0.95M62.7 225.9h0.95M54.7 226.2h0.95M50.6 222.9h0.95M55.6 217.0h0.95M62.5 224.3h0.95M63.4 224.1h0.95M58.6 217.6h0.95M56.7 227.3h0.95M57.8 224.0h0.95M56.5 220.5h0.95M50.7 218.8h0.95M52.9 217.2h0.95M51.2 225.5h0.95M63.4 224.8h0.95M61.3 218.6h0.95M61.5 220.8h0.95M61.6 219.0h0.95M54.4 222.6h0.95M53.4 219.3h0.95M59.9 225.9h0.95M63.3 224.2h0.95M55.1 221.9h0.95M58.1 223.5h0.95M62.4 223.1h0.95M63.0 222.0h0.95M56.3 216.4h0.95M54.7 222.1h0.95M50.7 221.5h0.95M52.0 219.4h0.95M62.0 227.5h0.95M52.0 223.4h0.95M56.8 216.7h0.95M54.4 222.7h0.95M56.0 223.2h0.95M51.4 223.7h0.95M58.4 218.4h0.95M57.9 227.8h0.95M62.1 223.8h0.95M57.3 225.4h0.95M56.4 224.9h0.95M55.3 223.0h0.95M60.0 223.4h0.95M58.3 220.8h0.95M55.1 224.3h0.95M56.3 221.6h0.95M55.4 219.7h0.95M58.6 227.1h0.95M53.0 224.2h0.95M57.4 224.0h0.95M59.1 221.0h0.95M50.6 220.6h0.95M57.3 223.9h0.95M62.5 224.3h0.95M59.0 220.4h0.95M60.8 217.6h0.95M62.0 222.2h0.95M56.4 224.7h0.95M57.6 228.5h0.95M52.1 216.8h0.95M58.2 218.9h0.95M53.5 228.6h0.95M57.4 219.7h0.95M55.2 218.8h0.95M53.8 217.7h0.95M63.2 225.3h0.95M55.2 217.4h0.95M63.2 227.2h0.95M51.7 227.0h0.95M57.7 228.4h0.95M56.2 221.5h0.95M50.6 223.3h0.95M53.6 227.1h0.95M53.4 227.1h0.95M54.8 226.2h0.95M59.8 227.8h0.95M58.0 220.5h0.95M53.9 219.0h0.95M51.8 219.8h0.95M54.6 226.4h0.95M50.6 222.3h0.95M57.1 218.0h0.95M59.5 218.6h0.95M60.2 218.1h0.95M61.9 219.9h0.95M51.7 217.9h0.95M53.2 217.7h0.95M54.6 228.2h0.95M55.4 221.0h0.95M60.3 216.9h0.95M51.6 227.0h0.95M54.8 218.2h0.95M52.9 225.4h0.95M63.2 221.0h0.95M59.8 221.8h0.95M53.1 220.0h0.95M54.9 219.2h0.95M60.8 217.1h0.95M52.6 215.3h0.95M63.0 214.2h0.95M52.9 210.9h0.95M56.7 214.4h0.95M60.2 208.0h0.95M61.1 213.4h0.95M56.3 213.8h0.95M55.0 212.4h0.95M58.9 209.4h0.95M55.6 214.2h0.95M51.4 212.7h0.95M60.2 213.8h0.95M57.9 214.5h0.95M56.6 213.8h0.95M53.7 212.6h0.95M61.1 210.5h0.95M55.5 210.4h0.95M54.5 211.4h0.95M52.5 213.5h0.95M53.3 214.1h0.95M61.0 207.7h0.95M55.5 208.7h0.95M55.6 213.8h0.95M56.6 215.6h0.95M56.4 209.4h0.95M60.2 211.1h0.95M55.7 213.7h0.95M53.5 213.2h0.95M60.2 209.5h0.95M51.3 212.1h0.95M55.5 210.4h0.95M49.5 214.9h0.95M57.1 210.3h0.95M57.6 212.9h0.95" stroke="#000" stroke-width="0.95" fill="none"/>
<path d="M72.2 215.5h0.95M58.1 203.6h0.95M66.2 224.5h0.95M53.5 225.3h0.95M79.0 205.5h0.95M65.3 213.7h0.95" stroke="#999" stroke-width="0.95" fill="none"/>
<path d="M129.0 222.4h0.95M132.8 214.1h0.95M126.8 221.0h0.95M131.9 222.3h0.95M132.8 222.9h0.95M135.7 223.6h0.95M130.7 225.8h0.95M128.5 219.3h0.95M127.2 221.8h0.95M130.6 224.0h0.95M133.1 223.0h0.95M132.5 220.3h0.95M127.3 223.3h0.95M132.0 225.3h0.95M129.2 219.6h0.95M128.7 222.2h0.95M129.5 220.5h0.95M130.2 220.1h0.95M130.4 219.1h0.95M125.9 220.1h0.95M134.1 218.5h0.95M131.8 225.3h0.95M128.3 221.8h0.95M124.1 222.8h0.95M133.3 221.6h0.95M124.8 219.2h0.95M127.8 221.4h0.95M130.3 219.7h0.95M128.8 218.4h0.95M131.0 221.7h0.95M130.4 219.4h0.95M130.8 220.1h0.95M130.3 220.5h0.95M128.0 217.6h0.95M125.1 216.7h0.95M125.6 218.5h0.95M129.1 217.3h0.95M130.6 227.6h0.95M132.6 217.3h0.95M129.3 219.0h0.95M131.4 216.4h0.95M130.3 221.7h0.95M131.0 222.4h0.95M130.0 215.4h0.95M128.8 218.0h0.95M130.9 220.3h0.95M130.0 224.5h0.95M129.3 226.4h0.95M131.6 216.3h0.95M128.2 224.9h0.95M128.4 224.8h0.95M128.2 220.6h0.95M132.1 216.0h0.95M129.8 219.6h0.95M130.0 226.5h0.95M130.8 216.7h0.95M131.9 219.6h0.95M130.0 224.7h0.95M128.9 224.1h0.95M130.0 218.1h0.95M128.9 216.7h0.95M132.4 221.5h0.95M131.9 217.5h0.95M131.6 217.2h0.95M130.3 221.0h0.95M128.2 222.0h0.95M129.7 218.2h0.95M127.8 216.9h0.95M132.9 221.5h0.95M128.7 223.2h0.95M127.5 217.3h0.95M130.5 226.1h0.95M130.3 221.5h0.95M133.8 216.1h0.95M136.9 217.5h0.95M129.4 216.7h0.95M126.7 220.2h0.95M135.5 218.0h0.95M128.1 221.9h0.95M127.2 220.2h0.95M131.6 214.1h0.95M128.9 220.1h0.95M128.4 220.6h0.95M125.3 219.6h0.95M128.3 217.7h0.95M132.6 227.4h0.95M131.5 218.2h0.95M133.0 222.6h0.95M127.6 222.9h0.95M128.2 222.8h0.95M131.8 224.7h0.95M127.1 220.6h0.95M129.6 217.1h0.95M130.6 223.2h0.95M126.3 219.2h0.95M126.9 216.9h0.95M127.0 225.4h0.95M128.0 219.7h0.95M132.0 224.3h0.95M133.0 214.4h0.95M131.4 215.4h0.95M128.1 219.7h0.95M128.2 227.3h0.95M129.2 224.8h0.95M129.2 220.8h0.95M130.8 222.4h0.95M130.8 215.5h0.95M130.8 222.0h0.95M131.0 220.8h0.95M130.6 216.8h0.95M132.3 217.1h0.95M133.0 224.2h0.95M129.4 220.1h0.95M131.5 220.0h0.95M126.7 221.9h0.95M126.7 219.5h0.95M133.9 223.6h0.95M128.5 220.8h0.95M128.0 221.0h0.95M126.1 223.2h0.95M129.6 219.0h0.95M128.5 219.5h0.95M128.2 219.4h0.95M132.7 223.2h0.95M130.6 222.2h0.95M126.9 213.3h0.95M133.2 223.3h0.95M130.1 221.9h0.95M130.1 221.1h0.95M129.0 213.9h0.95M131.0 221.2h0.95M131.9 222.0h0.95M128.9 222.9h0.95M130.1 219.6h0.95M128.7 219.6h0.95M128.9 219.6h0.95M129.3 224.6h0.95M124.9 210.6h0.95M128.5 220.5h0.95M127.8 216.6h0.95M127.6 219.4h0.95M130.0 219.9h0.95M126.7 219.8h0.95M133.2 218.2h0.95M129.8 224.2h0.95M127.7 219.2h0.95M136.5 225.0h0.95M128.3 221.5h0.95M129.8 221.5h0.95M130.7 220.0h0.95M124.3 217.9h0.95M130.0 216.6h0.95M128.8 225.8h0.95M130.2 218.9h0.95M129.9 224.4h0.95M125.5 217.0h0.95M128.0 219.6h0.95M129.4 219.1h0.95M129.9 221.3h0.95M126.8 219.0h0.95M126.6 221.9h0.95M130.2 223.1h0.95M127.5 219.3h0.95M124.3 221.0h0.95M125.7 222.1h0.95M132.2 222.4h0.95M131.1 221.7h0.95M130.5 224.0h0.95M132.6 227.5h0.95M129.0 223.7h0.95M131.7 222.4h0.95M130.2 216.9h0.95M132.2 218.2h0.95M128.0 218.3h0.95M130.9 217.9h0.95M130.7 222.8h0.95M129.8 219.9h0.95M131.0 225.2h0.95M128.5 217.6h0.95M128.2 218.2h0.95M129.0 220.5h0.95M124.1 225.7h0.95M127.6 219.6h0.95M124.9 214.7h0.95M127.2 221.7h0.95M131.6 215.2h0.95M130.1 225.8h0.95M128.9 223.9h0.95M130.3 218.0h0.95M132.0 219.0h0.95M130.4 219.7h0.95M129.1 221.5h0.95M132.8 215.6h0.95M126.9 221.3h0.95M131.9 220.4h0.95M129.1 222.7h0.95M133.4 218.1h0.95M125.8 220.1h0.95M131.4 216.8h0.95M132.3 224.0h0.95M131.5 218.3h0.95M126.5 223.1h0.95M130.2 223.2h0.95M126.4 211.5h0.95M132.3 224.2h0.95M128.9 221.0h0.95M130.7 223.4h0.95M129.1 219.4h0.95M127.3 224.3h0.95M129.8 210.1h0.95M130.4 219.2h0.95M126.5 219.4h0.95M126.5 219.6h0.95M128.3 222.6h0.95M127.2 215.2h0.95M128.1 216.6h0.95M131.4 220.3h0.95M125.6 218.2h0.95M129.5 220.9h0.95M125.2 220.6h0.95M130.3 224.2h0.95M132.2 220.6h0.95M126.5 219.8h0.95M131.2 218.1h0.95M132.6 217.9h0.95M126.9 223.6h0.95M129.4 222.0h0.95M128.9 221.1h0.95M128.2 227.1h0.95M131.2 220.6h0.95M130.7 223.7h0.95M128.3 221.6h0.95M130.1 219.2h0.95M127.7 220.4h0.95M128.9 219.7h0.95M124.9 221.2h0.95M131.2 221.2h0.95M133.7 223.8h0.95M128.7 218.8h0.95M130.8 219.8h0.95M125.7 221.4h0.95M128.9 220.3h0.95M131.1 221.6h0.95M134.4 218.6h0.95M129.4 222.0h0.95M128.5 219.4h0.95M133.8 216.4h0.95M130.4 215.4h0.95M130.4 214.9h0.95M126.8 224.6h0.95M133.3 221.4h0.95M130.2 217.5h0.95M128.7 216.8h0.95M129.4 220.7h0.95M129.9 223.5h0.95M128.1 214.0h0.95M126.8 217.0h0.95M128.7 219.6h0.95M129.5 225.4h0.95M129.7 217.6h0.95M128.9 218.2h0.95M129.0 222.8h0.95M126.9 223.2h0.95M133.9 225.8h0.95M133.5 221.3h0.95M126.4 227.4h0.95M129.5 221.7h0.95M128.7 218.0h0.95M131.1 216.5h0.95M126.3 222.8h0.95M128.7 218.3h0.95M130.8 225.5h0.95M128.9 220.6h0.95M130.9 224.0h0.95M132.1 223.2h0.95M128.0 222.7h0.95M129.6 215.6h0.95M132.6 222.8h0.95M132.9 220.8h0.95M131.3 220.8h0.95M130.0 223.9h0.95M129.7 222.9h0.95M129.5 224.9h0.95M131.2 215.7h0.95M133.6 222.4h0.95M128.4 219.0h0.95M134.4 221.3h0.95M130.8 222.9h0.95M128.2 226.6h0.95M134.6 218.5h0.95M132.3 215.8h0.95M128.8 221.2h0.95M129.7 222.8h0.95M130.6 222.2h0.95M129.3 222.0h0.95M128.3 227.2h0.95M129.7 224.9h0.95M129.9 220.5h0.95M129.2 216.9h0.95M134.6 222.3h0.95M129.9 219.5h0.95M132.7 220.0h0.95M128.5 219.3h0.95M133.3 222.0h0.95M129.3 219.0h0.95M132.7 221.9h0.95M128.8 223.8h0.95M131.7 217.9h0.95M132.3 224.5h0.95M129.0 216.8h0.95M132.2 219.9h0.95M129.1 220.1h0.95M129.0 223.6h0.95M127.0 222.7h0.95M132.4 224.3h0.95M131.3 221.8h0.95M129.1 220.6h0.95M127.5 226.3h0.95M129.3 217.8h0.95M131.6 225.8h0.95M130.3 220.0h0.95M127.0 223.0h0.95M129.0 218.9h0.95M131.0 216.9h0.95M131.4 213.3h0.95M128.1 216.5h0.95M129.0 223.5h0.95M126.5 225.3h0.95M128.0 219.5h0.95M132.0 218.7h0.95M133.1 220.4h0.95M129.4 218.0h0.95M132.3 220.8h0.95M128.5 218.0h0.95M128.1 220.7h0.95M127.9 223.5h0.95M129.5 219.1h0.95M130.7 225.5h0.95M124.7 222.1h0.95M132.2 221.4h0.95M131.6 216.2h0.95M127.9 224.2h0.95M129.4 221.2h0.95M131.1 222.2h0.95M130.7 219.4h0.95M128.9 225.1h0.95M128.5 216.5h0.95M128.8 223.8h0.95M133.9 221.5h0.95M128.2 222.9h0.95M130.3 224.7h0.95M130.9 223.4h0.95M130.8 222.3h0.95M127.5 220.5h0.95M133.4 225.2h0.95M131.9 222.2h0.95M129.4 222.1h0.95M128.9 224.4h0.95M128.9 218.6h0.95M125.9 225.9h0.95M127.9 218.3h0.95M130.6 226.6h0.95M131.2 220.0h0.95M131.0 218.4h0.95M129.1 221.1h0.95M129.7 223.4h0.95M130.9 226.9h0.95M131.6 220.1h0.95M130.3 218.4h0.95M128.2 219.9h0.95M132.0 218.9h0.95M126.0 217.8h0.95M126.8 220.4h0.95M129.0 217.4h0.95M127.8 219.7h0.95M130.6 222.9h0.95M132.8 220.2h0.95M131.1 221.2h0.95M127.1 219.0h0.95M134.8 220.5h0.95M133.5 223.6h0.95M133.6 220.4h0.95M131.8 220.1h0.95M127.1 217.4h0.95M130.7 216.0h0.95M130.5 218.3h0.95M130.5 216.7h0.95M131.7 220.3h0.95M126.1 216.5h0.95M129.8 215.9h0.95M130.4 222.5h0.95M128.2 225.4h0.95M133.0 222.0h0.95M130.7 222.5h0.95M129.1 225.1h0.95M128.4 213.2h0.95M129.7 222.4h0.95M131.6 217.6h0.95M132.9 218.5h0.95M131.2 223.3h0.95M130.1 224.5h0.95M128.5 227.4h0.95M130.8 219.7h0.95M135.7 221.0h0.95M125.9 225.4h0.95M133.3 219.2h0.95M127.4 224.5h0.95M129.8 218.0h0.95M128.6 221.2h0.95M132.0 225.9h0.95M128.3 225.8h0.95M126.2 223.2h0.95M129.4 222.4h0.95M128.7 218.8h0.95M130.4 224.5h0.95M124.6 221.2h0.95M128.8 217.7h0.95M126.6 222.6h0.95M131.0 223.0h0.95M125.1 216.3h0.95M128.3 219.7h0.95M133.8 219.8h0.95M130.0 224.1h0.95M133.6 222.2h0.95M130.5 227.1h0.95M128.8 215.4h0.95M128.0 220.0h0.95M132.7 222.0h0.95M132.5 221.3h0.95M129.8 219.2h0.95M126.8 222.6h0.95M130.5 222.8h0.95M128.5 219.7h0.95M130.6 222.9h0.95M134.3 218.3h0.95M132.0 223.8h0.95M129.1 221.4h0.95M129.6 225.8h0.95M135.6 222.0h0.95M129.1 224.0h0.95M130.8 220.4h0.95M131.4 223.7h0.95M128.8 223.7h0.95M124.5 217.0h0.95M129.0 221.5h0.95M126.3 225.6h0.95M128.8 221.5h0.95M129.6 223.4h0.95M128.4 223.3h0.95M127.8 216.4h0.95M130.9 221.5h0.95M131.7 214.9h0.95M130.0 219.0h0.95M129.3 219.8h0.95M128.8 218.9h0.95M132.1 215.6h0.95M125.8 222.1h0.95M134.4 218.6h0.95M127.6 217.4h0.95M127.3 224.9h0.95M131.3 223.8h0.95M130.5 221.7h0.95M128.4 218.0h0.95M128.8 225.0h0.95M128.1 221.1h0.95M133.6 220.8h0.95M131.2 219.3h0.95M134.1 217.2h0.95M131.0 220.3h0.95M130.2 222.1h0.95M132.8 223.7h0.95M132.1 222.2h0.95M127.2 225.2h0.95M133.3 222.5h0.95M131.5 220.3h0.95M126.4 224.1h0.95M128.0 227.0h0.95M131.3 220.9h0.95M128.3 221.3h0.95M127.4 219.8h0.95M133.4 220.1h0.95M134.0 220.7h0.95M130.7 218.1h0.95M129.0 219.6h0.95M126.5 227.1h0.95M131.1 220.7h0.95M127.2 221.1h0.95M127.3 218.0h0.95M129.3 227.8h0.95M125.7 222.8h0.95M128.4 211.9h0.95M126.4 220.6h0.95M129.8 218.6h0.95M133.8 222.7h0.95M128.2 215.8h0.95M130.1 218.9h0.95M132.1 217.7h0.95M132.5 219.6h0.95M130.1 220.2h0.95M131.1 224.6h0.95M128.6 219.4h0.95M132.4 223.7h0.95M132.4 223.7h0.95M129.7 225.2h0.95M128.4 220.5h0.95M128.8 223.1h0.95M128.1 221.1h0.95M128.1 221.0h0.95M131.2 224.0h0.95M129.1 227.3h0.95M128.4 222.6h0.95M128.7 216.4h0.95M127.6 224.3h0.95M126.9 228.2h0.95M129.3 222.1h0.95M131.4 221.6h0.95M128.5 220.1h0.95M128.0 222.8h0.95M128.7 222.7h0.95M127.1 220.5h0.95M132.7 222.3h0.95M129.3 224.2h0.95M129.9 225.0h0.95M127.6 223.3h0.95M127.8 223.1h0.95M133.3 225.0h0.95M128.1 222.5h0.95M130.2 219.9h0.95M129.8 219.1h0.95M131.0 223.6h0.95M129.2 223.1h0.95M133.2 221.1h0.95M126.5 222.3h0.95M128.7 219.7h0.95M130.9 223.8h0.95M130.4 225.2h0.95M128.5 220.6h0.95M130.1 215.3h0.95M125.2 222.3h0.95M129.1 221.6h0.95M128.0 222.0h0.95M131.1 220.1h0.95M130.3 221.2h0.95M129.2 221.8h0.95M131.8 222.7h0.95M130.5 221.8h0.95M126.1 223.7h0.95M129.4 221.7h0.95M128.7 218.0h0.95M131.8 225.7h0.95M131.9 217.3h0.95M130.3 218.8h0.95M129.2 220.3h0.95M128.5 219.7h0.95M128.7 223.3h0.95M131.9 223.6h0.95M129.4 221.2h0.95M129.1 221.5h0.95M128.5 221.1h0.95M130.8 221.0h0.95M128.2 221.2h0.95M129.6 221.3h0.95M129.0 223.1h0.95M129.4 219.2h0.95M130.3 219.9h0.95M130.6 223.4h0.95M130.2 222.2h0.95M127.3 221.1h0.95M129.6 223.0h0.95M127.7 221.1h0.95M127.0 221.9h0.95M129.6 221.8h0.95M132.0 223.2h0.95M129.1 220.2h0.95M128.7 223.3h0.95M130.9 220.3h0.95M129.2 220.5h0.95M130.5 221.9h0.95M128.3 219.5h0.95M131.5 218.3h0.95M126.6 214.4h0.95M132.6 220.3h0.95M130.8 222.8h0.95M130.7 224.1h0.95M128.7 221.5h0.95M131.0 222.8h0.95M128.2 219.8h0.95M127.2 222.1h0.95M128.6 217.9h0.95M128.6 222.2h0.95M129.7 221.0h0.95M129.7 223.0h0.95M127.5 219.6h0.95M131.0 223.2h0.95M127.2 219.8h0.95M131.7 223.2h0.95M129.2 223.8h0.95M131.6 224.7h0.95M127.2 218.5h0.95M128.6 221.4h0.95M128.9 222.1h0.95M131.8 224.0h0.95M131.0 221.5h0.95M132.0 222.6h0.95M129.8 221.5h0.95M126.5 226.4h0.95M129.4 223.6h0.95M133.0 221.1h0.95M127.6 223.8h0.95M129.8 219.3h0.95M130.9 221.5h0.95M127.9 215.7h0.95M127.9 222.4h0.95M127.8 223.7h0.95M132.9 222.2h0.95M129.8 221.3h0.95M130.8 221.6h0.95M131.1 224.8h0.95M130.8 219.3h0.95M130.5 220.9h0.95M129.9 223.7h0.95M128.4 222.0h0.95M131.7 219.6h0.95M129.1 223.2h0.95M129.1 223.9h0.95M127.8 218.1h0.95M130.0 221.2h0.95M129.9 223.7h0.95M131.1 220.7h0.95M128.8 217.1h0.95M127.9 222.1h0.95M129.8 218.1h0.95M130.7 221.4h0.95M131.2 220.7h0.95M131.0 219.0h0.95M126.5 219.7h0.95M130.5 222.4h0.95M126.4 221.8h0.95M130.5 225.3h0.95M130.7 222.7h0.95M126.9 222.4h0.95M126.3 220.8h0.95M128.8 219.3h0.95M127.8 221.2h0.95M130.3 220.0h0.95M129.9 223.1h0.95M129.4 225.9h0.95M128.9 219.8h0.95M126.4 224.0h0.95M130.5 221.1h0.95M129.9 221.2h0.95M130.8 221.5h0.95M129.8 221.3h0.95M128.0 216.4h0.95M130.3 218.7h0.95M130.1 223.0h0.95M132.4 219.8h0.95M129.7 223.7h0.95M128.4 220.2h0.95M130.1 226.2h0.95M131.1 223.7h0.95M127.9 223.0h0.95M131.2 218.6h0.95M129.4 221.1h0.95M130.4 217.5h0.95M130.5 221.5h0.95M129.0 216.7h0.95M126.1 220.3h0.95M130.5 222.5h0.95M130.6 217.6h0.95M129.7 224.6h0.95M127.0 223.0h0.95M128.3 222.8h0.95M129.6 217.8h0.95M127.8 224.4h0.95M129.3 224.3h0.95M130.0 223.5h0.95M128.8 222.0h0.95M128.8 223.6h0.95M128.5 224.0h0.95M131.9 218.7h0.95M129.2 222.7h0.95M132.2 224.1h0.95M129.6 217.6h0.95M130.8 220.2h0.95M129.7 222.4h0.95M127.2 223.9h0.95M130.9 222.8h0.95M130.4 222.3h0.95M127.2 220.4h0.95M130.7 220.8h0.95M129.5 222.4h0.95M129.6 222.1h0.95M130.2 221.5h0.95M127.7 220.9h0.95M130.9 220.0h0.95M130.2 222.2h0.95M128.0 215.1h0.95M129.4 219.7h0.95M128.4 223.6h0.95M128.2 222.3h0.95M129.6 222.0h0.95M132.6 217.0h0.95M130.9 221.2h0.95M129.0 220.0h0.95M129.5 221.6h0.95M128.0 225.2h0.95M128.2 221.2h0.95M127.4 221.8h0.95M130.0 224.0h0.95M131.0 220.4h0.95M132.0 221.3h0.95M131.9 225.4h0.95M128.8 219.1h0.95M130.3 224.8h0.95M130.1 224.0h0.95M130.4 223.5h0.95M131.5 220.8h0.95M127.2 221.2h0.95M128.2 218.8h0.95M129.2 223.1h0.95M126.5 218.1h0.95M130.7 219.5h0.95M128.8 224.6h0.95M131.2 222.3h0.95M130.3 215.4h0.95M130.3 222.4h0.95M127.2 221.9h0.95M130.1 221.2h0.95M130.7 223.5h0.95M129.5 220.9h0.95M127.6 224.1h0.95M128.5 222.2h0.95M131.8 223.3h0.95M127.4 221.3h0.95M128.3 217.8h0.95M128.2 222.8h0.95M130.0 221.0h0.95M129.7 218.9h0.95M128.2 221.1h0.95M130.7 220.8h0.95M129.2 222.3h0.95M131.7 218.7h0.95M130.3 221.9h0.95M129.3 222.1h0.95M126.3 221.6h0.95M129.0 218.7h0.95M130.8 221.2h0.95M128.9 223.2h0.95M128.0 219.9h0.95M130.7 223.5h0.95M132.6 220.5h0.95M127.1 218.1h0.95M127.5 221.7h0.95M129.0 220.0h0.95M127.8 219.9h0.95M128.8 224.2h0.95M130.4 224.6h0.95M130.7 223.2h0.95M131.3 222.5h0.95M131.8 224.1h0.95M132.3 222.0h0.95M128.2 227.2h0.95M129.0 222.7h0.95M128.8 219.9h0.95M130.1 219.0h0.95M129.2 224.7h0.95M129.6 223.4h0.95M130.4 222.4h0.95M129.6 222.9h0.95M127.9 222.8h0.95M127.7 219.8h0.95M128.5 218.5h0.95M126.3 222.4h0.95M130.2 223.0h0.95M132.9 221.9h0.95M130.6 219.8h0.95M130.5 218.9h0.95M132.5 219.3h0.95M128.8 223.2h0.95M125.9 224.5h0.95M127.9 222.0h0.95M131.0 221.9h0.95M130.9 220.4h0.95M130.3 216.6h0.95M131.8 220.0h0.95M128.0 221.5h0.95M132.1 219.9h0.95M129.4 220.7h0.95M127.9 218.6h0.95M130.3 223.1h0.95M128.2 222.0h0.95M130.1 222.4h0.95M129.1 221.6h0.95M129.8 219.1h0.95M129.2 223.3h0.95M128.5 224.5h0.95M129.0 219.0h0.95M128.9 218.4h0.95M130.4 217.9h0.95M129.4 221.0h0.95M128.9 222.5h0.95M129.9 220.2h0.95M130.7 220.5h0.95M130.8 224.5h0.95M130.0 223.6h0.95M127.3 222.8h0.95M127.1 221.1h0.95M130.5 215.4h0.95M128.2 219.8h0.95M127.9 221.6h0.95M130.4 218.9h0.95M128.4 217.3h0.95M128.3 216.8h0.95M127.0 222.6h0.95M130.8 219.7h0.95M130.0 219.7h0.95M131.1 225.5h0.95M125.5 219.5h0.95M128.4 220.4h0.95M131.9 225.1h0.95M129.4 222.9h0.95M126.9 220.8h0.95M129.0 221.2h0.95M129.9 218.0h0.95M127.8 226.3h0.95M126.7 221.6h0.95M130.6 222.6h0.95M129.5 217.9h0.95M128.7 218.0h0.95M124.8 226.1h0.95M124.9 217.8h0.95M127.5 221.2h0.95M125.5 220.3h0.95M125.9 219.0h0.95M127.9 216.0h0.95M132.5 214.9h0.95M126.5 226.6h0.95M128.6 227.3h0.95M127.6 221.5h0.95M129.8 220.0h0.95M134.4 219.9h0.95M132.5 221.3h0.95M128.0 225.9h0.95M133.7 214.7h0.95M130.5 224.7h0.95M129.6 220.0h0.95M131.7 216.6h0.95M129.2 217.2h0.95M133.1 225.1h0.95M128.5 225.1h0.95M129.9 223.3h0.95M126.9 224.9h0.95M131.0 228.0h0.95M127.1 219.9h0.95M132.3 218.0h0.95M132.2 226.0h0.95M126.2 224.3h0.95M127.4 218.2h0.95M128.0 225.0h0.95M130.9 219.7h0.95M131.3 225.5h0.95M126.5 226.2h0.95M129.7 223.1h0.95M133.1 217.4h0.95M129.2 224.1h0.95M124.7 219.8h0.95M129.9 220.6h0.95M129.5 225.8h0.95M125.6 224.2h0.95M127.3 215.6h0.95M129.1 216.2h0.95M129.1 216.8h0.95M128.9 216.3h0.95M134.5 217.3h0.95M128.9 222.7h0.95M131.2 216.2h0.95M133.0 219.5h0.95M125.3 220.3h0.95M130.7 219.4h0.95M131.8 218.7h0.95M132.7 227.1h0.95M132.7 215.3h0.95M128.7 221.7h0.95M128.3 217.0h0.95M130.4 216.1h0.95M126.2 220.1h0.95M134.5 219.7h0.95M134.2 223.6h0.95M131.0 226.8h0.95M130.3 224.5h0.95M129.2 225.2h0.95M133.3 214.5h0.95M133.8 214.9h0.95M130.9 215.5h0.95M132.1 220.3h0.95M125.9 225.9h0.95M127.0 226.7h0.95M128.3 222.0h0.95M129.0 224.8h0.95M128.0 221.4h0.95M126.8 219.1h0.95M125.6 218.0h0.95M127.3 223.8h0.95M126.0 216.6h0.95M134.2 223.2h0.95M125.4 226.2h0.95M132.1 222.7h0.95M134.1 221.7h0.95M125.9 214.7h0.95M125.4 220.8h0.95M130.0 225.8h0.95M125.2 215.5h0.95M125.5 219.4h0.95M133.9 225.0h0.95M124.9 222.5h0.95M126.3 217.5h0.95M127.7 217.8h0.95M127.5 217.5h0.95M127.9 222.5h0.95M130.1 224.3h0.95M127.3 214.9h0.95M130.2 218.7h0.95M126.6 220.0h0.95M134.0 222.6h0.95M131.7 215.1h0.95M129.9 223.9h0.95M133.1 224.8h0.95M125.0 227.8h0.95M124.7 224.9h0.95M129.2 227.0h0.95M134.0 224.6h0.95M125.3 223.2h0.95M125.7 220.2h0.95M125.8 218.6h0.95M125.0 221.8h0.95M125.4 217.8h0.95M132.3 218.5h0.95M130.3 226.2h0.95M130.9 225.6h0.95M133.8 217.8h0.95M126.4 227.9h0.95M133.7 218.8h0.95M133.8 215.7h0.95M126.8 226.2h0.95M125.5 226.1h0.95M126.7 224.9h0.95M125.8 221.3h0.95M130.2 222.0h0.95M133.1 215.0h0.95M131.6 226.0h0.95M129.7 217.7h0.95M132.5 220.3h0.95M127.1 224.9h0.95M132.1 225.6h0.95M129.4 214.7h0.95M124.7 222.0h0.95M124.9 222.9h0.95M125.8 225.0h0.95M124.7 223.8h0.95M126.7 228.0h0.95M129.2 221.5h0.95M133.0 218.3h0.95M134.2 218.5h0.95M124.9 218.3h0.95M128.2 222.6h0.95M125.2 226.7h0.95M132.3 224.6h0.95M134.4 215.2h0.95M131.4 226.1h0.95M126.3 220.1h0.95M126.5 227.0h0.95M129.2 225.7h0.95M127.0 222.6h0.95M132.0 219.1h0.95M127.2 215.6h0.95M130.8 220.0h0.95M126.5 218.8h0.95M127.7 216.2h0.95M130.4 216.6h0.95M126.7 219.4h0.95M134.4 224.1h0.95M126.6 225.9h0.95M133.9 219.0h0.95M132.5 223.0h0.95M130.0 226.7h0.95M131.2 223.2h0.95M133.9 220.7h0.95M125.5 214.6h0.95M131.7 220.8h0.95M131.7 196.7h0.95M128.8 207.9h0.95M128.5 204.6h0.95M129.3 206.0h0.95M128.3 209.5h0.95M129.6 211.3h0.95M129.0 196.7h0.95M126.4 202.9h0.95M129.5 198.2h0.95M128.0 210.2h0.95M129.3 202.0h0.95M128.7 205.5h0.95M128.2 203.7h0.95M127.9 206.0h0.95M131.1 211.1h0.95M127.0 214.7h0.95M128.6 199.2h0.95M126.6 205.6h0.95M129.2 202.3h0.95M127.6 204.1h0.95M129.2 207.9h0.95M129.6 195.1h0.95M128.0 206.1h0.95M129.4 208.4h0.95M126.6 211.6h0.95M127.1 204.2h0.95M128.1 203.0h0.95M127.7 208.4h0.95M130.0 206.5h0.95M127.0 202.4h0.95M128.7 206.7h0.95M128.0 203.9h0.95M132.7 205.3h0.95M128.4 194.7h0.95M127.7 211.9h0.95M130.1 200.0h0.95M130.0 205.7h0.95M127.7 208.4h0.95M127.9 203.8h0.95M128.9 205.9h0.95M128.2 206.3h0.95M128.8 205.8h0.95M129.4 202.4h0.95M126.8 204.7h0.95M130.6 206.4h0.95M129.2 201.9h0.95M127.2 199.8h0.95M127.5 203.5h0.95M126.6 204.5h0.95M126.5 207.8h0.95M128.8 197.7h0.95M128.0 206.0h0.95M129.4 208.3h0.95M128.3 204.4h0.95M128.5 207.3h0.95M127.8 204.4h0.95M129.0 203.6h0.95M127.3 210.7h0.95M129.6 201.2h0.95M131.7 201.8h0.95M127.6 203.5h0.95M129.6 211.3h0.95M130.8 207.3h0.95M128.9 207.8h0.95M127.7 202.1h0.95M129.6 205.9h0.95M129.2 200.8h0.95M129.2 199.0h0.95M130.2 205.1h0.95M127.9 203.1h0.95M132.9 218.1h0.95M127.8 210.8h0.95M124.6 209.7h0.95M128.9 206.1h0.95M127.4 199.5h0.95M129.2 203.2h0.95M129.6 209.5h0.95M128.7 207.3h0.95M129.1 206.0h0.95M128.1 206.0h0.95M129.5 205.4h0.95M128.2 198.9h0.95M127.3 211.6h0.95M130.3 206.3h0.95M129.3 204.4h0.95M132.9 205.1h0.95M130.4 201.7h0.95M133.6 191.8h0.95M128.5 197.1h0.95M127.9 197.7h0.95M128.8 198.0h0.95M132.3 193.9h0.95M131.3 207.3h0.95M131.6 193.6h0.95M129.4 206.2h0.95M130.3 196.8h0.95M133.2 196.3h0.95M128.0 203.3h0.95M131.1 196.6h0.95M132.3 205.8h0.95M134.0 200.6h0.95M132.3 202.6h0.95M127.0 208.8h0.95M129.3 197.1h0.95M128.8 195.0h0.95M134.0 200.1h0.95M129.5 190.5h0.95M131.5 199.8h0.95M128.3 199.5h0.95M126.1 203.4h0.95M127.8 202.7h0.95" stroke="#000" stroke-width="0.95" fill="none"/>
<path d="M147.2 222.5h0.95M141.6 207.8h0.95M126.2 201.3h0.95M129.1 218.4h0.95M144.4 190.9h0.95M141.5 222.8h0.95M150.1 201.3h0.95M134.7 207.9h0.95" stroke="#999" stroke-width="0.95" fill="none"/>
<path d="M49.0 286.3h0.95M55.9 274.2h0.95M54.4 281.0h0.95M55.2 279.7h0.95M53.3 286.4h0.95M52.5 282.6h0.95M54.7 280.6h0.95M55.1 283.0h0.95M55.1 274.6h0.95M51.6 282.2h0.95M55.7 286.5h0.95M53.6 278.2h0.95M51.5 273.6h0.95M52.6 283.2h0.95M53.4 275.4h0.95M53.4 281.2h0.95M52.2 286.6h0.95M54.3 285.2h0.95M53.7 277.3h0.95M55.5 285.3h0.95M52.5 276.0h0.95M55.0 278.9h0.95M51.4 280.7h0.95M54.5 278.2h0.95M53.6 284.8h0.95M54.9 275.1h0.95M54.8 287.8h0.95M55.2 280.7h0.95M54.2 275.0h0.95M52.5 279.1h0.95M57.3 281.0h0.95M51.8 287.5h0.95M55.8 274.7h0.95M53.2 274.6h0.95M55.4 272.4h0.95M56.9 277.0h0.95M51.6 289.1h0.95M54.5 282.4h0.95M55.1 277.3h0.95M55.1 280.0h0.95M54.5 281.9h0.95M56.1 276.1h0.95M51.0 283.5h0.95M57.8 283.1h0.95M53.2 283.6h0.95M51.3 281.4h0.95M50.5 281.5h0.95M54.9 287.5h0.95M52.6 284.6h0.95M56.0 277.0h0.95M53.0 274.0h0.95M51.9 282.7h0.95M49.8 279.9h0.95M54.9 286.5h0.95M49.0 282.5h0.95M52.4 272.2h0.95M51.7 283.3h0.95M53.5 283.7h0.95M53.0 283.6h0.95M51.8 277.3h0.95M53.2 274.4h0.95M55.8 280.1h0.95M51.8 277.7h0.95M51.8 281.5h0.95M52.9 284.3h0.95M51.4 280.8h0.95M50.8 279.3h0.95M56.0 280.6h0.95M55.2 280.8h0.95M51.6 277.7h0.95M51.5 282.3h0.95M56.6 284.3h0.95M51.8 281.5h0.95M51.9 290.0h0.95M52.2 285.5h0.95M51.1 284.0h0.95M51.3 279.3h0.95M53.8 281.6h0.95M53.4 280.8h0.95M52.0 280.6h0.95M53.4 277.5h0.95M54.6 281.7h0.95M52.2 286.0h0.95M52.5 273.7h0.95M55.8 279.6h0.95M56.2 282.7h0.95M51.9 285.3h0.95M54.4 284.6h0.95M53.6 287.0h0.95M55.2 279.8h0.95M50.8 280.9h0.95M53.7 277.2h0.95M53.2 286.8h0.95M52.7 285.4h0.95M51.8 277.3h0.95M55.2 280.4h0.95M53.9 285.0h0.95M56.5 276.3h0.95M54.6 281.9h0.95M53.8 287.9h0.95M53.1 278.8h0.95M54.4 273.2h0.95M54.2 277.6h0.95M54.1 278.2h0.95M54.5 280.1h0.95M52.2 283.1h0.95M54.9 274.9h0.95M51.2 280.0h0.95M52.8 286.1h0.95M56.4 282.9h0.95M55.5 279.8h0.95M51.0 282.2h0.95M50.3 287.3h0.95M54.0 285.5h0.95M52.4 274.8h0.95M53.2 282.9h0.95M53.1 279.1h0.95M53.7 280.3h0.95M56.1 276.0h0.95M49.5 280.7h0.95M54.0 275.1h0.95M53.5 282.7h0.95M54.1 282.2h0.95M52.2 275.5h0.95M55.3 279.7h0.95M51.0 287.0h0.95M54.9 270.2h0.95M58.2 281.6h0.95M50.6 284.7h0.95M54.1 285.8h0.95M53.5 274.6h0.95M53.2 279.4h0.95M54.0 280.3h0.95M54.5 276.3h0.95M52.5 279.0h0.95M54.3 274.4h0.95M53.5 290.2h0.95M50.2 285.0h0.95M53.7 284.8h0.95M53.6 282.0h0.95M54.2 282.8h0.95M51.3 280.5h0.95M56.8 286.5h0.95M52.0 277.4h0.95M53.2 285.1h0.95M55.2 278.8h0.95M49.2 280.8h0.95M50.5 285.6h0.95M56.2 283.6h0.95M54.6 283.2h0.95M56.9 285.2h0.95M56.1 276.6h0.95M52.6 281.0h0.95M49.5 279.9h0.95M53.5 280.8h0.95M58.1 280.2h0.95M53.2 280.6h0.95M52.9 275.5h0.95M55.6 281.1h0.95M54.2 281.2h0.95M52.1 274.9h0.95M53.0 283.1h0.95M53.3 283.8h0.95M52.1 279.9h0.95M53.8 280.6h0.95M53.8 286.6h0.95M52.8 281.5h0.95M52.3 283.1h0.95M53.9 278.2h0.95M51.7 276.4h0.95M53.0 281.6h0.95M52.6 280.6h0.95M53.8 290.1h0.95M55.7 290.0h0.95M53.8 281.9h0.95M57.1 282.5h0.95M54.7 279.1h0.95M52.5 284.0h0.95M52.4 278.5h0.95M50.8 282.2h0.95M53.3 283.1h0.95M51.9 276.2h0.95M55.5 281.1h0.95M54.9 276.6h0.95M51.1 271.2h0.95M54.1 284.8h0.95M55.9 287.9h0.95M50.2 276.8h0.95M52.5 278.0h0.95M53.1 277.9h0.95M50.8 280.8h0.95M53.7 278.0h0.95M53.6 276.0h0.95M52.9 279.7h0.95M52.7 280.7h0.95M51.2 275.8h0.95M52.0 283.8h0.95M51.8 277.4h0.95M57.1 280.0h0.95M52.8 277.6h0.95M56.2 283.0h0.95M54.0 287.2h0.95M51.3 274.5h0.95M55.5 282.7h0.95M52.6 284.1h0.95M53.3 288.6h0.95M51.2 282.4h0.95M55.3 284.4h0.95M52.8 279.5h0.95M52.7 283.7h0.95M52.8 280.5h0.95M55.4 280.6h0.95M53.9 280.5h0.95M53.5 272.4h0.95M51.8 282.4h0.95M52.3 278.6h0.95M53.6 289.9h0.95M52.1 277.3h0.95M50.2 282.8h0.95M53.4 277.8h0.95M52.8 284.8h0.95M55.4 282.4h0.95M55.6 284.9h0.95M52.7 284.1h0.95M53.8 284.0h0.95M54.0 289.3h0.95M51.2 282.4h0.95M51.5 290.0h0.95M52.6 279.6h0.95M53.5 280.8h0.95M56.6 280.8h0.95M54.0 285.1h0.95M56.3 277.3h0.95M54.1 275.9h0.95M54.4 286.5h0.95M52.5 279.9h0.95M55.7 282.7h0.95M55.0 279.2h0.95M52.9 279.6h0.95M56.4 275.2h0.95M52.6 287.1h0.95M53.4 276.8h0.95M53.9 280.2h0.95M53.3 282.9h0.95M54.9 275.2h0.95M53.9 286.8h0.95M51.0 280.6h0.95M51.4 283.6h0.95M52.0 279.7h0.95M52.7 282.8h0.95M51.1 275.6h0.95M53.8 286.3h0.95M52.6 282.6h0.95M54.0 281.4h0.95M53.5 278.9h0.95M53.0 285.7h0.95M54.3 286.0h0.95M52.2 281.5h0.95M52.3 275.9h0.95M55.1 279.9h0.95M53.9 275.5h0.95M53.0 280.5h0.95M52.8 285.0h0.95M54.3 281.5h0.95M53.9 279.3h0.95M52.2 279.9h0.95M51.6 280.3h0.95M53.3 285.4h0.95M52.5 281.5h0.95M53.4 278.6h0.95M53.4 274.1h0.95M55.5 278.7h0.95M53.4 273.9h0.95M54.5 276.0h0.95M56.0 276.9h0.95M52.2 283.6h0.95M55.8 273.3h0.95M50.4 287.3h0.95M54.3 275.1h0.95M52.7 283.7h0.95M52.8 286.9h0.95M52.2 281.7h0.95M55.6 286.8h0.95M53.9 283.3h0.95M52.9 280.7h0.95M52.4 282.5h0.95M55.0 277.1h0.95M51.4 281.2h0.95M57.1 281.9h0.95M53.7 280.8h0.95M50.4 278.2h0.95M56.2 272.8h0.95M56.8 276.3h0.95M56.2 280.5h0.95M54.6 278.8h0.95M52.7 281.8h0.95M52.9 276.7h0.95M53.0 283.5h0.95M52.1 282.4h0.95M51.0 281.4h0.95M51.4 284.0h0.95M51.6 283.4h0.95M49.9 281.7h0.95M55.5 277.7h0.95M53.6 277.6h0.95M54.4 284.0h0.95M55.6 286.2h0.95M55.9 278.1h0.95M53.7 283.1h0.95M53.8 275.8h0.95M53.6 270.7h0.95M56.8 280.3h0.95M57.6 276.9h0.95M54.4 284.1h0.95M50.9 279.7h0.95M54.4 283.6h0.95M54.2 270.7h0.95M49.1 282.4h0.95M56.4 274.9h0.95M54.2 284.7h0.95M51.7 274.7h0.95M54.0 279.2h0.95M53.3 280.2h0.95M53.3 282.2h0.95M52.5 280.9h0.95M52.5 277.5h0.95M54.1 277.7h0.95M54.5 280.9h0.95M55.4 283.3h0.95M49.8 280.9h0.95M54.7 281.4h0.95M53.6 285.3h0.95M54.7 275.7h0.95M53.7 284.9h0.95M53.8 275.9h0.95M54.9 283.4h0.95M55.6 281.7h0.95M53.7 284.4h0.95M51.5 287.8h0.95M54.2 281.9h0.95M54.9 284.1h0.95M49.5 284.7h0.95M53.3 277.9h0.95M55.1 284.7h0.95M54.2 278.5h0.95M53.7 277.2h0.95M58.1 278.4h0.95M55.1 287.4h0.95M51.9 278.9h0.95M49.4 280.0h0.95M51.1 281.6h0.95M53.1 281.0h0.95M53.5 279.1h0.95M53.7 280.7h0.95M52.2 279.7h0.95M52.4 275.9h0.95M53.4 273.6h0.95M54.4 280.8h0.95M53.8 285.6h0.95M55.2 279.2h0.95M54.1 285.7h0.95M53.2 282.5h0.95M54.2 276.9h0.95M54.0 279.4h0.95M53.0 282.7h0.95M54.7 277.4h0.95M53.0 280.2h0.95M51.7 282.5h0.95M53.1 278.2h0.95M55.2 280.7h0.95M51.4 280.6h0.95M53.1 282.1h0.95M57.6 283.2h0.95M56.1 280.3h0.95M54.3 283.0h0.95M53.3 282.0h0.95M52.7 283.7h0.95M51.8 287.8h0.95M53.2 282.4h0.95M53.7 274.6h0.95M54.3 277.5h0.95M53.8 279.3h0.95M53.0 275.0h0.95M51.1 278.8h0.95M51.5 282.0h0.95M50.9 281.8h0.95M54.5 278.0h0.95M51.7 279.6h0.95M54.9 286.5h0.95M57.4 281.3h0.95M54.6 281.7h0.95M53.4 276.7h0.95M52.8 285.4h0.95M56.0 278.6h0.95M50.5 288.5h0.95M53.5 282.8h0.95M53.2 273.8h0.95M54.0 277.1h0.95M53.0 278.5h0.95M56.2 273.2h0.95M50.7 279.0h0.95M52.3 284.1h0.95M56.3 278.1h0.95M54.5 280.2h0.95M49.9 285.6h0.95M56.6 277.7h0.95M54.6 278.9h0.95M53.3 279.2h0.95M53.2 281.2h0.95M52.4 282.1h0.95M51.1 284.2h0.95M51.7 273.6h0.95M55.0 279.6h0.95M52.5 284.6h0.95M53.4 288.7h0.95M54.2 275.3h0.95M52.6 278.3h0.95M52.9 287.7h0.95M58.4 287.8h0.95M54.3 283.2h0.95M53.8 272.2h0.95M56.0 288.9h0.95M52.5 280.9h0.95M52.2 280.2h0.95M51.9 276.5h0.95M55.7 273.3h0.95M55.3 276.4h0.95M53.0 273.0h0.95M54.7 277.0h0.95M58.0 277.3h0.95M53.9 283.6h0.95M51.7 277.7h0.95M51.5 283.2h0.95M54.0 285.0h0.95M50.9 277.3h0.95M53.3 279.2h0.95M54.0 285.4h0.95M53.7 277.8h0.95M53.4 278.1h0.95M52.3 288.4h0.95M54.7 288.2h0.95M53.1 280.7h0.95M51.2 281.9h0.95M54.8 283.7h0.95M51.4 281.4h0.95M55.2 279.1h0.95M54.8 279.0h0.95M53.5 278.7h0.95M50.8 277.7h0.95M53.8 279.8h0.95M53.5 278.7h0.95M55.1 280.3h0.95M54.2 279.1h0.95M55.9 280.6h0.95M54.3 289.7h0.95M54.3 274.8h0.95M52.3 282.3h0.95M51.1 275.1h0.95M53.3 274.7h0.95M55.5 282.7h0.95M53.1 285.1h0.95M52.6 278.0h0.95M54.6 281.5h0.95M53.2 284.6h0.95M53.3 283.4h0.95M53.8 284.9h0.95M54.2 280.1h0.95M55.4 280.4h0.95M55.6 277.7h0.95M53.6 274.8h0.95M54.1 285.5h0.95M53.0 282.9h0.95M53.2 285.8h0.95M53.9 282.5h0.95M54.9 277.0h0.95M54.4 281.9h0.95M55.1 281.6h0.95M54.2 281.3h0.95M52.3 280.0h0.95M53.3 277.5h0.95M53.4 280.1h0.95M55.8 280.8h0.95M53.6 281.8h0.95M54.4 276.7h0.95M51.3 286.2h0.95M52.4 278.8h0.95M54.9 282.4h0.95M52.5 283.7h0.95M52.1 286.3h0.95M53.1 282.5h0.95M53.5 287.2h0.95M52.3 281.2h0.95M56.2 275.4h0.95M52.9 282.3h0.95M53.2 282.8h0.95M54.9 278.1h0.95M52.7 285.4h0.95M55.9 273.5h0.95M54.2 284.5h0.95M52.7 278.9h0.95M52.1 280.9h0.95M52.1 283.6h0.95M52.6 283.0h0.95M51.5 284.1h0.95M54.3 284.3h0.95M53.8 288.3h0.95M54.7 281.6h0.95M55.5 280.4h0.95M53.7 286.4h0.95M52.9 281.5h0.95M53.8 282.0h0.95M53.2 284.5h0.95M56.2 280.4h0.95M51.7 280.1h0.95M51.8 277.7h0.95M52.2 284.7h0.95M53.7 283.6h0.95M53.4 284.5h0.95M53.0 285.4h0.95M54.6 282.2h0.95M51.7 278.2h0.95M53.8 278.4h0.95M53.3 281.0h0.95M55.2 279.5h0.95M53.7 280.1h0.95M52.6 282.8h0.95M54.7 277.3h0.95M55.4 288.1h0.95M53.7 283.0h0.95M52.2 280.3h0.95M53.9 281.2h0.95M55.2 278.9h0.95M53.2 283.1h0.95M53.4 280.8h0.95M53.4 282.7h0.95M51.1 289.2h0.95M54.4 278.4h0.95M52.4 278.1h0.95M54.0 276.0h0.95M56.6 279.9h0.95M51.8 287.6h0.95M53.5 283.0h0.95M53.3 280.7h0.95M56.1 275.7h0.95M53.8 279.3h0.95M53.1 281.3h0.95M51.2 283.3h0.95M53.8 283.2h0.95M52.8 283.7h0.95M52.9 283.8h0.95M55.2 283.4h0.95M51.7 281.7h0.95M52.2 287.3h0.95M53.8 277.7h0.95M51.6 285.4h0.95M52.3 282.7h0.95M53.1 281.1h0.95M53.0 281.5h0.95M55.5 278.9h0.95M54.1 282.9h0.95M52.7 278.3h0.95M52.4 283.2h0.95M53.7 284.5h0.95M54.0 281.9h0.95M53.5 282.2h0.95M53.6 283.5h0.95M52.4 284.7h0.95M55.5 281.2h0.95M54.2 278.0h0.95M53.6 277.3h0.95M54.7 281.7h0.95M54.8 284.8h0.95M52.6 283.9h0.95M55.4 288.1h0.95M53.4 283.1h0.95M52.7 283.4h0.95M54.3 285.8h0.95M53.3 281.7h0.95M54.1 281.0h0.95M56.1 275.0h0.95M51.4 280.0h0.95M54.4 281.6h0.95M54.0 277.0h0.95M54.2 283.1h0.95M55.5 283.9h0.95M52.7 279.3h0.95M52.1 280.1h0.95M53.4 285.2h0.95M55.6 281.7h0.95M54.3 281.0h0.95M51.9 283.1h0.95M52.6 276.8h0.95M52.5 285.9h0.95M52.1 285.5h0.95M51.8 281.3h0.95M54.1 280.3h0.95M52.3 281.5h0.95M55.6 283.5h0.95M53.8 283.2h0.95M55.0 285.4h0.95M53.2 278.9h0.95M52.3 281.7h0.95M53.1 281.5h0.95M52.7 288.8h0.95M52.6 285.7h0.95M52.4 279.2h0.95M52.0 278.3h0.95M51.5 279.1h0.95M53.2 283.6h0.95M51.3 282.8h0.95M53.4 281.5h0.95M50.8 282.9h0.95M54.3 284.9h0.95M53.1 285.2h0.95M53.6 278.8h0.95M54.2 284.4h0.95M53.8 281.4h0.95M53.2 283.5h0.95M51.2 282.4h0.95M51.9 280.0h0.95M53.8 285.1h0.95M53.5 278.8h0.95M56.9 282.5h0.95M50.1 281.2h0.95M52.6 279.7h0.95M54.8 287.8h0.95M53.6 277.6h0.95M54.6 281.8h0.95M53.0 282.1h0.95M52.1 282.1h0.95M54.0 285.0h0.95M56.0 279.7h0.95M54.0 279.2h0.95M53.7 284.9h0.95M54.3 280.7h0.95M55.8 284.1h0.95M55.1 281.8h0.95M55.2 281.1h0.95M54.6 281.6h0.95M53.5 277.0h0.95M54.7 283.2h0.95M52.7 281.7h0.95M54.3 283.4h0.95M50.9 285.9h0.95M52.2 287.1h0.95M54.9 281.9h0.95M53.8 282.4h0.95M53.0 286.0h0.95M52.7 280.0h0.95M53.2 276.9h0.95M54.8 278.1h0.95M55.4 284.3h0.95M56.1 279.8h0.95M53.1 280.2h0.95M54.5 278.9h0.95M53.1 274.7h0.95M53.6 282.1h0.95M56.0 279.1h0.95M54.7 283.2h0.95M54.6 278.3h0.95M49.1 280.1h0.95M54.7 282.0h0.95M55.3 287.9h0.95M52.6 280.3h0.95M55.5 276.6h0.95M50.3 282.3h0.95M53.9 286.0h0.95M54.4 281.4h0.95M52.8 276.1h0.95M54.2 279.7h0.95M53.0 282.5h0.95M50.9 281.3h0.95M52.7 287.4h0.95M53.4 284.9h0.95M52.3 276.8h0.95M54.6 280.5h0.95M51.8 284.7h0.95M54.2 276.4h0.95M53.2 287.4h0.95M53.7 277.5h0.95M52.4 285.7h0.95M55.4 283.6h0.95M51.6 284.0h0.95M52.5 280.0h0.95M52.9 284.7h0.95M54.2 283.2h0.95M52.9 280.0h0.95M54.9 279.7h0.95M53.2 283.2h0.95M53.3 284.5h0.95M54.2 283.4h0.95M56.5 279.9h0.95M56.2 277.7h0.95M52.5 274.1h0.95M52.6 279.1h0.95M54.4 285.3h0.95M56.5 279.9h0.95M54.9 281.0h0.95M51.1 269.0h0.95M53.1 275.7h0.95M54.6 278.7h0.95M54.4 279.5h0.95M54.1 278.7h0.95M54.0 287.0h0.95M54.0 277.4h0.95M52.5 281.9h0.95M54.6 277.8h0.95M52.3 276.6h0.95M55.8 282.4h0.95M53.9 280.2h0.95M56.0 283.3h0.95M53.4 285.2h0.95M54.3 280.7h0.95M53.0 281.5h0.95M55.3 277.2h0.95M51.4 283.6h0.95M54.9 285.9h0.95M54.3 277.0h0.95M54.6 282.0h0.95M52.2 276.7h0.95M51.5 281.7h0.95M51.8 282.6h0.95M53.3 283.5h0.95M54.6 278.7h0.95M53.0 283.8h0.95M52.7 284.6h0.95M54.3 284.2h0.95M52.7 283.9h0.95M53.2 282.2h0.95M54.3 279.8h0.95M53.5 274.3h0.95M52.6 283.4h0.95M52.1 275.1h0.95M51.7 280.6h0.95M54.4 283.1h0.95M51.7 282.7h0.95M51.9 284.8h0.95M54.0 279.6h0.95M52.9 281.3h0.95M52.8 285.1h0.95M53.9 279.8h0.95M54.1 277.3h0.95M53.7 280.5h0.95M52.8 281.3h0.95M53.8 277.0h0.95M54.5 279.7h0.95M54.0 286.6h0.95M52.1 286.6h0.95M53.1 287.3h0.95M52.5 284.7h0.95M52.8 285.3h0.95M54.7 282.5h0.95M52.4 284.7h0.95M54.0 278.2h0.95M54.2 281.0h0.95M53.4 278.5h0.95M53.8 284.1h0.95M52.4 284.0h0.95M51.2 281.8h0.95M53.8 278.6h0.95M55.5 282.5h0.95M50.2 286.6h0.95M56.4 283.3h0.95M53.6 288.0h0.95M57.1 282.2h0.95M50.4 281.1h0.95M51.5 280.2h0.95M54.3 275.9h0.95M50.5 280.7h0.95M54.9 281.2h0.95M55.9 289.6h0.95M57.0 277.9h0.95M53.2 282.2h0.95M51.6 288.5h0.95M55.5 289.0h0.95M52.8 280.8h0.95M53.8 273.8h0.95M51.9 283.6h0.95M56.7 273.1h0.95M52.4 281.0h0.95M52.9 276.6h0.95M51.2 277.5h0.95M50.4 277.0h0.95M50.5 287.5h0.95M54.6 280.7h0.95M52.3 283.9h0.95M52.5 286.7h0.95M56.1 276.1h0.95M53.7 278.4h0.95M57.1 276.1h0.95M50.3 275.9h0.95M56.8 282.9h0.95M55.3 280.6h0.95M55.1 279.5h0.95M53.8 283.5h0.95M55.7 288.6h0.95M54.6 286.5h0.95M51.2 275.6h0.95M56.6 273.1h0.95M53.3 276.3h0.95M53.9 277.3h0.95M56.5 273.8h0.95M55.9 288.8h0.95M52.9 286.2h0.95M54.4 276.0h0.95M53.7 274.2h0.95M52.2 273.3h0.95M51.3 287.6h0.95M53.7 287.2h0.95M53.3 277.4h0.95M53.5 278.4h0.95M57.0 272.6h0.95M51.4 275.9h0.95M53.7 278.8h0.95M50.9 282.7h0.95M56.4 281.6h0.95M52.4 280.8h0.95M51.8 272.8h0.95M52.2 278.7h0.95M55.6 279.2h0.95M56.3 274.1h0.95M52.3 275.1h0.95M55.7 274.9h0.95M54.1 280.9h0.95M55.3 281.3h0.95M52.1 288.7h0.95M53.5 274.9h0.95M53.9 281.0h0.95M50.7 272.7h0.95M53.6 284.6h0.95M52.6 283.3h0.95M51.9 284.8h0.95M55.7 281.4h0.95M56.6 279.2h0.95M52.7 272.2h0.95M52.7 285.4h0.95M55.6 279.6h0.95M53.2 282.7h0.95M50.4 281.2h0.95M56.1 274.2h0.95M50.6 280.7h0.95M54.4 278.7h0.95M53.0 288.5h0.95M57.2 289.3h0.95M51.2 277.6h0.95M51.9 288.0h0.95M54.4 281.8h0.95M50.6 286.0h0.95M57.0 276.0h0.95M52.1 272.2h0.95M56.1 276.2h0.95M51.2 287.3h0.95M54.9 279.8h0.95M51.7 288.8h0.95M52.5 285.0h0.95M54.6 278.8h0.95M57.0 279.3h0.95M51.9 276.0h0.95M50.3 279.9h0.95M56.7 284.8h0.95M52.5 277.3h0.95M55.8 286.5h0.95M52.2 276.4h0.95M51.9 286.3h0.95M53.4 283.9h0.95M54.9 286.1h0.95M53.9 272.4h0.95M54.8 276.3h0.95M56.2 282.3h0.95M55.0 284.1h0.95M56.1 286.4h0.95M56.6 286.5h0.95M51.8 285.1h0.95M52.5 285.3h0.95M54.0 282.1h0.95M50.7 275.2h0.95M50.9 273.7h0.95M56.2 288.0h0.95M52.5 280.0h0.95M54.1 284.2h0.95M50.6 289.1h0.95M50.2 274.0h0.95M55.2 277.8h0.95M54.6 281.8h0.95M53.5 281.1h0.95M55.9 279.1h0.95M55.5 282.4h0.95M56.4 273.9h0.95M52.1 272.4h0.95M50.2 281.6h0.95M53.3 275.2h0.95M51.1 275.5h0.95M56.4 281.9h0.95M53.0 282.0h0.95M53.1 280.7h0.95M50.5 289.3h0.95M54.2 284.7h0.95M56.5 273.8h0.95M50.4 275.9h0.95M51.2 275.4h0.95M52.8 286.6h0.95M54.3 284.7h0.95M53.6 288.3h0.95M56.3 274.3h0.95M54.9 288.7h0.95M55.9 281.7h0.95M52.9 273.6h0.95M52.0 273.6h0.95M50.5 285.7h0.95M53.6 278.5h0.95M55.1 277.6h0.95M56.6 276.1h0.95M51.4 275.9h0.95M56.9 287.6h0.95M51.5 288.3h0.95M50.2 284.3h0.95M53.3 276.0h0.95M54.3 275.9h0.95M53.8 285.1h0.95M53.0 287.9h0.95M53.5 263.3h0.95M52.7 265.6h0.95M52.2 266.4h0.95M52.3 267.1h0.95M51.2 265.4h0.95M55.5 261.5h0.95M51.2 269.3h0.95M53.2 265.8h0.95M52.9 263.3h0.95M51.7 267.4h0.95M52.9 268.0h0.95M53.4 275.1h0.95M52.8 271.4h0.95M52.9 275.2h0.95M54.3 261.8h0.95M55.3 262.6h0.95M54.3 261.8h0.95M53.2 265.8h0.95M55.1 255.6h0.95M49.3 269.5h0.95M53.9 262.9h0.95M52.8 257.4h0.95M52.0 262.2h0.95M54.1 266.3h0.95M52.3 270.3h0.95M51.5 268.5h0.95M52.2 267.2h0.95M52.1 271.4h0.95M51.9 274.1h0.95M54.0 261.5h0.95M51.9 271.1h0.95M55.1 259.8h0.95M52.9 268.0h0.95M56.7 268.2h0.95M52.3 269.3h0.95M52.8 261.4h0.95M52.5 264.2h0.95M52.2 265.6h0.95M53.2 261.7h0.95M53.8 258.2h0.95M53.8 267.4h0.95M53.3 258.6h0.95M51.8 266.1h0.95M53.4 268.5h0.95M50.0 265.3h0.95M54.5 260.1h0.95M50.5 263.2h0.95M52.2 264.1h0.95M54.8 266.5h0.95M49.3 268.7h0.95M52.8 269.0h0.95M52.6 271.4h0.95M52.9 263.1h0.95M50.6 269.4h0.95M52.4 257.5h0.95M54.1 271.0h0.95M49.0 267.8h0.95M53.7 272.9h0.95M54.7 262.0h0.95M53.4 268.6h0.95M50.1 271.7h0.95M53.5 269.0h0.95M51.1 269.0h0.95M52.5 263.9h0.95M52.7 266.8h0.95M50.0 265.3h0.95M53.2 258.1h0.95M55.5 276.7h0.95M53.8 265.3h0.95M50.8 260.4h0.95M50.5 269.2h0.95M51.1 266.1h0.95M51.9 269.3h0.95M54.8 269.4h0.95M53.8 270.1h0.95M55.6 261.4h0.95M53.1 262.4h0.95M52.7 264.3h0.95M52.8 268.5h0.95M50.4 253.8h0.95M53.1 270.0h0.95M51.9 271.9h0.95M56.5 265.6h0.95M52.3 267.6h0.95M53.9 258.7h0.95M53.5 256.2h0.95M50.8 266.3h0.95M53.2 260.0h0.95M52.7 271.1h0.95M49.8 267.8h0.95M54.8 259.4h0.95M54.7 267.3h0.95M52.1 265.4h0.95M52.5 265.5h0.95M52.3 262.1h0.95M54.2 272.9h0.95M52.3 271.7h0.95M51.3 259.7h0.95M53.7 266.4h0.95M53.4 261.1h0.95M51.9 269.9h0.95M55.4 266.5h0.95M53.3 253.6h0.95M51.5 271.2h0.95M55.9 261.7h0.95M48.2 267.6h0.95M50.4 263.5h0.95M51.6 263.7h0.95M50.9 268.3h0.95M53.1 259.5h0.95M49.9 274.6h0.95M53.6 266.3h0.95M49.7 275.0h0.95M50.8 265.9h0.95M53.2 262.1h0.95M52.8 263.3h0.95M49.1 259.2h0.95M51.5 263.0h0.95M53.4 272.7h0.95M52.2 275.1h0.95M51.9 265.9h0.95M52.2 257.9h0.95M52.5 264.4h0.95M51.2 268.7h0.95M53.3 264.0h0.95M51.1 266.7h0.95M51.2 261.6h0.95M51.7 269.6h0.95M52.1 264.7h0.95M52.0 268.0h0.95M52.3 269.1h0.95M52.3 269.2h0.95M52.1 262.1h0.95M53.3 264.5h0.95M51.8 271.8h0.95M51.7 261.9h0.95M52.0 271.8h0.95M50.3 270.6h0.95M53.5 263.6h0.95M52.0 262.2h0.95M49.1 261.3h0.95M50.2 258.3h0.95M51.8 268.0h0.95M51.0 263.9h0.95M51.2 264.5h0.95M53.2 270.8h0.95M53.6 267.1h0.95M54.9 268.6h0.95M53.4 267.9h0.95M54.0 260.8h0.95M53.6 261.8h0.95M51.2 260.2h0.95M55.0 262.8h0.95M57.8 267.3h0.95M49.6 262.4h0.95M56.8 267.8h0.95M54.2 263.3h0.95M55.5 257.2h0.95M56.6 265.7h0.95M55.0 261.8h0.95M58.8 260.6h0.95M55.0 262.7h0.95M57.1 263.2h0.95M59.2 263.4h0.95M52.7 254.2h0.95M55.6 268.9h0.95M56.0 259.5h0.95M56.6 263.8h0.95M59.2 255.7h0.95M57.9 262.3h0.95M58.1 266.3h0.95M49.9 265.5h0.95M57.2 257.9h0.95M55.5 266.1h0.95M51.9 265.4h0.95M58.0 269.3h0.95M53.6 258.7h0.95M58.5 260.2h0.95M57.0 249.8h0.95M62.2 253.1h0.95M51.5 263.7h0.95M57.2 257.8h0.95M50.0 263.9h0.95M56.5 257.3h0.95M56.2 258.8h0.95M53.1 264.6h0.95M55.9 261.6h0.95M52.6 258.3h0.95M55.1 258.7h0.95M56.8 261.6h0.95M55.3 260.7h0.95M56.9 266.0h0.95" stroke="#000" stroke-width="0.95" fill="none"/>
<path d="M59.2 277.7h0.95M51.3 269.9h0.95M60.7 255.0h0.95M76.4 289.1h0.95M78.2 257.6h0.95M47.8 278.2h0.95M76.2 262.1h0.95M56.6 283.2h0.95" stroke="#999" stroke-width="0.95" fill="none"/>
<path d="M126.5 283.2h0.95M128.6 281.1h0.95M130.3 281.2h0.95M129.2 284.1h0.95M124.7 285.2h0.95M126.0 284.9h0.95M124.4 283.2h0.95M130.7 285.6h0.95M131.3 289.6h0.95M130.6 284.2h0.95M128.8 286.6h0.95M126.6 281.7h0.95M129.1 289.9h0.95M126.8 285.5h0.95M127.7 286.9h0.95M129.8 284.7h0.95M130.9 284.0h0.95M125.7 291.0h0.95M128.9 285.7h0.95M130.6 282.4h0.95M128.1 282.5h0.95M130.2 286.0h0.95M129.5 280.9h0.95M127.4 280.5h0.95M126.4 282.6h0.95M129.7 286.2h0.95M125.5 286.6h0.95M129.8 289.5h0.95M130.8 280.3h0.95M130.1 285.5h0.95M129.7 282.6h0.95M132.0 285.1h0.95M127.9 279.4h0.95M128.6 280.7h0.95M126.1 289.6h0.95M128.9 287.7h0.95M131.3 286.9h0.95M128.2 281.3h0.95M128.8 285.1h0.95M128.8 283.9h0.95M129.4 280.5h0.95M131.2 281.3h0.95M129.3 282.1h0.95M131.8 283.1h0.95M127.2 283.6h0.95M130.8 281.1h0.95M126.5 283.2h0.95M130.6 276.0h0.95M130.9 291.5h0.95M128.7 287.5h0.95M128.8 279.2h0.95M128.2 286.6h0.95M126.8 283.9h0.95M127.8 285.9h0.95M134.1 285.0h0.95M126.5 289.7h0.95M128.5 283.5h0.95M130.1 287.0h0.95M129.5 285.8h0.95M129.4 281.1h0.95M130.7 287.4h0.95M127.5 279.5h0.95M127.9 285.3h0.95M131.9 285.4h0.95M129.2 285.5h0.95M126.0 283.7h0.95M129.4 286.8h0.95M130.7 289.7h0.95M127.7 283.4h0.95M128.2 286.2h0.95M133.1 285.3h0.95M129.4 282.0h0.95M126.5 290.1h0.95M128.9 289.0h0.95M130.7 283.3h0.95M129.6 282.0h0.95M130.4 284.3h0.95M130.7 288.5h0.95M127.9 287.1h0.95M130.0 283.2h0.95M129.6 288.5h0.95M129.4 287.7h0.95M129.8 288.5h0.95M128.8 283.7h0.95M130.4 277.9h0.95M128.0 289.3h0.95M127.6 290.3h0.95M132.4 283.2h0.95M127.6 285.9h0.95M130.9 290.0h0.95M132.2 282.6h0.95M130.8 283.2h0.95M131.3 286.1h0.95M132.0 284.5h0.95M130.8 280.9h0.95M127.1 286.3h0.95M129.3 287.4h0.95M133.8 282.9h0.95M126.7 281.5h0.95M127.8 288.2h0.95M129.9 283.8h0.95M130.5 284.2h0.95M129.6 284.7h0.95M126.4 287.2h0.95M129.5 291.4h0.95M129.3 282.9h0.95M129.5 282.5h0.95M129.0 283.6h0.95M129.8 281.9h0.95M128.9 283.5h0.95M127.1 284.5h0.95M130.5 286.9h0.95M129.8 284.4h0.95M131.1 283.9h0.95M130.5 279.5h0.95M126.7 282.5h0.95M131.4 283.9h0.95M130.1 281.4h0.95M132.5 290.0h0.95M129.1 282.7h0.95M129.7 284.0h0.95M128.2 277.2h0.95M129.6 278.0h0.95M128.1 280.1h0.95M133.2 280.8h0.95M128.3 285.8h0.95M128.5 285.4h0.95M131.0 282.8h0.95M130.2 284.3h0.95M126.4 285.6h0.95M126.9 287.8h0.95M129.2 285.2h0.95M131.2 282.2h0.95M127.5 289.0h0.95M130.6 286.0h0.95M125.1 284.7h0.95M127.2 282.8h0.95M125.8 279.7h0.95M128.2 285.8h0.95M128.1 284.1h0.95M129.3 288.8h0.95M128.0 285.1h0.95M134.8 284.6h0.95M130.8 281.1h0.95M127.0 283.3h0.95M135.5 282.8h0.95M132.1 283.1h0.95M126.6 279.0h0.95M129.5 287.9h0.95M127.5 283.4h0.95M126.9 282.4h0.95M131.3 283.0h0.95M127.0 286.5h0.95M129.7 284.5h0.95M133.4 285.6h0.95M131.6 280.9h0.95M129.0 288.5h0.95M130.7 287.4h0.95M126.1 283.8h0.95M132.7 289.1h0.95M132.0 287.1h0.95M132.0 276.1h0.95M129.4 287.1h0.95M131.7 281.7h0.95M131.4 287.1h0.95M128.1 289.5h0.95M131.9 287.4h0.95M128.2 285.5h0.95M129.1 289.7h0.95M134.4 282.0h0.95M133.4 286.0h0.95M127.7 282.4h0.95M132.4 285.6h0.95M127.8 284.0h0.95M128.4 284.2h0.95M133.0 282.6h0.95M128.5 275.4h0.95M130.3 287.5h0.95M133.6 282.7h0.95M128.6 283.4h0.95M126.5 284.6h0.95M127.5 283.9h0.95M129.5 286.9h0.95M129.3 291.9h0.95M129.9 286.2h0.95M130.3 284.3h0.95M131.3 285.1h0.95M126.3 283.0h0.95M132.4 279.7h0.95M133.0 285.0h0.95M129.7 288.4h0.95M129.7 283.2h0.95M124.5 282.7h0.95M126.7 286.7h0.95M129.4 281.8h0.95M131.7 287.3h0.95M134.0 285.4h0.95M126.6 284.9h0.95M130.8 287.3h0.95M126.4 286.1h0.95M130.6 285.8h0.95M125.7 283.2h0.95M128.9 283.9h0.95M131.2 283.4h0.95M125.2 278.2h0.95M130.2 282.2h0.95M129.1 288.0h0.95M128.1 284.5h0.95M126.1 280.9h0.95M130.5 288.1h0.95M127.8 284.0h0.95M129.9 283.3h0.95M129.4 283.4h0.95M130.5 283.0h0.95M128.2 280.5h0.95M127.5 280.1h0.95M128.9 287.6h0.95M126.4 282.0h0.95M127.5 286.0h0.95M128.5 283.6h0.95M127.1 283.8h0.95M128.4 282.1h0.95M132.2 286.1h0.95M128.9 285.5h0.95M134.1 286.4h0.95M128.0 284.5h0.95M131.7 285.9h0.95M128.6 284.9h0.95M126.8 283.6h0.95M128.3 283.8h0.95M132.1 284.7h0.95M131.7 284.5h0.95M126.0 288.2h0.95M128.0 284.2h0.95M131.6 288.8h0.95M129.5 288.4h0.95M128.1 286.5h0.95M127.2 287.5h0.95M128.0 286.5h0.95M126.6 288.9h0.95M132.7 283.8h0.95M129.3 281.7h0.95M128.8 280.2h0.95M130.8 284.3h0.95M131.7 284.5h0.95M128.7 282.1h0.95M130.6 284.2h0.95M126.6 280.1h0.95M131.3 284.2h0.95M129.1 282.9h0.95M128.1 284.5h0.95M129.6 281.0h0.95M134.5 287.3h0.95M125.1 284.7h0.95M131.6 282.6h0.95M126.3 286.1h0.95M127.9 284.5h0.95M132.8 284.5h0.95M132.1 282.2h0.95M125.3 283.4h0.95M128.4 286.6h0.95M130.2 278.6h0.95M126.8 283.2h0.95M127.6 282.6h0.95M128.5 285.0h0.95M126.0 281.8h0.95M127.2 288.1h0.95M128.8 280.1h0.95M130.3 287.3h0.95M125.7 280.9h0.95M130.2 284.7h0.95M130.5 289.3h0.95M130.6 287.5h0.95M128.2 288.7h0.95M127.7 285.5h0.95M124.9 283.3h0.95M130.9 281.8h0.95M128.2 278.1h0.95M128.5 280.6h0.95M129.3 283.1h0.95M127.7 283.5h0.95M128.3 284.5h0.95M128.6 287.9h0.95M131.5 277.1h0.95M132.1 283.9h0.95M130.0 281.8h0.95M130.5 286.2h0.95M128.0 281.2h0.95M130.3 285.8h0.95M127.3 278.2h0.95M126.8 285.7h0.95M131.9 281.6h0.95M128.0 281.3h0.95M130.0 282.2h0.95M132.8 286.2h0.95M128.8 283.3h0.95M131.4 283.3h0.95M128.4 284.8h0.95M131.5 288.7h0.95M128.5 280.9h0.95M127.3 284.0h0.95M130.6 276.7h0.95M130.6 285.7h0.95M129.7 280.1h0.95M129.4 283.0h0.95M127.2 286.3h0.95M131.9 285.0h0.95M130.5 287.4h0.95M129.3 283.2h0.95M132.4 282.6h0.95M128.6 285.5h0.95M128.3 281.7h0.95M131.6 284.4h0.95M127.8 282.8h0.95M130.5 286.9h0.95M129.7 287.9h0.95M129.2 289.2h0.95M131.2 281.1h0.95M129.1 285.4h0.95M129.2 281.6h0.95M130.3 284.3h0.95M126.1 280.7h0.95M128.4 287.2h0.95M129.2 285.0h0.95M131.3 283.8h0.95M129.3 284.3h0.95M131.2 282.5h0.95M130.1 282.3h0.95M129.4 287.7h0.95M127.6 285.9h0.95M129.4 285.1h0.95M130.4 284.7h0.95M130.3 289.8h0.95M127.8 281.3h0.95M130.8 285.6h0.95M133.4 282.6h0.95M130.8 282.9h0.95M128.3 282.7h0.95M127.6 281.7h0.95M128.6 284.0h0.95M129.4 286.8h0.95M127.4 284.2h0.95M127.5 286.9h0.95M127.4 283.4h0.95M127.6 287.6h0.95M126.8 281.1h0.95M128.5 283.4h0.95M127.4 287.8h0.95M128.1 278.4h0.95M128.9 280.6h0.95M127.9 283.0h0.95M127.4 283.2h0.95M128.5 286.3h0.95M134.5 282.4h0.95M128.3 287.8h0.95M132.8 286.8h0.95M128.7 290.1h0.95M129.5 288.0h0.95M128.2 280.9h0.95M132.0 281.9h0.95M127.1 284.9h0.95M127.4 286.4h0.95M129.4 283.9h0.95M128.1 288.7h0.95M132.1 287.8h0.95M126.6 289.3h0.95M129.5 289.5h0.95M130.4 282.5h0.95M125.9 282.5h0.95M131.8 283.2h0.95M132.7 280.7h0.95M130.6 284.1h0.95M126.4 285.6h0.95M128.5 283.6h0.95M125.0 281.5h0.95M127.9 284.0h0.95M127.6 290.4h0.95M128.4 285.1h0.95M128.6 288.2h0.95M130.5 287.4h0.95M126.1 284.9h0.95M129.0 286.3h0.95M127.9 284.9h0.95M127.2 283.4h0.95M130.0 283.0h0.95M127.5 284.1h0.95M129.9 285.7h0.95M126.8 283.2h0.95M126.9 281.5h0.95M134.2 288.0h0.95M130.7 283.6h0.95M131.0 289.0h0.95M131.8 286.6h0.95M127.2 291.5h0.95M130.8 287.0h0.95M130.0 285.6h0.95M128.4 279.5h0.95M130.2 286.5h0.95M129.2 286.7h0.95M128.9 284.2h0.95M130.5 279.5h0.95M132.1 283.4h0.95M130.4 286.3h0.95M132.5 289.4h0.95M126.6 281.7h0.95M129.6 279.7h0.95M130.5 284.1h0.95M127.6 287.0h0.95M127.3 282.3h0.95M129.2 287.0h0.95M128.8 283.5h0.95M129.6 283.4h0.95M125.4 287.2h0.95M130.2 287.7h0.95M129.5 285.9h0.95M125.8 280.5h0.95M125.2 287.9h0.95M127.8 288.4h0.95M130.1 283.2h0.95M129.0 282.2h0.95M128.3 285.5h0.95M130.6 283.1h0.95M125.9 287.8h0.95M126.9 286.6h0.95M126.0 281.8h0.95M125.1 286.4h0.95M133.0 284.9h0.95M124.9 283.8h0.95M129.7 285.6h0.95M129.5 281.5h0.95M128.5 290.0h0.95M128.0 283.3h0.95M126.7 282.7h0.95M131.6 285.6h0.95M128.1 283.4h0.95M130.8 282.8h0.95M127.5 283.6h0.95M123.9 287.8h0.95M127.5 286.7h0.95M129.1 287.5h0.95M128.0 291.7h0.95M130.3 283.9h0.95M129.8 278.4h0.95M126.8 278.5h0.95M128.6 290.9h0.95M129.8 280.2h0.95M125.9 285.6h0.95M130.4 283.9h0.95M132.1 285.2h0.95M133.3 287.0h0.95M133.4 276.7h0.95M130.7 286.8h0.95M132.2 286.2h0.95M130.0 285.4h0.95M129.5 286.2h0.95M132.5 279.8h0.95M128.2 280.2h0.95M127.9 285.3h0.95M129.5 285.6h0.95M130.6 285.8h0.95M128.4 284.1h0.95M126.9 283.2h0.95M128.9 285.6h0.95M125.8 287.7h0.95M129.0 279.9h0.95M128.8 286.2h0.95M129.3 283.3h0.95M127.3 285.1h0.95M129.4 285.4h0.95M128.3 288.1h0.95M125.3 284.5h0.95M125.7 278.8h0.95M129.5 286.9h0.95M128.5 285.8h0.95M128.7 287.9h0.95M127.9 286.1h0.95M129.8 279.9h0.95M131.5 282.8h0.95M126.7 282.6h0.95M130.9 283.3h0.95M130.7 281.7h0.95M129.6 279.5h0.95M128.5 288.3h0.95M128.0 285.0h0.95M125.3 289.3h0.95M128.6 285.8h0.95M128.3 281.5h0.95M128.4 283.5h0.95M126.9 284.0h0.95M127.1 283.1h0.95M129.7 285.1h0.95M128.6 285.7h0.95M132.6 285.5h0.95M129.3 284.2h0.95M129.8 286.3h0.95M124.5 290.6h0.95M131.0 285.9h0.95M127.8 284.2h0.95M127.5 288.4h0.95M127.7 279.8h0.95M128.8 283.1h0.95M129.4 285.3h0.95M127.9 281.6h0.95M128.6 282.1h0.95M128.8 285.4h0.95M128.5 285.3h0.95M128.5 288.6h0.95M126.5 282.6h0.95M130.7 282.3h0.95M130.0 284.5h0.95M129.1 281.9h0.95M128.5 284.7h0.95M125.9 285.0h0.95M128.4 280.1h0.95M129.3 284.2h0.95M126.9 287.5h0.95M128.9 282.5h0.95M127.8 285.6h0.95M128.3 286.5h0.95M127.2 285.5h0.95M129.7 286.1h0.95M127.9 282.9h0.95M127.4 285.2h0.95M126.0 291.1h0.95M128.7 287.6h0.95M128.6 287.8h0.95M128.7 287.2h0.95M130.5 285.6h0.95M127.2 285.9h0.95M129.3 284.3h0.95M128.7 286.5h0.95M126.0 286.2h0.95M131.4 283.5h0.95M130.8 284.0h0.95M128.6 284.2h0.95M129.0 283.3h0.95M128.2 284.5h0.95M127.7 284.8h0.95M130.5 283.2h0.95M129.3 283.3h0.95M127.4 284.9h0.95M128.6 287.1h0.95M130.0 285.2h0.95M128.1 287.9h0.95M127.1 283.3h0.95M130.1 285.8h0.95M129.9 284.5h0.95M130.1 287.5h0.95M126.2 286.1h0.95M130.4 282.7h0.95M127.7 285.7h0.95M129.9 284.9h0.95M126.7 285.4h0.95M128.9 284.1h0.95M130.5 280.3h0.95M129.2 283.6h0.95M129.9 284.3h0.95M131.5 285.3h0.95M128.3 281.4h0.95M128.6 284.8h0.95M131.3 285.7h0.95M129.3 283.0h0.95M129.3 282.9h0.95M127.0 285.9h0.95M128.4 282.1h0.95M130.7 287.6h0.95M129.7 281.4h0.95M127.8 282.8h0.95M130.3 284.7h0.95M127.8 281.9h0.95M128.0 285.3h0.95M128.7 286.0h0.95M129.8 282.5h0.95M130.2 285.0h0.95M131.4 284.6h0.95M128.5 284.7h0.95M130.8 286.0h0.95M130.7 287.2h0.95M129.5 289.9h0.95M128.9 284.4h0.95M130.7 282.4h0.95M129.5 287.1h0.95M127.8 280.9h0.95M127.0 287.4h0.95M132.6 283.0h0.95M127.2 282.2h0.95M131.3 286.6h0.95M130.0 283.4h0.95M130.0 283.3h0.95M129.9 283.3h0.95M127.2 284.0h0.95M129.7 285.6h0.95M128.3 286.9h0.95M126.7 280.7h0.95M129.9 284.6h0.95M129.0 283.9h0.95M129.8 285.4h0.95M131.1 282.9h0.95M127.2 284.6h0.95M128.7 284.3h0.95M126.0 285.7h0.95M131.5 285.7h0.95M130.9 286.2h0.95M129.5 285.8h0.95M130.7 285.9h0.95M130.0 284.8h0.95M128.0 285.7h0.95M128.5 286.2h0.95M125.9 288.7h0.95M131.0 288.2h0.95M129.7 282.7h0.95M128.5 282.4h0.95M129.7 285.0h0.95M129.3 280.9h0.95M126.9 280.2h0.95M131.1 286.0h0.95M129.2 284.1h0.95M126.5 284.1h0.95M128.5 283.1h0.95M130.6 280.6h0.95M129.4 286.7h0.95M130.3 281.7h0.95M125.0 287.9h0.95M131.2 284.6h0.95M128.7 285.6h0.95M130.7 285.2h0.95M128.6 285.4h0.95M129.7 289.3h0.95M129.2 282.9h0.95M131.9 288.2h0.95M131.3 282.9h0.95M128.3 282.0h0.95M129.0 287.8h0.95M130.5 285.0h0.95M129.5 286.0h0.95M128.9 282.7h0.95M128.1 288.5h0.95M127.8 282.5h0.95M130.0 284.2h0.95M128.7 285.3h0.95M129.0 281.4h0.95M130.5 285.4h0.95M131.7 286.8h0.95M128.3 284.0h0.95M128.1 280.1h0.95M130.3 283.5h0.95M130.6 285.3h0.95M129.0 288.4h0.95M127.8 288.7h0.95M128.6 289.6h0.95M130.9 283.8h0.95M131.8 285.9h0.95M129.7 284.1h0.95M129.1 284.0h0.95M128.7 286.7h0.95M130.4 287.6h0.95M131.0 284.8h0.95M130.3 284.4h0.95M130.0 286.3h0.95M129.8 283.2h0.95M127.5 288.6h0.95M128.0 283.6h0.95M129.8 284.1h0.95M129.8 287.9h0.95M126.9 285.1h0.95M130.1 281.9h0.95M130.3 288.1h0.95M129.3 286.0h0.95M128.8 287.1h0.95M128.5 285.0h0.95M128.2 283.4h0.95M130.9 284.8h0.95M130.5 281.5h0.95M127.5 283.0h0.95M132.0 287.5h0.95M132.5 284.0h0.95M130.1 285.7h0.95M128.8 286.2h0.95M129.2 286.0h0.95M126.6 282.7h0.95M127.7 288.6h0.95M130.5 282.9h0.95M130.0 283.7h0.95M127.5 283.0h0.95M133.6 285.2h0.95M129.1 287.7h0.95M129.6 282.6h0.95M132.4 289.7h0.95M130.4 283.1h0.95M129.1 285.2h0.95M127.6 290.7h0.95M129.2 283.8h0.95M128.8 284.3h0.95M125.5 285.3h0.95M130.9 285.4h0.95M129.9 284.8h0.95M126.6 286.2h0.95M130.2 282.7h0.95M127.5 283.7h0.95M127.3 279.6h0.95M128.6 283.7h0.95M129.4 287.5h0.95M127.9 281.6h0.95M129.1 286.4h0.95M131.3 287.0h0.95M129.4 285.1h0.95M126.7 286.4h0.95M130.4 284.8h0.95M128.8 285.9h0.95M129.9 286.1h0.95M129.8 281.7h0.95M128.4 281.4h0.95M130.4 290.5h0.95M128.0 284.7h0.95M129.6 283.4h0.95M131.7 285.4h0.95M132.4 289.9h0.95M129.9 283.3h0.95M131.2 284.4h0.95M128.0 284.5h0.95M130.9 283.2h0.95M128.9 286.8h0.95M128.8 286.9h0.95M131.0 283.9h0.95M127.5 282.4h0.95M131.1 286.1h0.95M129.3 284.1h0.95M130.8 283.9h0.95M133.2 285.6h0.95M126.8 287.2h0.95M129.6 284.9h0.95M128.9 287.5h0.95M128.5 288.3h0.95M128.1 286.9h0.95M127.0 287.0h0.95M127.8 284.4h0.95M130.3 283.3h0.95M130.0 284.9h0.95M131.1 286.9h0.95M129.6 284.5h0.95M127.9 288.0h0.95M128.9 282.2h0.95M128.0 280.9h0.95M127.9 284.0h0.95M129.6 286.9h0.95M130.4 281.0h0.95M128.5 286.2h0.95M129.7 284.9h0.95M128.0 286.5h0.95M129.1 284.4h0.95M129.0 284.4h0.95M129.6 287.3h0.95M129.3 283.6h0.95M129.0 284.6h0.95M129.9 286.6h0.95M131.6 286.8h0.95M126.7 283.1h0.95M127.3 285.6h0.95M132.6 285.9h0.95M128.4 287.9h0.95M130.1 283.2h0.95M127.8 288.1h0.95M130.3 280.4h0.95M128.1 286.1h0.95M127.2 284.9h0.95M127.9 281.3h0.95M128.4 283.8h0.95M129.6 281.2h0.95M129.6 284.1h0.95M126.8 287.5h0.95M128.5 285.8h0.95M131.5 285.8h0.95M130.6 285.4h0.95M128.3 285.3h0.95M126.8 286.0h0.95M130.4 285.9h0.95M128.2 282.3h0.95M128.1 284.3h0.95M127.1 289.0h0.95M128.0 285.2h0.95M128.5 285.2h0.95M126.0 282.7h0.95M129.1 284.8h0.95M129.7 283.8h0.95M130.4 285.4h0.95M129.1 285.0h0.95M130.7 284.9h0.95M131.5 285.2h0.95M129.5 284.9h0.95M129.6 285.9h0.95M128.2 286.6h0.95M133.0 286.1h0.95M129.3 283.2h0.95M128.0 283.2h0.95M129.5 283.5h0.95M131.5 284.0h0.95M127.8 283.0h0.95M129.0 284.6h0.95M130.5 283.4h0.95M129.7 287.0h0.95M128.7 281.2h0.95M129.5 287.1h0.95M129.7 284.9h0.95M126.3 288.4h0.95M128.9 282.4h0.95M128.7 285.3h0.95M129.2 283.0h0.95M132.7 287.6h0.95M130.6 286.3h0.95M128.6 282.4h0.95M127.3 287.2h0.95M129.3 288.4h0.95M125.8 287.8h0.95M129.8 283.8h0.95M130.5 283.5h0.95M128.7 286.0h0.95M129.4 285.5h0.95M129.5 287.1h0.95M127.9 280.6h0.95M127.8 279.7h0.95M132.0 283.5h0.95M129.1 285.6h0.95M128.0 283.9h0.95M129.5 284.9h0.95M130.4 284.4h0.95M128.2 281.8h0.95M126.6 285.5h0.95M129.6 284.0h0.95M131.0 279.2h0.95M130.1 282.4h0.95M130.1 280.2h0.95M129.8 282.7h0.95M127.0 290.7h0.95M127.2 281.5h0.95M132.4 285.7h0.95M132.5 281.2h0.95M132.8 284.3h0.95M132.6 286.7h0.95M127.9 283.5h0.95M125.9 286.0h0.95M125.6 290.4h0.95M127.2 283.0h0.95M128.3 285.0h0.95M133.0 280.0h0.95M128.0 285.8h0.95M129.4 290.0h0.95M129.6 287.4h0.95M130.8 283.7h0.95M128.8 281.6h0.95M126.0 291.1h0.95M130.8 280.5h0.95M132.3 284.2h0.95M128.6 289.0h0.95M127.6 287.6h0.95M131.7 287.4h0.95M126.4 280.5h0.95M131.5 286.7h0.95M128.1 290.8h0.95M129.8 291.5h0.95M126.6 289.4h0.95M133.5 281.1h0.95M126.7 285.0h0.95M127.7 286.4h0.95M125.9 279.5h0.95M125.8 280.4h0.95M127.9 288.9h0.95M130.0 281.1h0.95M130.1 291.4h0.95M133.3 280.7h0.95M131.0 280.1h0.95M132.4 283.1h0.95M130.4 290.5h0.95M128.9 283.0h0.95M125.5 287.4h0.95M130.8 287.6h0.95M125.7 283.3h0.95M127.4 281.0h0.95M126.0 281.9h0.95M132.4 289.9h0.95M130.2 283.1h0.95M127.8 290.4h0.95M126.2 280.5h0.95M133.1 282.4h0.95M133.2 282.7h0.95M125.9 283.0h0.95M132.4 289.8h0.95M130.2 285.7h0.95M128.8 283.3h0.95M133.1 284.0h0.95M125.9 286.4h0.95M128.2 283.0h0.95M133.1 287.4h0.95M129.0 290.6h0.95M126.6 281.3h0.95M133.4 280.4h0.95M131.4 282.6h0.95M125.9 290.9h0.95M131.2 283.1h0.95M126.8 288.0h0.95M131.5 282.7h0.95M125.3 283.4h0.95M129.7 282.8h0.95M131.6 284.9h0.95M126.9 285.8h0.95M126.2 287.9h0.95M133.4 281.9h0.95M126.5 286.3h0.95M127.1 280.4h0.95M129.3 281.3h0.95M130.9 285.4h0.95M126.9 290.4h0.95M129.7 289.0h0.95M131.8 282.2h0.95M126.9 282.6h0.95M129.4 288.3h0.95M126.1 282.3h0.95M125.1 289.1h0.95M133.0 286.5h0.95M130.0 284.4h0.95M127.8 283.7h0.95M125.0 281.9h0.95M129.1 283.3h0.95M130.3 280.9h0.95M128.3 290.7h0.95M126.9 291.4h0.95M125.0 291.2h0.95M133.3 290.5h0.95M133.6 291.3h0.95M129.3 289.3h0.95M126.6 289.3h0.95M126.5 289.8h0.95M131.6 287.6h0.95M131.7 283.1h0.95M132.0 290.6h0.95M130.5 287.6h0.95M127.0 284.1h0.95M131.1 286.4h0.95M129.7 280.7h0.95M125.1 285.1h0.95M132.1 291.5h0.95M126.2 291.3h0.95M127.4 291.3h0.95M128.6 289.1h0.95M129.9 287.1h0.95M125.6 280.7h0.95M132.8 279.7h0.95M130.3 291.0h0.95M130.5 286.3h0.95M131.1 288.9h0.95M127.5 280.4h0.95M127.6 286.9h0.95M126.9 283.4h0.95M129.0 283.3h0.95M130.6 290.8h0.95M129.6 289.1h0.95M127.0 290.3h0.95M132.4 280.4h0.95M125.1 284.3h0.95M127.1 279.1h0.95M126.4 289.3h0.95M129.2 287.0h0.95M129.3 280.4h0.95M133.5 290.8h0.95M128.8 291.2h0.95M130.8 284.3h0.95M126.0 291.4h0.95M125.3 284.3h0.95M127.8 288.2h0.95M128.3 279.7h0.95M128.4 279.4h0.95M130.1 290.8h0.95M130.7 291.1h0.95M129.9 286.0h0.95M129.9 279.3h0.95M127.7 284.9h0.95M129.6 290.3h0.95M131.1 283.3h0.95M133.5 286.7h0.95M125.6 285.6h0.95M127.5 284.0h0.95M125.0 264.8h0.95M126.6 260.4h0.95M126.5 268.7h0.95M124.6 265.5h0.95M125.2 278.4h0.95M129.1 271.7h0.95M127.5 274.5h0.95M127.3 274.2h0.95M128.5 277.5h0.95M128.8 267.3h0.95M128.1 273.7h0.95M128.2 277.8h0.95M127.6 267.9h0.95M128.5 273.8h0.95M127.2 271.4h0.95M127.4 270.4h0.95M127.7 267.9h0.95M128.3 270.8h0.95M129.8 270.6h0.95M127.4 264.8h0.95M130.6 268.6h0.95M126.4 268.4h0.95M127.2 269.1h0.95M129.7 267.6h0.95M126.8 267.8h0.95M128.1 263.2h0.95M128.7 268.1h0.95M125.1 275.0h0.95M125.2 272.1h0.95M127.2 266.9h0.95M124.7 266.7h0.95M128.3 269.2h0.95M126.3 273.1h0.95M127.2 269.7h0.95M125.9 264.2h0.95M126.5 270.5h0.95M126.6 270.6h0.95M126.8 268.5h0.95M127.1 270.8h0.95M123.8 269.4h0.95M126.9 267.7h0.95M128.7 273.8h0.95M128.9 272.2h0.95M127.9 269.9h0.95M128.3 266.9h0.95M127.0 270.6h0.95M127.0 264.7h0.95M127.0 267.8h0.95M126.2 271.7h0.95M128.8 269.7h0.95M125.5 268.7h0.95M126.9 265.4h0.95M126.3 269.9h0.95M126.3 271.0h0.95M125.2 271.8h0.95M126.1 269.8h0.95M127.2 267.4h0.95M128.7 262.7h0.95M127.5 271.8h0.95M126.8 269.1h0.95M125.5 269.2h0.95M127.4 267.1h0.95M127.2 268.0h0.95M125.6 269.0h0.95M126.0 272.6h0.95M126.0 274.6h0.95M127.1 269.2h0.95M126.1 271.0h0.95M125.6 263.5h0.95M127.8 261.5h0.95M128.9 267.3h0.95M129.5 270.2h0.95M129.6 263.9h0.95M126.5 270.3h0.95M126.3 269.6h0.95M126.9 271.8h0.95M129.3 261.2h0.95M128.1 265.0h0.95M129.6 263.8h0.95M125.9 271.2h0.95M126.9 271.9h0.95M127.7 266.4h0.95M124.7 273.6h0.95M126.8 268.9h0.95M126.7 268.3h0.95M126.1 269.5h0.95M127.5 264.7h0.95M124.8 271.4h0.95M128.5 267.3h0.95M126.9 267.4h0.95M127.8 269.0h0.95M126.3 266.4h0.95M127.8 270.7h0.95M126.5 270.8h0.95M127.4 261.7h0.95M126.3 270.2h0.95M129.1 270.8h0.95M125.3 272.6h0.95M126.7 272.4h0.95M125.1 263.2h0.95M125.4 265.5h0.95M132.4 263.9h0.95M129.9 262.2h0.95M129.9 257.9h0.95M132.6 266.5h0.95M131.9 262.4h0.95M131.6 267.3h0.95M135.8 267.8h0.95M127.6 259.0h0.95M131.7 265.1h0.95M130.8 263.0h0.95M127.4 263.4h0.95M125.8 264.1h0.95M135.2 266.2h0.95M127.3 258.7h0.95M135.6 265.8h0.95M128.1 265.5h0.95M128.6 257.8h0.95M129.8 265.1h0.95M132.7 256.9h0.95M133.2 261.6h0.95M124.4 267.4h0.95" stroke="#000" stroke-width="0.95" fill="none"/>
<path d="M125.3 268.1h0.95M150.6 271.8h0.95M148.4 282.3h0.95M132.4 290.3h0.95M124.0 281.8h0.95M123.4 253.1h0.95M124.2 256.3h0.95M140.9 266.4h0.95" stroke="#999" stroke-width="0.95" fill="none"/>
<path d="M401.7 220.9h0.95M405.1 224.0h0.95M409.7 218.9h0.95M409.5 222.0h0.95M404.5 222.9h0.95M409.6 220.3h0.95M404.6 224.5h0.95M407.2 224.1h0.95M405.6 225.6h0.95M403.5 227.1h0.95M404.4 224.0h0.95M403.6 221.5h0.95M407.3 224.5h0.95M405.0 225.1h0.95M411.6 216.9h0.95M401.4 223.5h0.95M402.1 225.7h0.95M403.8 223.1h0.95M403.8 228.3h0.95M408.3 218.8h0.95M406.7 222.3h0.95M408.2 223.9h0.95M403.9 222.0h0.95M405.5 227.4h0.95M405.6 221.8h0.95M404.6 225.2h0.95M404.8 227.5h0.95M407.1 223.5h0.95M405.6 222.2h0.95M400.8 226.1h0.95M408.3 222.6h0.95M405.9 219.6h0.95M405.0 223.5h0.95M405.2 223.2h0.95M407.3 224.9h0.95M406.9 221.6h0.95M404.4 223.1h0.95M402.3 219.4h0.95M406.0 223.1h0.95M405.5 226.1h0.95M401.2 224.1h0.95M404.9 219.8h0.95M406.7 226.7h0.95M402.5 223.2h0.95M407.3 223.2h0.95M404.5 225.6h0.95M402.1 223.0h0.95M404.1 222.9h0.95M402.9 223.5h0.95M407.8 224.2h0.95M402.9 221.8h0.95M403.9 219.3h0.95M406.8 224.4h0.95M405.0 226.8h0.95M406.8 221.6h0.95M405.5 222.7h0.95M405.4 226.4h0.95M407.9 220.6h0.95M409.2 219.0h0.95M406.7 226.1h0.95M405.7 224.4h0.95M404.1 226.8h0.95M405.0 221.8h0.95M402.5 220.5h0.95M406.3 223.2h0.95M408.8 224.7h0.95M406.0 221.1h0.95M406.5 219.5h0.95M403.9 226.6h0.95M405.9 220.2h0.95M404.2 222.8h0.95M406.0 223.6h0.95M407.0 215.6h0.95M406.8 218.4h0.95M404.5 223.5h0.95M407.4 221.5h0.95M402.8 221.0h0.95M403.0 221.8h0.95M404.0 226.0h0.95M406.5 222.7h0.95M406.0 227.1h0.95M404.8 220.3h0.95M405.5 220.0h0.95M405.8 225.3h0.95M404.7 225.5h0.95M407.8 227.8h0.95M404.7 224.6h0.95M407.0 225.2h0.95M407.3 224.4h0.95M406.8 225.5h0.95M406.4 224.6h0.95M406.0 223.0h0.95M401.9 223.0h0.95M405.5 221.8h0.95M404.5 226.3h0.95M404.9 217.4h0.95M404.4 222.9h0.95M407.8 223.9h0.95M406.4 221.8h0.95M404.3 219.1h0.95M406.6 223.2h0.95M404.0 223.3h0.95M407.6 225.5h0.95M407.0 226.1h0.95M405.9 223.2h0.95M405.4 224.4h0.95M402.1 223.9h0.95M405.5 220.9h0.95M404.3 226.1h0.95M404.7 222.9h0.95M408.3 220.7h0.95M405.3 222.1h0.95M404.4 222.7h0.95M406.5 222.5h0.95M407.2 225.1h0.95M403.3 223.3h0.95M405.1 219.9h0.95M402.0 225.7h0.95M406.0 226.3h0.95M408.4 225.1h0.95M406.1 226.4h0.95M405.2 222.2h0.95M407.3 224.8h0.95M404.4 222.1h0.95M403.0 228.5h0.95M404.7 221.9h0.95M404.3 221.9h0.95M405.7 223.3h0.95M406.9 216.9h0.95M405.7 227.4h0.95M405.5 221.7h0.95M409.3 221.9h0.95M406.7 223.8h0.95M405.1 220.6h0.95M405.7 223.7h0.95M408.9 219.3h0.95M402.4 224.6h0.95M402.5 216.0h0.95M404.8 226.0h0.95M401.9 219.4h0.95M408.3 220.9h0.95M403.7 222.7h0.95M408.5 222.7h0.95M406.9 222.7h0.95M403.4 223.8h0.95M401.9 225.8h0.95M402.3 223.5h0.95M401.3 222.9h0.95M406.2 221.3h0.95M409.1 223.1h0.95M406.3 219.4h0.95M404.4 223.7h0.95M406.8 224.6h0.95M402.7 219.4h0.95M403.3 226.0h0.95M402.0 220.0h0.95M405.6 223.0h0.95M405.3 221.1h0.95M406.1 222.9h0.95M405.0 223.7h0.95M405.0 222.7h0.95M407.6 224.9h0.95M405.5 223.5h0.95M408.0 219.8h0.95M401.7 223.2h0.95M402.1 220.4h0.95M405.8 223.6h0.95M404.7 221.2h0.95M402.6 221.3h0.95M403.8 223.1h0.95M407.2 222.4h0.95M403.2 224.2h0.95M407.7 223.9h0.95M404.5 222.2h0.95M404.8 220.5h0.95M407.1 222.3h0.95M409.1 226.2h0.95M404.5 221.2h0.95M402.0 223.1h0.95M406.1 222.2h0.95M405.2 224.3h0.95M403.9 223.0h0.95M404.9 226.9h0.95M406.7 222.9h0.95M403.4 222.8h0.95M403.9 222.2h0.95M406.1 225.2h0.95M407.3 221.7h0.95M405.7 223.1h0.95M407.3 225.4h0.95M405.9 224.4h0.95M401.6 224.0h0.95M405.1 223.0h0.95M405.9 220.1h0.95M404.7 225.2h0.95M406.7 223.6h0.95M406.4 221.2h0.95M408.3 218.0h0.95M404.7 221.2h0.95M404.5 223.7h0.95M405.6 225.6h0.95M409.0 224.4h0.95M403.6 223.2h0.95M403.9 221.2h0.95M404.6 225.5h0.95M403.9 224.0h0.95M404.0 225.3h0.95M407.6 219.6h0.95M406.8 221.0h0.95M406.0 222.9h0.95M407.0 220.0h0.95M409.0 224.0h0.95M404.2 226.3h0.95M408.0 224.5h0.95M404.4 221.2h0.95M403.7 227.2h0.95M405.5 223.1h0.95M404.7 226.2h0.95M404.7 225.3h0.95M402.0 221.2h0.95M406.0 220.8h0.95M409.0 218.0h0.95M406.1 224.5h0.95M406.2 223.0h0.95M405.9 221.6h0.95M400.3 227.8h0.95M405.4 227.7h0.95M405.4 225.9h0.95M408.0 221.8h0.95M401.0 226.1h0.95M409.1 219.4h0.95M404.4 223.0h0.95M404.9 224.7h0.95M405.2 224.7h0.95M403.9 219.2h0.95M408.9 223.8h0.95M406.2 220.3h0.95M406.3 223.1h0.95M406.3 223.5h0.95M407.4 226.7h0.95M404.7 222.2h0.95M406.8 219.5h0.95M404.1 222.3h0.95M401.4 228.0h0.95M404.9 222.7h0.95M403.2 224.5h0.95M404.5 220.2h0.95M406.0 227.0h0.95M402.6 223.1h0.95M409.5 222.7h0.95M404.1 227.2h0.95M405.8 225.5h0.95M408.5 224.8h0.95M406.0 228.0h0.95M402.6 220.3h0.95M405.0 221.7h0.95M405.1 218.5h0.95M402.3 225.0h0.95M405.0 224.2h0.95M404.7 223.1h0.95M402.5 227.6h0.95M407.4 219.8h0.95M404.5 224.1h0.95M404.6 223.1h0.95M405.8 218.6h0.95M406.8 224.4h0.95M403.6 222.7h0.95M405.2 222.5h0.95M405.5 219.4h0.95M405.5 224.2h0.95M406.1 224.3h0.95M404.3 223.5h0.95M407.2 223.4h0.95M405.8 223.4h0.95M406.4 220.0h0.95M405.3 225.3h0.95M403.7 224.6h0.95M404.5 222.1h0.95M403.3 220.9h0.95M407.6 219.5h0.95M405.7 219.8h0.95M409.2 225.0h0.95M403.9 220.3h0.95M404.9 224.1h0.95M408.6 226.9h0.95M403.5 223.8h0.95M407.2 221.4h0.95M404.5 225.5h0.95M402.8 223.3h0.95M405.3 222.5h0.95M405.4 219.1h0.95M407.0 222.1h0.95M409.1 228.2h0.95M404.5 228.1h0.95M408.1 221.2h0.95M404.9 226.2h0.95M404.0 222.3h0.95M400.6 219.6h0.95M403.2 221.4h0.95M404.0 223.9h0.95M405.9 222.3h0.95M402.8 223.8h0.95M406.6 223.1h0.95M408.0 222.1h0.95M407.0 223.9h0.95M407.9 227.3h0.95M403.2 218.6h0.95M407.4 224.0h0.95M406.1 222.1h0.95M404.0 226.2h0.95M406.3 221.8h0.95M405.5 223.9h0.95M402.9 221.6h0.95M406.4 223.6h0.95M402.8 224.0h0.95M409.2 224.8h0.95M402.9 222.0h0.95M404.2 221.2h0.95M403.8 221.7h0.95M405.2 220.1h0.95M407.1 224.0h0.95M409.1 225.3h0.95M407.2 224.5h0.95M405.2 220.5h0.95M406.7 223.5h0.95M404.2 224.2h0.95M406.0 221.6h0.95M408.1 222.0h0.95M405.6 225.9h0.95M404.4 222.4h0.95M406.3 222.4h0.95M404.5 220.4h0.95M405.8 222.3h0.95M407.0 225.8h0.95M405.4 225.2h0.95M404.1 227.2h0.95M404.4 222.9h0.95M404.7 222.0h0.95M406.9 223.2h0.95M403.7 225.2h0.95M405.5 224.7h0.95M405.8 222.1h0.95M402.0 222.5h0.95M403.7 226.3h0.95M405.0 226.9h0.95M409.7 226.1h0.95M409.9 220.9h0.95M404.5 220.6h0.95M402.9 220.0h0.95M407.1 221.2h0.95M404.8 224.7h0.95M404.6 227.1h0.95M407.7 225.0h0.95M408.6 224.6h0.95M405.8 226.0h0.95M407.4 219.9h0.95M407.5 225.8h0.95M401.2 228.4h0.95M405.7 226.8h0.95M403.2 223.8h0.95M404.1 221.2h0.95M405.9 219.6h0.95M405.4 225.0h0.95M404.0 220.5h0.95M406.5 225.5h0.95M407.1 221.9h0.95M404.6 226.7h0.95M407.1 224.1h0.95M405.8 222.9h0.95M406.6 225.0h0.95M405.5 223.9h0.95M402.8 222.9h0.95M408.4 223.8h0.95M402.8 222.1h0.95M405.6 226.9h0.95M409.4 223.2h0.95M405.1 223.6h0.95M403.3 226.6h0.95M403.2 225.1h0.95M404.6 220.7h0.95M406.0 227.4h0.95M403.1 223.8h0.95M404.1 225.9h0.95M402.6 220.1h0.95M404.7 220.0h0.95M407.3 219.6h0.95M405.5 222.0h0.95M407.3 221.9h0.95M405.0 227.5h0.95M406.6 226.4h0.95M408.1 224.5h0.95M406.0 219.1h0.95M402.2 222.3h0.95M406.0 226.1h0.95M404.0 222.5h0.95M409.3 220.5h0.95M405.1 223.0h0.95M404.1 227.0h0.95M402.4 222.5h0.95M402.3 221.5h0.95M407.7 220.2h0.95M402.9 224.1h0.95M405.9 222.7h0.95M406.1 223.7h0.95M404.8 224.2h0.95M407.2 221.8h0.95M406.7 224.6h0.95M405.1 222.7h0.95M405.9 225.6h0.95M404.0 225.5h0.95M405.5 225.7h0.95M405.8 223.7h0.95M405.7 225.3h0.95M403.2 224.1h0.95M401.8 224.5h0.95M404.7 224.1h0.95M406.9 225.8h0.95M407.5 225.8h0.95M405.1 222.5h0.95M409.2 222.8h0.95M404.9 224.9h0.95M404.2 224.3h0.95M405.7 223.0h0.95M403.9 224.1h0.95M406.0 222.2h0.95M405.6 224.3h0.95M404.1 224.9h0.95M403.4 225.8h0.95M404.3 226.0h0.95M405.6 224.2h0.95M403.4 225.5h0.95M403.8 228.3h0.95M406.1 224.4h0.95M405.4 225.4h0.95M406.1 224.8h0.95M406.7 223.8h0.95M407.8 221.2h0.95M403.0 225.2h0.95M405.4 221.2h0.95M403.6 222.7h0.95M407.3 225.3h0.95M402.9 221.5h0.95M405.6 221.7h0.95M404.5 222.9h0.95M405.5 225.2h0.95M404.4 223.1h0.95M405.8 227.2h0.95M406.0 223.4h0.95M406.8 223.8h0.95M403.4 225.3h0.95M407.8 221.9h0.95M406.5 221.7h0.95M405.3 223.8h0.95M404.9 223.8h0.95M406.4 223.1h0.95M405.1 223.5h0.95M405.8 222.8h0.95M406.6 224.6h0.95M404.5 221.6h0.95M405.0 226.0h0.95M406.4 224.1h0.95M408.4 227.0h0.95M406.2 226.7h0.95M405.0 223.4h0.95M405.7 220.4h0.95M405.5 223.1h0.95M407.4 225.1h0.95M407.7 223.2h0.95M407.6 224.3h0.95M406.2 224.8h0.95M403.5 225.8h0.95M404.7 225.3h0.95M405.3 222.2h0.95M404.9 224.6h0.95M405.0 227.3h0.95M407.2 224.2h0.95M404.9 226.8h0.95M405.5 226.3h0.95M403.4 220.2h0.95M406.6 225.8h0.95M405.2 223.7h0.95M406.1 225.1h0.95M405.3 224.1h0.95M405.8 226.1h0.95M406.5 219.1h0.95M405.9 223.5h0.95M407.0 225.4h0.95M404.6 223.9h0.95M401.9 223.8h0.95M403.8 224.3h0.95M404.3 226.4h0.95M407.3 223.4h0.95M404.1 226.5h0.95M403.4 223.4h0.95M404.8 224.5h0.95M405.5 222.3h0.95M406.7 224.8h0.95M405.9 227.1h0.95M408.2 224.5h0.95M404.8 223.5h0.95M405.2 222.0h0.95M404.4 223.1h0.95M406.2 225.5h0.95M401.7 220.9h0.95M404.5 222.0h0.95M405.4 220.7h0.95M405.1 224.4h0.95M406.0 223.2h0.95M406.0 225.5h0.95M404.9 222.0h0.95M404.6 224.6h0.95M405.8 220.8h0.95M403.2 220.9h0.95M408.1 224.9h0.95M405.7 221.8h0.95M402.3 227.9h0.95M406.3 219.3h0.95M407.8 224.8h0.95M405.3 224.5h0.95M406.7 220.2h0.95M405.8 221.6h0.95M404.8 223.6h0.95M404.8 222.6h0.95M405.7 223.3h0.95M405.8 225.5h0.95M404.1 223.7h0.95M404.1 225.6h0.95M406.5 226.0h0.95M407.0 224.3h0.95M403.9 222.6h0.95M407.2 224.3h0.95M406.6 222.9h0.95M405.1 227.7h0.95M406.9 221.0h0.95M404.4 224.3h0.95M407.0 225.9h0.95M406.7 226.4h0.95M406.4 225.7h0.95M404.1 221.7h0.95M404.6 226.5h0.95M407.4 221.9h0.95M405.0 224.2h0.95M406.3 224.7h0.95M407.6 224.5h0.95M405.1 223.5h0.95M407.0 223.5h0.95M406.2 223.2h0.95M403.7 219.9h0.95M405.0 222.5h0.95M406.6 223.3h0.95M404.0 225.4h0.95M404.8 228.0h0.95M404.7 224.2h0.95M404.3 227.0h0.95M405.8 223.6h0.95M405.3 220.0h0.95M407.3 224.0h0.95M407.1 222.4h0.95M407.6 222.8h0.95M405.5 227.9h0.95M404.7 224.1h0.95M405.2 224.2h0.95M405.6 223.7h0.95M406.1 223.2h0.95M407.4 225.3h0.95M403.7 223.0h0.95M404.9 225.9h0.95M402.5 226.2h0.95M402.5 222.8h0.95M404.1 223.4h0.95M406.6 225.8h0.95M405.2 223.6h0.95M404.0 226.3h0.95M403.1 222.7h0.95M406.4 227.5h0.95M404.9 224.9h0.95M404.5 224.4h0.95M402.3 225.3h0.95M404.6 224.8h0.95M405.2 222.2h0.95M403.1 222.1h0.95M405.3 225.4h0.95M407.1 225.9h0.95M408.5 225.9h0.95M408.1 225.6h0.95M405.9 220.7h0.95M406.8 223.8h0.95M404.8 221.5h0.95M407.3 224.0h0.95M404.8 222.5h0.95M405.3 224.9h0.95M406.3 224.2h0.95M405.7 224.2h0.95M404.8 226.2h0.95M405.2 222.9h0.95M408.0 222.2h0.95M404.7 224.3h0.95M405.1 223.9h0.95M406.8 226.0h0.95M403.4 227.6h0.95M403.6 222.0h0.95M406.4 222.1h0.95M403.6 225.6h0.95M406.2 224.8h0.95M407.5 226.0h0.95M404.7 223.1h0.95M406.0 223.2h0.95M405.8 225.7h0.95M405.8 221.3h0.95M407.9 223.9h0.95M405.9 220.9h0.95M405.3 221.6h0.95M407.8 223.1h0.95M403.3 223.8h0.95M404.0 224.1h0.95M404.0 220.7h0.95M405.1 223.4h0.95M404.2 225.3h0.95M406.7 223.8h0.95M405.3 224.7h0.95M406.8 224.4h0.95M403.7 225.2h0.95M408.9 225.3h0.95M405.9 222.9h0.95M403.1 225.0h0.95M406.3 224.9h0.95M405.6 226.5h0.95M405.2 220.4h0.95M405.2 224.4h0.95M406.6 225.1h0.95M406.4 224.9h0.95M405.8 221.8h0.95M404.9 226.0h0.95M407.8 218.9h0.95M405.2 223.2h0.95M406.7 220.3h0.95M404.6 224.4h0.95M404.2 220.7h0.95M408.2 223.5h0.95M405.5 225.2h0.95M409.5 227.0h0.95M407.0 218.6h0.95M401.9 224.0h0.95M409.6 225.6h0.95M406.1 224.2h0.95M405.1 226.8h0.95M405.1 227.2h0.95M404.8 222.9h0.95M409.9 224.9h0.95M404.9 218.1h0.95M404.7 220.4h0.95M404.6 218.5h0.95M404.6 221.9h0.95M408.3 221.3h0.95M407.6 224.1h0.95M406.3 226.2h0.95M408.9 219.4h0.95M403.4 218.4h0.95M406.2 218.6h0.95M403.5 227.4h0.95M404.5 222.2h0.95M403.3 226.2h0.95M405.5 223.0h0.95M408.7 219.7h0.95M401.0 227.3h0.95M408.1 225.7h0.95M408.2 223.4h0.95M401.7 220.0h0.95M407.3 219.4h0.95M406.3 222.2h0.95M409.3 226.0h0.95M404.1 219.3h0.95M405.8 224.6h0.95M401.1 223.0h0.95M402.1 221.4h0.95M407.7 227.6h0.95M401.7 221.6h0.95M405.5 227.8h0.95M409.0 226.3h0.95M402.2 225.9h0.95M407.0 218.4h0.95M404.6 223.3h0.95M402.5 219.6h0.95M404.6 218.0h0.95M403.9 223.4h0.95M403.3 223.4h0.95M409.0 222.9h0.95M404.3 225.1h0.95M408.9 219.3h0.95M408.4 227.4h0.95M409.2 220.0h0.95M409.0 221.5h0.95M404.0 221.0h0.95M408.1 224.6h0.95M402.2 221.2h0.95M406.1 226.6h0.95M406.4 224.9h0.95M403.6 226.9h0.95M406.5 224.3h0.95M403.4 223.9h0.95M403.7 222.1h0.95M409.5 222.6h0.95M402.5 222.3h0.95M402.9 225.4h0.95M402.7 225.4h0.95M405.1 222.3h0.95M406.2 228.2h0.95M406.3 220.2h0.95M403.7 219.5h0.95M406.6 227.5h0.95M401.4 220.8h0.95M401.9 223.5h0.95M408.5 219.6h0.95M408.4 222.2h0.95M405.7 224.3h0.95M409.4 227.8h0.95M409.8 224.1h0.95M409.6 226.2h0.95M406.1 224.2h0.95M403.7 219.6h0.95M405.0 220.6h0.95M400.8 227.7h0.95M402.7 228.0h0.95M405.4 220.7h0.95M404.5 219.0h0.95M405.9 221.2h0.95M400.8 220.3h0.95M404.6 227.5h0.95M402.8 226.6h0.95M404.8 221.6h0.95M404.4 223.3h0.95M403.8 224.3h0.95M407.8 227.2h0.95M404.7 224.1h0.95M402.2 223.4h0.95M408.9 220.0h0.95M401.5 218.1h0.95M403.1 221.9h0.95M405.8 222.1h0.95M409.9 223.9h0.95M408.9 220.4h0.95M403.1 223.6h0.95M400.8 225.4h0.95M403.7 225.4h0.95M405.5 226.8h0.95M402.7 227.8h0.95M409.8 222.3h0.95M406.1 218.1h0.95M406.0 222.4h0.95M408.0 225.7h0.95M407.3 228.3h0.95M401.0 221.5h0.95M406.4 227.5h0.95M403.7 226.1h0.95M408.3 223.1h0.95M407.2 225.8h0.95M406.9 226.8h0.95M401.3 226.7h0.95M401.3 224.1h0.95M404.1 223.5h0.95M408.5 221.0h0.95M405.4 225.8h0.95M405.7 223.8h0.95M406.4 228.1h0.95M401.5 222.5h0.95M408.3 218.4h0.95M408.0 221.7h0.95M402.4 225.9h0.95M407.1 225.6h0.95M407.7 225.8h0.95M409.9 226.8h0.95M401.4 218.9h0.95M406.8 221.5h0.95M403.9 227.5h0.95M403.0 222.3h0.95M409.7 225.0h0.95M406.3 220.1h0.95M408.2 222.2h0.95M409.6 221.8h0.95M404.4 222.4h0.95M409.2 225.7h0.95M406.4 218.4h0.95M402.2 221.5h0.95M407.5 221.6h0.95M404.0 222.4h0.95M400.9 226.4h0.95M403.6 228.0h0.95M409.2 224.1h0.95M406.3 225.4h0.95M401.4 228.3h0.95M406.3 223.8h0.95M407.2 224.1h0.95M408.4 223.4h0.95M403.8 219.8h0.95M403.5 222.0h0.95M403.8 223.7h0.95M406.4 221.5h0.95M405.1 225.2h0.95M410.0 220.0h0.95M401.4 225.2h0.95M408.0 225.7h0.95M403.9 218.8h0.95M404.2 226.6h0.95M402.8 224.9h0.95M404.0 227.4h0.95M400.9 224.3h0.95M403.4 225.6h0.95M405.7 222.4h0.95M409.9 222.8h0.95M406.8 224.6h0.95M403.7 224.1h0.95M409.5 228.2h0.95M404.8 224.5h0.95M407.0 219.1h0.95M403.3 224.0h0.95M408.8 222.5h0.95M408.3 224.0h0.95M408.4 227.6h0.95M403.8 222.0h0.95M401.2 226.2h0.95M405.5 227.1h0.95M401.7 222.7h0.95M408.5 220.1h0.95M405.8 227.1h0.95M408.0 220.2h0.95M404.8 221.9h0.95M404.8 218.8h0.95M409.1 223.8h0.95M408.7 225.0h0.95M401.4 221.7h0.95M402.2 221.1h0.95M407.9 226.1h0.95M401.0 225.9h0.95M401.1 218.2h0.95M409.1 219.0h0.95M406.4 226.4h0.95M401.3 226.6h0.95M404.0 226.8h0.95M408.0 223.0h0.95M406.4 222.4h0.95M401.6 224.2h0.95M406.5 218.7h0.95M405.2 220.6h0.95M404.4 224.4h0.95M403.3 221.6h0.95M401.1 225.4h0.95M408.1 228.3h0.95M405.1 222.1h0.95M404.2 224.4h0.95M406.1 218.8h0.95M405.0 227.6h0.95M403.7 224.4h0.95M409.8 219.2h0.95M409.5 221.5h0.95M405.5 221.2h0.95M403.5 222.6h0.95M406.8 223.9h0.95M401.6 225.5h0.95M405.0 218.8h0.95M404.3 227.7h0.95M407.3 227.5h0.95M403.6 219.3h0.95M401.3 220.2h0.95M409.0 218.4h0.95M407.1 218.4h0.95M400.8 227.9h0.95M407.8 227.1h0.95M403.3 219.4h0.95M408.3 225.9h0.95M403.2 225.3h0.95M406.1 217.2h0.95M407.2 217.5h0.95M405.7 216.3h0.95M404.1 218.1h0.95M407.1 219.0h0.95M405.4 218.6h0.95M405.0 214.1h0.95M407.2 214.9h0.95M404.5 217.0h0.95M405.9 221.0h0.95M407.7 222.2h0.95M406.6 214.1h0.95M404.7 218.3h0.95M404.6 218.6h0.95M407.8 219.0h0.95M404.1 220.1h0.95M408.6 219.9h0.95M409.5 215.9h0.95M406.2 219.5h0.95M407.7 220.9h0.95M406.2 216.2h0.95M406.1 216.1h0.95M406.5 216.9h0.95M407.4 216.1h0.95M407.6 216.0h0.95M408.0 220.3h0.95M406.3 217.2h0.95M406.8 218.7h0.95M405.0 219.2h0.95M403.9 215.1h0.95M404.8 218.1h0.95M405.3 212.5h0.95M407.8 216.4h0.95M405.9 218.4h0.95M406.8 219.0h0.95" stroke="#000" stroke-width="0.95" fill="none"/>
<path d="M478.3 224.0h0.95M482.6 225.1h0.95M483.6 219.4h0.95M483.1 219.4h0.95M478.6 223.7h0.95M485.3 226.3h0.95M480.5 223.4h0.95M482.9 220.0h0.95M480.1 221.6h0.95M483.1 224.6h0.95M481.4 226.3h0.95M480.3 220.8h0.95M482.5 218.4h0.95M481.3 223.1h0.95M477.7 223.7h0.95M479.1 226.7h0.95M482.3 225.5h0.95M482.7 223.2h0.95M482.9 224.8h0.95M481.9 226.0h0.95M484.6 218.8h0.95M479.9 219.4h0.95M478.4 225.0h0.95M478.9 222.6h0.95M479.7 225.7h0.95M483.9 223.5h0.95M479.5 221.7h0.95M480.4 219.0h0.95M478.4 223.7h0.95M481.3 223.6h0.95M481.4 221.3h0.95M480.6 220.6h0.95M481.2 218.0h0.95M481.8 223.8h0.95M480.0 223.6h0.95M482.8 223.4h0.95M484.5 226.3h0.95M481.0 222.7h0.95M478.5 220.4h0.95M481.2 223.5h0.95M481.5 227.5h0.95M481.6 224.2h0.95M480.4 220.4h0.95M479.9 222.9h0.95M482.2 225.0h0.95M478.8 222.9h0.95M482.3 219.5h0.95M480.3 219.4h0.95M479.5 226.2h0.95M478.8 225.5h0.95M480.5 219.1h0.95M481.2 223.8h0.95M480.3 226.3h0.95M480.2 225.1h0.95M480.8 221.8h0.95M481.5 225.9h0.95M483.6 226.3h0.95M477.6 219.8h0.95M480.3 226.3h0.95M477.2 223.6h0.95M478.5 225.2h0.95M482.8 222.5h0.95M483.4 225.1h0.95M480.5 226.9h0.95M484.9 223.0h0.95M481.3 224.1h0.95M482.4 222.2h0.95M480.4 226.3h0.95M480.6 226.6h0.95M481.3 227.6h0.95M483.7 220.2h0.95M482.2 222.6h0.95M479.7 225.5h0.95M482.9 224.6h0.95M482.9 227.4h0.95M481.5 224.8h0.95M481.8 227.1h0.95M479.2 223.0h0.95M478.5 221.8h0.95M481.5 222.3h0.95M479.4 222.6h0.95M481.1 221.4h0.95M481.2 221.6h0.95M481.5 225.0h0.95M484.5 221.3h0.95M480.6 221.1h0.95M482.9 220.8h0.95M483.3 227.9h0.95M477.6 226.1h0.95M485.2 223.5h0.95M480.4 223.0h0.95M479.1 224.9h0.95M483.4 221.2h0.95M482.4 224.6h0.95M483.9 223.0h0.95M479.4 223.9h0.95M481.7 222.6h0.95M479.1 224.9h0.95M477.8 220.3h0.95M480.6 219.8h0.95M481.8 219.1h0.95M480.5 224.4h0.95M483.4 221.1h0.95M481.4 226.4h0.95M479.3 224.2h0.95M483.0 226.1h0.95M480.7 224.2h0.95M479.5 224.7h0.95M481.7 221.9h0.95M485.4 224.9h0.95M479.3 223.4h0.95M481.8 220.6h0.95M479.1 225.2h0.95M480.7 223.1h0.95M482.8 222.6h0.95M478.0 220.4h0.95M480.6 222.8h0.95M480.1 221.0h0.95M477.5 222.6h0.95M481.7 224.0h0.95M478.6 221.7h0.95M481.2 217.0h0.95M482.2 223.0h0.95M486.9 223.0h0.95M480.7 223.3h0.95M480.4 221.5h0.95M482.9 224.1h0.95M481.5 222.6h0.95M477.2 222.1h0.95M476.6 221.6h0.95M481.5 222.6h0.95M481.0 227.4h0.95M481.9 225.9h0.95M480.2 222.4h0.95M478.2 227.1h0.95M483.0 223.1h0.95M481.7 223.9h0.95M483.5 224.6h0.95M480.7 220.5h0.95M476.2 217.2h0.95M480.4 226.4h0.95M479.5 222.6h0.95M482.0 227.4h0.95M476.4 222.9h0.95M479.9 225.4h0.95M480.1 218.7h0.95M476.3 218.9h0.95M480.0 220.5h0.95M477.9 222.4h0.95M483.1 223.2h0.95M476.9 223.3h0.95M480.8 226.7h0.95M479.3 219.2h0.95M480.1 220.3h0.95M481.2 224.9h0.95M480.7 223.1h0.95M478.5 219.6h0.95M481.4 226.9h0.95M478.9 217.7h0.95M480.7 223.9h0.95M479.2 218.3h0.95M483.4 218.3h0.95M481.8 225.4h0.95M483.3 223.1h0.95M482.6 222.6h0.95M482.2 226.7h0.95M480.8 218.7h0.95M481.6 215.4h0.95M483.5 221.6h0.95M479.7 225.8h0.95M482.5 224.5h0.95M479.7 225.1h0.95M481.1 222.3h0.95M479.3 224.5h0.95M479.4 226.6h0.95M477.3 220.6h0.95M481.2 218.8h0.95M484.4 219.6h0.95M479.6 222.1h0.95M481.1 226.8h0.95M480.0 221.9h0.95M483.3 223.2h0.95M482.3 223.3h0.95M479.8 221.6h0.95M478.9 221.1h0.95M481.1 223.1h0.95M482.3 223.5h0.95M481.6 220.9h0.95M477.7 225.8h0.95M484.3 222.4h0.95M482.5 220.9h0.95M479.0 224.2h0.95M482.5 224.7h0.95M482.9 223.4h0.95M480.5 223.4h0.95M479.1 222.3h0.95M477.6 220.1h0.95M482.3 221.8h0.95M476.4 220.2h0.95M482.3 223.0h0.95M480.6 224.7h0.95M483.0 222.4h0.95M482.0 221.8h0.95M479.2 222.0h0.95M483.0 217.8h0.95M482.0 222.1h0.95M482.0 223.7h0.95M477.7 221.9h0.95M477.0 222.8h0.95M479.3 225.6h0.95M477.3 223.9h0.95M478.9 221.9h0.95M477.5 228.0h0.95M480.4 223.4h0.95M485.2 218.7h0.95M480.6 220.8h0.95M480.3 222.1h0.95M481.8 225.1h0.95M480.9 226.3h0.95M480.2 219.9h0.95M477.5 225.4h0.95M480.1 224.4h0.95M482.2 220.8h0.95M483.3 225.1h0.95M484.0 225.1h0.95M478.6 224.7h0.95M481.0 219.5h0.95M482.5 222.5h0.95M481.6 227.5h0.95M483.3 222.1h0.95M482.2 225.9h0.95M481.1 226.0h0.95M481.9 222.0h0.95M483.5 222.6h0.95M479.9 222.2h0.95M477.3 226.0h0.95M478.5 218.4h0.95M481.4 217.5h0.95M480.2 225.1h0.95M481.5 224.2h0.95M480.2 220.7h0.95M481.4 225.2h0.95M480.7 225.7h0.95M476.1 220.8h0.95M475.7 222.1h0.95M481.1 219.9h0.95M479.7 223.0h0.95M479.2 222.6h0.95M482.7 223.2h0.95M482.8 224.4h0.95M479.8 223.4h0.95M482.6 221.7h0.95M479.5 226.4h0.95M482.4 224.9h0.95M479.8 222.7h0.95M481.6 224.3h0.95M482.5 220.3h0.95M482.5 220.6h0.95M478.9 221.9h0.95M479.8 225.9h0.95M479.5 223.6h0.95M483.4 218.7h0.95M482.4 228.1h0.95M482.7 221.3h0.95M480.6 223.6h0.95M479.5 220.5h0.95M483.0 220.9h0.95M482.9 220.4h0.95M479.3 217.2h0.95M476.0 228.1h0.95M479.6 222.2h0.95M482.5 219.4h0.95M480.8 226.2h0.95M482.4 227.1h0.95M480.5 219.2h0.95M480.8 224.6h0.95M478.8 222.4h0.95M479.5 221.1h0.95M480.4 221.5h0.95M480.9 221.8h0.95M478.4 221.4h0.95M477.1 227.6h0.95M483.5 222.9h0.95M481.2 225.0h0.95M481.4 220.9h0.95M479.1 225.3h0.95M480.3 224.3h0.95M480.0 225.5h0.95M480.5 223.8h0.95M481.9 217.9h0.95M482.6 226.7h0.95M479.9 218.9h0.95M481.6 220.9h0.95M478.9 227.3h0.95M480.6 220.4h0.95M478.3 224.2h0.95M481.5 224.2h0.95M478.6 221.4h0.95M480.8 222.2h0.95M480.9 222.3h0.95M480.7 223.7h0.95M482.1 226.6h0.95M480.7 217.9h0.95M483.6 219.2h0.95M481.3 226.3h0.95M482.0 226.7h0.95M481.8 218.9h0.95M482.2 222.4h0.95M482.9 221.4h0.95M482.4 219.8h0.95M480.3 222.9h0.95M483.0 221.1h0.95M481.4 226.1h0.95M477.3 227.3h0.95M480.6 223.8h0.95M484.6 223.1h0.95M482.2 226.5h0.95M483.6 226.4h0.95M479.6 224.2h0.95M478.0 220.0h0.95M480.2 222.4h0.95M479.7 221.2h0.95M484.1 219.8h0.95M481.8 219.9h0.95M481.4 221.0h0.95M477.5 217.9h0.95M483.1 226.5h0.95M480.3 222.7h0.95M481.5 219.1h0.95M479.9 218.8h0.95M479.7 223.2h0.95M480.2 227.8h0.95M482.0 221.7h0.95M481.3 222.0h0.95M479.3 227.2h0.95M480.5 221.7h0.95M483.6 222.5h0.95M482.7 216.2h0.95M482.1 220.2h0.95M480.1 225.6h0.95M484.2 217.1h0.95M483.4 222.4h0.95M479.9 225.9h0.95M480.6 221.7h0.95M480.4 222.6h0.95M479.8 226.1h0.95M484.0 220.8h0.95M479.5 222.8h0.95M479.3 223.4h0.95M481.1 223.2h0.95M479.4 224.0h0.95M478.4 222.2h0.95M480.5 223.3h0.95M482.4 222.7h0.95M478.9 224.3h0.95M480.5 225.2h0.95M484.0 227.2h0.95M480.8 220.6h0.95M481.2 222.7h0.95M479.4 219.2h0.95M483.0 220.6h0.95M482.8 226.0h0.95M479.0 224.3h0.95M480.6 219.3h0.95M479.6 223.5h0.95M482.6 221.3h0.95M480.4 225.9h0.95M480.0 221.4h0.95M477.9 224.3h0.95M479.4 220.6h0.95M479.9 221.2h0.95M486.4 221.7h0.95M482.3 219.8h0.95M482.4 224.1h0.95M479.0 220.3h0.95M475.3 217.0h0.95M479.4 223.0h0.95M482.3 223.0h0.95M479.3 220.6h0.95M483.9 222.0h0.95M484.1 222.9h0.95M480.1 222.2h0.95M481.7 225.3h0.95M480.1 224.5h0.95M478.3 218.8h0.95M477.7 221.9h0.95M479.5 225.0h0.95M480.1 222.0h0.95M480.2 219.3h0.95M478.4 228.2h0.95M481.9 219.3h0.95M478.4 224.1h0.95M476.6 217.1h0.95M479.9 221.6h0.95M482.3 220.3h0.95M478.3 224.3h0.95M478.9 223.6h0.95M477.1 222.2h0.95M484.3 219.4h0.95M480.7 222.8h0.95M481.0 223.7h0.95M481.9 222.6h0.95M479.4 224.4h0.95M481.1 220.3h0.95M481.9 223.2h0.95M482.3 224.0h0.95M478.9 223.2h0.95M481.8 226.1h0.95M480.5 225.3h0.95M482.8 224.6h0.95M483.0 225.3h0.95M479.3 221.4h0.95M479.5 227.5h0.95M482.6 222.1h0.95M480.7 228.2h0.95M479.5 224.0h0.95M480.3 225.7h0.95M477.9 224.7h0.95M481.1 226.3h0.95M481.4 224.8h0.95M479.4 224.6h0.95M480.0 227.7h0.95M481.3 224.1h0.95M481.0 224.1h0.95M480.2 225.3h0.95M480.8 222.2h0.95M482.1 225.5h0.95M482.5 223.2h0.95M482.2 227.1h0.95M481.8 224.8h0.95M480.7 220.8h0.95M479.3 223.9h0.95M482.4 225.1h0.95M480.0 224.4h0.95M480.6 222.5h0.95M480.7 225.7h0.95M479.1 223.2h0.95M480.7 221.9h0.95M479.4 224.9h0.95M484.0 224.2h0.95M480.0 227.2h0.95M481.0 220.2h0.95M480.0 220.1h0.95M480.3 227.0h0.95M482.3 223.4h0.95M479.8 223.2h0.95M479.2 222.1h0.95M481.3 224.3h0.95M481.1 223.7h0.95M478.6 225.2h0.95M480.8 225.7h0.95M481.0 222.0h0.95M482.2 225.6h0.95M480.4 225.5h0.95M481.5 223.1h0.95M481.2 222.5h0.95M482.8 223.1h0.95M482.3 227.7h0.95M480.9 225.4h0.95M483.0 220.2h0.95M484.0 225.3h0.95M479.0 224.4h0.95M484.0 224.3h0.95M482.9 226.2h0.95M479.9 224.8h0.95M483.4 222.5h0.95M481.0 222.9h0.95M480.0 223.7h0.95M477.6 222.8h0.95M478.2 222.1h0.95M480.0 226.2h0.95M479.2 225.8h0.95M480.2 222.5h0.95M478.3 224.4h0.95M480.7 225.7h0.95M479.9 219.9h0.95M481.6 226.8h0.95M480.9 224.3h0.95M481.6 224.6h0.95M484.7 223.8h0.95M481.6 225.9h0.95M481.6 220.6h0.95M481.4 223.4h0.95M479.3 226.0h0.95M479.8 224.9h0.95M479.8 225.3h0.95M482.8 222.3h0.95M479.6 226.0h0.95M479.5 226.2h0.95M481.4 222.2h0.95M480.0 226.8h0.95M482.1 224.4h0.95M481.2 226.3h0.95M479.9 224.8h0.95M481.5 226.8h0.95M480.3 223.7h0.95M481.2 223.6h0.95M480.4 225.2h0.95M480.1 223.5h0.95M481.2 224.3h0.95M480.3 223.9h0.95M479.0 222.6h0.95M479.8 221.9h0.95M483.1 228.3h0.95M480.5 223.9h0.95M480.6 223.4h0.95M480.0 225.9h0.95M481.6 221.5h0.95M481.1 222.4h0.95M481.8 222.5h0.95M481.3 222.6h0.95M480.5 224.8h0.95M481.8 221.3h0.95M480.0 222.4h0.95M478.3 224.6h0.95M480.5 223.5h0.95M479.6 227.7h0.95M479.5 218.8h0.95M480.3 224.7h0.95M479.2 223.8h0.95M477.4 223.6h0.95M480.9 222.2h0.95M479.2 221.9h0.95M480.0 226.2h0.95M481.0 222.8h0.95M480.1 225.6h0.95M479.8 222.3h0.95M482.0 224.1h0.95M482.8 223.6h0.95M480.4 224.9h0.95M481.1 224.1h0.95M479.4 222.7h0.95M479.7 223.1h0.95M482.7 222.2h0.95M481.5 224.9h0.95M478.5 226.1h0.95M481.1 224.8h0.95M481.1 226.1h0.95M481.4 222.7h0.95M479.9 222.3h0.95M479.6 222.3h0.95M481.1 226.0h0.95M480.5 226.1h0.95M482.5 225.4h0.95M478.4 218.9h0.95M482.4 225.0h0.95M478.7 222.6h0.95M481.1 224.0h0.95M478.9 223.9h0.95M478.6 223.5h0.95M481.7 224.6h0.95M479.9 225.3h0.95M483.7 223.5h0.95M481.0 221.2h0.95M482.0 220.8h0.95M480.5 225.9h0.95M481.7 217.5h0.95M479.6 219.2h0.95M480.4 221.1h0.95M484.1 226.4h0.95M479.3 223.4h0.95M480.9 226.0h0.95M482.9 225.4h0.95M478.9 217.7h0.95M478.5 221.7h0.95M481.9 221.4h0.95M482.7 225.6h0.95M480.9 225.7h0.95M479.7 226.1h0.95M480.9 222.8h0.95M479.6 219.8h0.95M480.3 225.1h0.95M480.2 223.1h0.95M478.8 226.5h0.95M480.8 224.0h0.95M479.6 223.5h0.95M481.3 224.9h0.95M479.9 222.9h0.95M481.8 227.1h0.95M480.2 225.1h0.95M481.9 224.8h0.95M479.4 224.1h0.95M480.9 221.8h0.95M480.9 224.0h0.95M479.7 227.4h0.95M481.3 222.3h0.95M482.6 223.4h0.95M479.3 221.6h0.95M482.4 221.6h0.95M481.3 225.0h0.95M479.9 225.5h0.95M482.4 223.9h0.95M480.8 225.4h0.95M480.9 226.7h0.95M481.9 224.2h0.95M481.1 223.2h0.95M481.8 222.6h0.95M480.8 221.5h0.95M484.4 224.6h0.95M480.9 225.0h0.95M478.3 227.0h0.95M478.3 225.3h0.95M480.2 225.5h0.95M481.8 224.6h0.95M482.3 223.4h0.95M481.2 223.4h0.95M479.8 221.8h0.95M481.4 227.5h0.95M479.5 223.0h0.95M479.8 224.8h0.95M477.8 224.4h0.95M479.7 222.0h0.95M481.2 224.4h0.95M481.2 226.5h0.95M478.7 226.3h0.95M482.9 225.1h0.95M477.9 224.5h0.95M483.1 225.7h0.95M480.7 221.5h0.95M480.9 221.0h0.95M479.6 223.2h0.95M481.4 222.7h0.95M480.7 224.0h0.95M481.2 225.3h0.95M481.5 223.4h0.95M481.1 222.7h0.95M479.0 222.8h0.95M480.8 219.9h0.95M482.0 224.8h0.95M478.4 221.9h0.95M479.5 219.4h0.95M478.2 224.9h0.95M482.9 227.2h0.95M481.6 226.4h0.95M482.8 222.0h0.95M483.2 222.4h0.95M480.3 218.6h0.95M480.3 220.5h0.95M484.2 224.8h0.95M482.2 223.0h0.95M477.0 222.7h0.95M479.4 220.1h0.95M482.7 224.3h0.95M481.8 227.9h0.95M478.1 227.1h0.95M482.1 220.7h0.95M485.2 224.0h0.95M476.3 218.6h0.95M481.6 228.0h0.95M476.7 218.6h0.95M482.8 224.4h0.95M483.8 218.5h0.95M481.1 222.2h0.95M478.3 227.3h0.95M484.4 224.7h0.95M483.8 226.2h0.95M481.3 227.8h0.95M476.7 227.1h0.95M480.0 220.9h0.95M480.9 227.1h0.95M482.1 225.5h0.95M482.4 221.5h0.95M483.5 224.1h0.95M477.5 219.7h0.95M477.2 222.4h0.95M477.7 223.8h0.95M477.2 225.8h0.95M484.2 226.2h0.95M478.7 225.1h0.95M479.5 221.9h0.95M477.5 226.1h0.95M480.2 220.0h0.95M478.8 220.1h0.95M480.9 226.7h0.95M485.4 223.3h0.95M477.6 226.2h0.95M483.6 219.0h0.95M482.5 224.2h0.95M481.4 219.1h0.95M484.5 223.3h0.95M480.9 220.2h0.95M478.7 224.0h0.95M478.5 224.8h0.95M483.2 227.9h0.95M482.9 223.0h0.95M483.1 221.7h0.95M485.0 221.9h0.95M478.7 227.3h0.95M482.2 219.6h0.95M479.1 221.0h0.95M476.4 218.4h0.95M484.7 224.1h0.95M477.4 222.9h0.95M483.9 219.7h0.95M478.7 223.1h0.95M480.0 228.1h0.95M479.6 224.2h0.95M477.2 220.3h0.95M484.3 220.4h0.95M476.3 225.7h0.95M485.1 221.3h0.95M478.9 223.1h0.95M480.8 221.9h0.95M482.4 226.4h0.95M476.2 222.1h0.95M480.9 226.4h0.95M476.8 227.9h0.95M479.2 218.9h0.95M479.7 218.7h0.95M479.3 218.3h0.95M479.2 222.1h0.95M482.2 227.2h0.95M481.4 226.3h0.95M478.2 219.7h0.95M483.8 226.1h0.95M480.2 225.9h0.95M476.7 226.7h0.95M478.7 222.6h0.95M477.0 226.8h0.95M484.0 218.7h0.95M481.8 220.3h0.95M480.4 223.7h0.95M485.0 222.7h0.95M477.3 222.5h0.95M481.4 218.1h0.95M484.7 225.9h0.95M481.6 220.9h0.95M479.8 221.8h0.95M484.8 220.2h0.95M483.6 226.7h0.95M478.4 227.7h0.95M484.2 224.7h0.95M484.5 222.8h0.95M477.5 221.8h0.95M479.4 227.6h0.95M481.3 224.7h0.95M477.3 221.8h0.95M484.0 218.8h0.95M476.9 221.6h0.95M478.9 223.4h0.95M484.9 225.9h0.95M482.6 222.9h0.95M480.6 223.4h0.95M484.0 226.1h0.95M479.3 218.9h0.95M479.3 222.5h0.95M485.3 219.9h0.95M476.7 223.7h0.95M477.0 224.0h0.95M478.7 225.4h0.95M480.0 220.7h0.95M482.6 221.3h0.95M479.7 226.1h0.95M477.2 226.3h0.95M480.3 227.1h0.95M478.2 220.1h0.95M477.9 220.3h0.95M477.9 223.6h0.95M483.6 219.5h0.95M480.6 227.4h0.95M481.2 227.3h0.95M483.2 218.1h0.95M479.1 226.8h0.95M479.7 226.6h0.95M481.3 218.4h0.95M478.2 219.3h0.95M480.4 226.3h0.95M480.9 218.1h0.95M483.8 218.1h0.95M484.4 224.6h0.95M479.9 221.6h0.95M478.8 222.0h0.95M480.9 228.0h0.95M478.4 226.4h0.95M484.3 224.5h0.95M484.4 224.4h0.95M484.2 219.2h0.95M480.0 225.5h0.95M484.7 220.1h0.95M481.9 222.9h0.95M478.7 223.1h0.95M480.9 218.9h0.95M482.7 223.9h0.95M482.3 220.4h0.95M476.4 223.5h0.95M485.3 224.0h0.95M478.3 224.8h0.95M476.5 219.2h0.95M477.1 219.9h0.95M484.7 224.0h0.95M482.4 222.1h0.95M476.9 224.5h0.95M479.1 220.1h0.95M476.8 227.2h0.95M483.0 221.8h0.95M478.2 228.0h0.95M485.1 223.6h0.95M479.9 226.4h0.95M481.4 221.5h0.95M485.1 227.4h0.95M478.6 228.0h0.95M484.0 228.1h0.95M485.0 221.1h0.95M483.6 219.9h0.95M477.8 220.6h0.95M479.0 221.3h0.95M484.0 224.5h0.95M476.3 226.4h0.95M477.7 226.0h0.95M478.5 227.8h0.95M482.1 224.3h0.95M478.8 226.7h0.95M476.9 226.4h0.95M481.4 222.2h0.95M479.9 218.2h0.95M480.7 222.9h0.95M479.6 220.0h0.95M481.6 222.6h0.95M478.2 220.3h0.95M477.8 218.2h0.95M482.8 219.9h0.95M482.5 221.8h0.95M477.1 220.2h0.95M482.9 221.3h0.95M481.4 218.9h0.95M484.9 222.7h0.95M483.6 220.3h0.95M484.9 220.4h0.95M482.5 227.2h0.95M482.0 219.1h0.95M484.2 226.0h0.95M482.5 224.3h0.95M476.7 221.1h0.95M479.3 220.4h0.95M483.6 219.3h0.95M478.6 219.8h0.95M477.8 226.9h0.95M476.5 218.5h0.95M483.3 221.1h0.95M478.9 219.7h0.95M481.8 219.1h0.95M480.1 224.5h0.95M476.2 222.5h0.95M477.4 218.4h0.95M483.5 218.2h0.95M477.9 227.8h0.95M476.6 222.5h0.95M482.7 223.8h0.95M485.1 222.4h0.95M484.3 220.7h0.95M479.8 228.1h0.95M480.1 224.1h0.95M484.0 226.9h0.95M484.6 218.2h0.95M479.5 227.6h0.95M479.6 220.3h0.95M478.5 226.6h0.95M481.4 221.9h0.95M477.9 220.7h0.95M478.5 223.0h0.95M476.7 223.5h0.95M481.7 225.6h0.95M481.2 225.8h0.95M477.8 226.5h0.95M478.2 221.5h0.95M481.8 219.1h0.95M483.7 226.3h0.95M482.8 221.4h0.95M477.9 220.0h0.95M478.3 224.4h0.95M481.9 220.5h0.95M482.1 213.2h0.95M481.8 215.7h0.95M481.3 212.4h0.95M481.5 216.9h0.95M480.4 217.2h0.95M482.9 217.9h0.95M482.7 215.7h0.95M484.0 215.7h0.95M480.2 218.2h0.95M482.6 220.6h0.95M482.8 219.9h0.95M479.8 218.1h0.95M481.0 212.9h0.95M483.7 215.1h0.95M482.7 219.6h0.95M481.4 215.5h0.95M483.5 217.7h0.95M482.0 218.0h0.95M482.3 219.1h0.95M482.0 219.9h0.95M481.8 214.7h0.95M480.8 219.0h0.95M480.6 218.2h0.95M482.8 216.3h0.95M481.8 214.9h0.95M480.2 218.8h0.95M482.1 215.3h0.95M481.2 216.2h0.95M481.4 216.3h0.95M481.2 222.7h0.95M481.2 214.8h0.95M481.3 220.4h0.95M481.5 219.2h0.95M481.4 216.8h0.95M483.5 203.2h0.95M481.1 204.2h0.95M480.1 198.9h0.95M481.5 201.5h0.95M481.9 199.5h0.95M482.3 202.0h0.95M481.5 203.3h0.95M481.4 205.0h0.95M480.8 203.2h0.95M481.6 197.0h0.95M480.6 201.3h0.95M482.3 199.4h0.95M481.1 201.3h0.95M480.1 201.2h0.95" stroke="#000" stroke-width="0.95" fill="none"/>
<path d="M407.0 288.0h0.95M403.2 283.6h0.95M403.8 279.9h0.95M409.4 283.6h0.95M405.7 284.3h0.95M404.6 281.5h0.95M403.1 285.1h0.95M403.9 287.3h0.95M404.1 286.6h0.95M406.1 282.4h0.95M407.4 285.0h0.95M409.8 284.1h0.95M407.1 287.5h0.95M402.3 281.4h0.95M402.4 287.7h0.95M405.2 288.0h0.95M403.1 287.6h0.95M405.1 287.1h0.95M406.3 285.9h0.95M407.7 281.9h0.95M404.5 288.3h0.95M403.2 287.5h0.95M405.2 286.3h0.95M400.6 283.3h0.95M406.5 282.4h0.95M406.6 287.4h0.95M399.6 285.9h0.95M403.0 282.8h0.95M402.1 286.4h0.95M407.9 284.3h0.95M402.1 288.4h0.95M406.6 285.7h0.95M402.5 282.4h0.95M404.7 289.5h0.95M408.0 283.1h0.95M401.8 285.3h0.95M406.7 283.6h0.95M405.4 288.0h0.95M402.0 290.4h0.95M407.9 285.8h0.95M405.7 287.0h0.95M403.8 287.6h0.95M405.3 283.6h0.95M405.0 284.8h0.95M404.2 287.5h0.95M406.6 288.1h0.95M404.3 287.3h0.95M404.6 290.0h0.95M403.1 288.3h0.95M404.1 281.0h0.95M406.5 282.1h0.95M403.5 285.4h0.95M405.9 285.3h0.95M405.9 286.3h0.95M402.0 288.8h0.95M407.9 284.1h0.95M406.5 284.8h0.95M403.6 284.9h0.95M401.5 283.9h0.95M406.4 288.2h0.95M406.0 286.2h0.95M403.9 288.1h0.95M408.7 286.5h0.95M408.5 285.9h0.95M404.7 288.0h0.95M405.4 285.0h0.95M404.1 285.9h0.95M405.1 281.4h0.95M406.1 290.1h0.95M405.8 286.8h0.95M406.2 287.9h0.95M406.6 284.7h0.95M403.0 286.8h0.95M406.0 284.2h0.95M404.7 286.9h0.95M408.1 284.0h0.95M403.4 285.6h0.95M403.7 284.3h0.95M403.4 288.7h0.95M406.0 286.1h0.95M406.3 287.9h0.95M403.4 287.1h0.95M404.0 281.7h0.95M405.9 284.1h0.95M407.9 284.9h0.95M404.7 283.4h0.95M404.9 285.4h0.95M406.4 283.6h0.95M403.8 282.9h0.95M403.9 284.6h0.95M404.9 283.9h0.95M406.9 283.7h0.95M405.6 285.3h0.95M405.9 285.8h0.95M404.4 285.6h0.95M404.2 285.2h0.95M407.3 287.8h0.95M407.7 283.5h0.95M407.4 286.8h0.95M406.4 284.9h0.95M408.4 283.3h0.95M405.6 282.1h0.95M404.6 286.6h0.95M405.6 286.3h0.95M407.6 282.9h0.95M401.9 288.3h0.95M402.4 284.8h0.95M409.5 287.5h0.95M404.9 288.1h0.95M403.6 287.5h0.95M404.4 283.8h0.95M403.4 284.1h0.95M405.7 290.3h0.95M406.9 288.1h0.95M404.9 290.1h0.95M405.0 289.4h0.95M402.9 287.2h0.95M403.2 284.8h0.95M404.8 280.9h0.95M405.9 285.8h0.95M402.0 285.3h0.95M405.0 281.5h0.95M404.0 288.3h0.95M404.4 285.1h0.95M405.0 285.1h0.95M403.2 285.2h0.95M401.5 286.0h0.95M404.6 282.2h0.95M402.4 286.2h0.95M404.3 284.0h0.95M404.1 286.2h0.95M407.1 284.5h0.95M401.6 283.3h0.95M403.4 286.7h0.95M407.2 286.5h0.95M403.6 288.1h0.95M404.4 282.6h0.95M405.1 283.8h0.95M406.6 283.6h0.95M407.3 287.5h0.95M402.7 284.5h0.95M404.5 283.6h0.95M405.8 285.0h0.95M408.3 286.3h0.95M406.9 288.1h0.95M406.0 287.7h0.95M403.9 288.2h0.95M407.0 288.4h0.95M404.2 284.2h0.95M407.3 285.4h0.95M409.9 286.9h0.95M403.1 287.3h0.95M405.6 280.8h0.95M404.1 280.0h0.95M410.0 282.6h0.95M403.6 284.8h0.95M403.7 288.7h0.95M404.7 282.0h0.95M406.6 286.5h0.95M402.6 288.0h0.95M402.7 283.3h0.95M407.9 284.3h0.95M405.3 283.5h0.95M404.6 280.4h0.95M404.6 283.6h0.95M406.9 284.5h0.95M403.6 284.4h0.95M401.6 286.7h0.95M401.9 282.4h0.95M405.7 284.8h0.95M408.9 282.0h0.95M405.8 290.2h0.95M404.0 282.3h0.95M407.1 290.4h0.95M403.7 287.7h0.95M406.4 285.9h0.95M406.7 284.9h0.95M406.4 284.9h0.95M404.9 282.8h0.95M405.1 285.3h0.95M403.5 283.7h0.95M404.5 289.2h0.95M406.1 287.3h0.95M407.6 287.4h0.95M408.3 289.2h0.95M406.5 285.4h0.95M405.4 285.4h0.95M403.8 281.7h0.95M406.0 282.2h0.95M406.5 290.1h0.95M405.4 283.2h0.95M404.0 287.2h0.95M405.0 284.5h0.95M405.7 282.6h0.95M403.3 286.6h0.95M403.9 287.2h0.95M404.3 285.8h0.95M404.9 288.9h0.95M404.7 285.8h0.95M403.1 286.0h0.95M404.9 286.4h0.95M401.4 287.2h0.95M405.3 286.4h0.95M405.9 288.2h0.95M403.4 284.3h0.95M405.6 281.8h0.95M409.3 280.5h0.95M406.2 284.4h0.95M406.4 289.4h0.95M408.7 283.8h0.95M405.3 283.7h0.95M402.7 285.9h0.95M404.0 282.4h0.95M404.6 284.1h0.95M403.1 286.1h0.95M406.2 286.6h0.95M403.9 283.3h0.95M401.0 287.4h0.95M407.0 283.4h0.95M402.7 282.6h0.95M407.8 285.1h0.95M404.4 285.8h0.95M405.2 284.8h0.95M404.9 287.2h0.95M406.9 282.8h0.95M404.9 285.4h0.95M406.4 287.5h0.95M405.0 287.0h0.95M407.4 288.7h0.95M403.7 286.1h0.95M405.8 282.9h0.95M404.6 284.4h0.95M406.8 285.7h0.95M408.9 287.0h0.95M404.4 286.3h0.95M405.4 283.6h0.95M405.9 282.1h0.95M405.6 284.4h0.95M405.4 283.9h0.95M408.4 283.9h0.95M406.7 285.8h0.95M407.3 283.9h0.95M402.9 287.4h0.95M407.1 287.3h0.95M398.1 289.9h0.95M407.9 285.7h0.95M403.5 286.9h0.95M402.0 284.8h0.95M406.3 289.1h0.95M404.5 285.1h0.95M402.7 285.3h0.95M403.9 285.6h0.95M403.8 286.7h0.95M405.0 283.9h0.95M406.3 286.9h0.95M404.7 285.2h0.95M406.7 286.9h0.95M404.9 290.5h0.95M404.3 282.4h0.95M404.0 286.1h0.95M402.0 290.4h0.95M406.9 283.2h0.95M405.9 282.4h0.95M405.1 285.0h0.95M408.0 281.0h0.95M404.3 280.9h0.95M404.3 284.8h0.95M405.2 288.2h0.95M403.5 284.2h0.95M407.9 285.7h0.95M403.4 285.7h0.95M403.2 283.4h0.95M404.2 281.8h0.95M408.5 284.6h0.95M405.6 285.0h0.95M405.0 283.6h0.95M406.0 284.5h0.95M403.6 287.9h0.95M408.0 286.7h0.95M406.1 284.8h0.95M405.4 287.4h0.95M405.3 288.9h0.95M407.8 286.2h0.95M405.6 283.5h0.95M404.4 284.0h0.95M404.6 283.4h0.95M405.9 286.4h0.95M404.9 289.7h0.95M405.7 285.5h0.95M405.5 284.1h0.95M406.6 283.3h0.95M405.1 290.6h0.95M405.7 283.0h0.95M403.1 288.5h0.95M401.8 289.7h0.95M407.6 284.5h0.95M405.7 284.4h0.95M403.5 286.7h0.95M403.9 287.1h0.95M405.8 284.1h0.95M405.3 285.7h0.95M404.9 285.1h0.95M407.4 283.8h0.95M405.5 288.2h0.95M405.9 284.6h0.95M403.1 284.9h0.95M401.6 284.5h0.95M405.1 288.9h0.95M406.3 288.2h0.95M406.0 286.2h0.95M402.3 284.2h0.95M404.8 285.4h0.95M402.9 281.8h0.95M405.5 284.9h0.95M405.2 285.1h0.95M404.8 282.8h0.95M406.8 286.6h0.95M405.1 289.9h0.95M403.9 287.6h0.95M405.1 285.7h0.95M406.8 285.6h0.95M405.1 282.6h0.95M405.7 286.6h0.95M404.4 282.7h0.95M407.0 286.0h0.95M407.3 285.4h0.95M409.9 282.6h0.95M406.5 286.0h0.95M405.6 285.1h0.95M406.2 287.7h0.95M405.4 283.1h0.95M407.0 288.0h0.95M403.1 286.2h0.95M408.0 287.1h0.95M404.3 286.3h0.95M405.8 282.9h0.95M404.7 284.8h0.95M404.6 288.9h0.95M401.9 283.1h0.95M403.9 288.7h0.95M405.0 285.0h0.95M404.8 289.4h0.95M408.7 286.2h0.95M403.4 284.9h0.95M402.0 287.9h0.95M404.8 288.3h0.95M404.1 283.8h0.95M401.3 286.2h0.95M407.1 280.4h0.95M403.2 285.4h0.95M407.1 290.2h0.95M408.2 286.3h0.95M402.6 283.6h0.95M406.1 285.6h0.95M403.7 285.4h0.95M404.6 287.0h0.95M405.7 287.5h0.95M403.9 289.2h0.95M407.7 286.9h0.95M403.2 283.0h0.95M404.8 285.3h0.95M403.6 285.3h0.95M402.3 285.2h0.95M402.7 286.3h0.95M400.7 283.8h0.95M404.4 282.1h0.95M404.4 285.1h0.95M407.6 287.3h0.95M404.4 287.6h0.95M405.1 287.6h0.95M404.4 286.3h0.95M404.6 287.9h0.95M408.4 289.5h0.95M407.8 285.2h0.95M408.1 284.9h0.95M405.1 283.4h0.95M406.9 281.7h0.95M405.0 287.3h0.95M403.1 286.8h0.95M403.2 284.8h0.95M405.8 289.0h0.95M409.0 283.2h0.95M402.1 283.8h0.95M405.6 285.3h0.95M402.8 283.5h0.95M405.6 285.7h0.95M408.9 282.8h0.95M402.9 288.3h0.95M404.2 285.9h0.95M407.4 284.2h0.95M404.7 285.7h0.95M405.2 289.8h0.95M407.8 284.0h0.95M407.5 281.9h0.95M403.9 283.9h0.95M404.0 286.0h0.95M405.7 283.4h0.95M405.9 284.0h0.95M406.1 286.3h0.95M403.1 283.4h0.95M406.6 286.2h0.95M405.6 285.8h0.95M407.4 287.2h0.95M404.2 286.8h0.95M403.6 285.6h0.95M404.7 284.5h0.95M403.9 288.4h0.95M403.9 286.0h0.95M403.4 288.7h0.95M403.8 287.8h0.95M406.1 287.4h0.95M404.5 282.3h0.95M403.9 285.9h0.95M403.1 284.2h0.95M405.6 286.4h0.95M406.7 287.2h0.95M407.0 286.9h0.95M405.0 286.7h0.95M406.4 288.2h0.95M406.1 285.5h0.95M403.7 288.3h0.95M406.7 284.5h0.95M405.2 284.6h0.95M405.3 290.4h0.95M404.7 285.6h0.95M405.1 285.5h0.95M405.7 283.4h0.95M406.3 285.0h0.95M407.0 286.7h0.95M405.0 287.3h0.95M408.0 289.1h0.95M404.0 289.1h0.95M404.9 286.7h0.95M404.7 285.7h0.95M406.0 286.8h0.95M406.3 285.4h0.95M403.9 285.6h0.95M404.8 287.1h0.95M407.8 286.7h0.95M407.8 288.1h0.95M406.6 283.1h0.95M404.7 286.3h0.95M405.2 282.7h0.95M405.6 289.8h0.95M407.2 286.9h0.95M406.0 286.4h0.95M402.1 287.4h0.95M406.6 283.7h0.95M408.6 287.9h0.95M405.9 289.1h0.95M403.8 286.2h0.95M403.0 288.2h0.95M405.9 290.7h0.95M406.3 285.6h0.95M402.3 285.8h0.95M404.7 286.3h0.95M404.4 285.8h0.95M405.4 285.3h0.95M404.0 286.0h0.95M403.0 282.1h0.95M405.1 284.5h0.95M403.0 286.1h0.95M405.2 288.8h0.95M404.4 286.4h0.95M404.9 285.2h0.95M403.2 282.7h0.95M402.5 284.3h0.95M403.9 285.4h0.95M402.5 286.9h0.95M405.7 284.0h0.95M404.1 285.5h0.95M406.1 288.6h0.95M406.0 287.7h0.95M407.0 287.7h0.95M405.5 287.4h0.95M406.6 286.7h0.95M406.7 285.4h0.95M403.6 286.3h0.95M406.0 290.2h0.95M404.9 284.4h0.95M402.6 284.7h0.95M404.7 285.6h0.95M405.7 286.4h0.95M404.3 285.9h0.95M403.3 285.2h0.95M405.6 283.1h0.95M404.7 284.9h0.95M405.3 287.5h0.95M405.0 288.2h0.95M404.4 287.0h0.95M403.8 283.3h0.95M403.7 285.8h0.95M405.9 289.8h0.95M405.8 287.6h0.95M403.9 289.6h0.95M404.2 286.1h0.95M408.0 288.1h0.95M408.3 285.2h0.95M405.8 284.1h0.95M405.7 285.2h0.95M407.1 287.4h0.95M402.7 285.7h0.95M404.0 286.5h0.95M406.7 284.1h0.95M404.8 287.6h0.95M403.9 285.6h0.95M404.2 288.3h0.95M406.3 284.2h0.95M406.7 289.4h0.95M404.7 287.0h0.95M406.0 287.7h0.95M408.4 286.6h0.95M404.7 286.8h0.95M405.0 282.9h0.95M406.4 286.9h0.95M404.0 284.7h0.95M402.9 286.7h0.95M405.6 286.7h0.95M406.6 285.9h0.95M403.5 286.5h0.95M407.5 289.0h0.95M405.2 290.0h0.95M403.8 285.3h0.95M404.6 290.2h0.95M400.9 286.9h0.95M405.3 284.7h0.95M405.8 282.6h0.95M405.5 284.5h0.95M404.1 286.9h0.95M405.0 285.4h0.95M405.2 285.0h0.95M407.1 287.0h0.95M405.6 289.0h0.95M407.9 283.5h0.95M405.4 284.1h0.95M406.1 285.3h0.95M404.2 285.9h0.95M406.9 284.5h0.95M405.7 285.9h0.95M404.7 286.6h0.95M407.8 285.6h0.95M405.5 287.1h0.95M403.0 285.9h0.95M406.0 287.1h0.95M405.3 284.5h0.95M404.7 287.5h0.95M404.1 288.1h0.95M405.8 289.4h0.95M402.9 286.3h0.95M402.9 284.3h0.95M408.0 287.7h0.95M405.7 284.4h0.95M405.2 287.3h0.95M407.1 282.6h0.95M405.1 284.2h0.95M408.4 289.4h0.95M405.2 285.8h0.95M407.3 289.5h0.95M404.6 288.2h0.95M405.6 286.8h0.95M403.1 290.3h0.95M405.1 284.4h0.95M403.2 289.3h0.95M405.6 288.2h0.95M405.4 283.8h0.95M404.9 284.9h0.95M403.6 286.7h0.95M404.1 287.0h0.95M405.4 285.4h0.95M403.9 285.9h0.95M406.7 288.4h0.95M406.9 284.8h0.95M403.9 286.8h0.95M405.1 287.6h0.95M405.8 283.7h0.95M405.5 289.2h0.95M405.0 286.3h0.95M405.3 283.4h0.95M406.2 287.2h0.95M406.4 285.3h0.95M404.2 284.4h0.95M405.0 286.3h0.95M406.0 284.6h0.95M404.1 284.2h0.95M404.5 288.0h0.95M406.5 286.4h0.95M406.8 287.2h0.95M404.5 287.6h0.95M403.4 285.0h0.95M405.5 286.4h0.95M404.2 285.8h0.95M403.6 284.9h0.95M409.1 287.5h0.95M406.6 288.7h0.95M402.9 287.8h0.95M404.1 283.7h0.95M404.4 286.6h0.95M406.7 288.4h0.95M405.4 288.7h0.95M402.3 286.1h0.95M402.9 281.6h0.95M404.9 285.9h0.95M405.9 286.0h0.95M403.8 285.5h0.95M401.0 284.1h0.95M404.9 285.5h0.95M403.0 285.4h0.95M404.3 286.6h0.95M406.0 285.6h0.95M406.1 284.9h0.95M404.3 287.0h0.95M404.6 287.7h0.95M406.4 285.2h0.95M408.3 287.7h0.95M404.3 284.1h0.95M405.0 286.4h0.95M406.1 287.0h0.95M406.1 283.5h0.95M404.3 286.2h0.95M406.3 286.1h0.95M405.5 284.4h0.95M406.9 286.5h0.95M403.3 285.8h0.95M404.8 286.6h0.95M408.0 284.1h0.95M407.1 284.0h0.95M405.0 284.2h0.95M405.1 288.4h0.95M407.7 288.1h0.95M405.0 287.9h0.95M403.0 286.1h0.95M404.1 282.3h0.95M404.7 283.9h0.95M406.9 284.6h0.95M406.9 285.9h0.95M406.7 287.5h0.95M407.2 284.6h0.95M403.3 286.7h0.95M408.6 288.7h0.95M405.3 288.4h0.95M403.1 280.5h0.95M400.9 285.7h0.95M404.4 280.5h0.95M401.8 288.0h0.95M401.0 287.4h0.95M404.2 285.9h0.95M407.0 283.4h0.95M407.3 282.7h0.95M405.1 285.8h0.95M404.1 285.7h0.95M407.9 285.9h0.95M401.6 281.9h0.95M404.4 286.5h0.95M406.2 281.5h0.95M408.0 289.6h0.95M403.9 283.3h0.95M402.5 286.7h0.95M400.7 281.8h0.95M409.6 285.2h0.95M407.9 290.2h0.95M404.3 288.3h0.95M401.2 285.3h0.95M408.3 289.0h0.95M408.0 286.6h0.95M406.6 284.0h0.95M408.8 286.2h0.95M401.5 285.4h0.95M401.8 281.6h0.95M400.8 285.5h0.95M401.5 283.4h0.95M404.0 290.0h0.95M409.5 281.7h0.95M408.4 285.0h0.95M407.3 285.3h0.95M403.1 284.5h0.95M406.2 287.7h0.95M408.5 283.3h0.95M409.3 290.2h0.95M400.6 285.1h0.95M402.3 284.9h0.95M401.5 289.8h0.95M409.5 282.5h0.95M401.8 285.2h0.95M407.4 283.5h0.95M406.7 287.9h0.95M402.4 285.0h0.95M409.2 282.0h0.95M404.6 285.2h0.95M401.3 290.4h0.95M403.0 286.5h0.95M409.1 280.4h0.95M407.6 286.2h0.95M409.4 287.9h0.95M402.1 280.7h0.95M408.5 284.2h0.95M405.8 282.6h0.95M406.3 285.7h0.95M409.2 283.2h0.95M409.2 282.5h0.95M408.3 282.8h0.95M409.3 287.8h0.95M402.5 288.5h0.95M409.2 288.0h0.95M404.7 282.5h0.95M402.6 285.9h0.95M403.8 282.5h0.95M407.1 282.0h0.95M401.7 289.2h0.95M401.3 282.6h0.95M403.2 288.4h0.95M403.9 286.7h0.95M404.0 283.4h0.95M408.2 281.1h0.95M403.8 280.8h0.95M406.7 283.1h0.95M409.1 287.5h0.95M407.7 285.0h0.95M405.8 286.0h0.95M400.7 289.5h0.95M401.8 285.0h0.95M406.3 286.3h0.95M403.0 284.2h0.95M407.7 285.4h0.95M407.4 287.5h0.95M407.8 286.4h0.95M406.8 289.1h0.95M406.2 284.2h0.95M409.1 284.0h0.95M406.9 281.9h0.95M407.9 281.2h0.95M405.5 285.5h0.95M408.0 288.1h0.95M404.6 289.2h0.95M407.3 283.5h0.95M405.5 287.3h0.95M409.0 285.7h0.95M402.8 289.6h0.95M409.5 282.6h0.95M404.0 287.8h0.95M409.3 284.6h0.95M401.5 284.1h0.95M401.3 288.6h0.95M402.6 282.8h0.95M407.2 284.6h0.95M406.6 281.8h0.95M400.7 285.6h0.95M408.4 284.1h0.95M408.9 284.0h0.95M404.6 287.6h0.95M402.6 286.6h0.95M409.8 288.0h0.95M406.7 290.0h0.95M407.6 286.2h0.95M401.1 286.8h0.95M406.7 289.6h0.95M401.5 288.6h0.95M402.0 288.4h0.95M408.4 283.7h0.95M400.7 280.7h0.95M405.5 282.0h0.95M405.8 290.4h0.95M407.4 289.7h0.95M407.9 282.5h0.95M401.3 290.3h0.95M409.5 284.1h0.95M406.0 289.7h0.95M403.4 284.3h0.95M405.3 289.3h0.95M401.2 286.3h0.95M405.5 284.4h0.95M402.4 284.9h0.95M406.0 281.6h0.95M407.3 285.3h0.95M403.9 283.7h0.95M406.5 282.5h0.95M406.4 285.0h0.95M401.1 283.0h0.95M401.1 281.4h0.95M402.7 282.2h0.95M405.9 283.1h0.95M404.0 287.8h0.95M400.7 282.9h0.95M402.0 283.1h0.95M401.6 283.9h0.95M407.7 280.5h0.95M401.5 285.6h0.95M402.4 285.3h0.95M405.2 282.8h0.95M404.1 287.3h0.95M400.7 282.5h0.95M405.7 281.3h0.95M404.8 290.2h0.95M401.6 283.3h0.95M405.9 283.6h0.95M405.5 281.5h0.95M406.6 285.0h0.95M409.3 289.0h0.95M402.1 281.4h0.95M401.7 288.3h0.95M403.6 282.5h0.95M401.1 284.0h0.95M406.3 290.2h0.95M403.5 288.6h0.95M409.6 284.4h0.95M402.2 280.7h0.95M402.9 282.6h0.95M406.0 283.7h0.95M407.3 286.1h0.95M406.1 287.1h0.95M404.4 287.0h0.95M401.2 285.0h0.95M404.8 285.0h0.95M407.6 286.6h0.95M401.1 285.5h0.95M408.0 289.6h0.95M403.5 289.7h0.95M403.6 288.6h0.95M408.4 282.8h0.95M406.5 285.5h0.95M407.2 289.9h0.95M402.1 290.3h0.95M400.8 280.6h0.95M405.6 282.2h0.95M403.6 285.6h0.95M405.5 283.2h0.95M401.7 289.1h0.95M407.0 288.8h0.95M409.2 289.2h0.95M405.2 281.0h0.95M408.9 283.9h0.95M406.5 282.0h0.95M404.2 287.2h0.95M404.8 281.5h0.95M404.0 284.8h0.95M409.3 289.2h0.95M408.4 280.4h0.95M409.3 287.5h0.95M400.9 285.3h0.95M409.0 284.6h0.95M405.8 283.4h0.95M409.6 283.7h0.95M402.2 288.1h0.95M406.1 288.8h0.95M406.4 283.9h0.95M408.1 285.8h0.95M405.5 283.7h0.95M403.9 280.4h0.95M407.5 287.6h0.95M404.2 282.6h0.95M401.9 281.5h0.95M406.0 286.3h0.95M405.4 288.5h0.95M404.4 285.3h0.95M403.3 285.3h0.95M400.8 289.4h0.95M408.0 286.1h0.95M407.2 290.0h0.95M403.3 289.9h0.95M402.2 286.6h0.95M406.5 281.2h0.95M407.9 281.6h0.95M401.9 283.0h0.95M406.7 290.0h0.95M406.3 281.0h0.95M404.6 287.7h0.95M401.1 286.7h0.95M405.0 286.9h0.95M404.1 286.5h0.95M401.8 281.3h0.95M401.5 284.4h0.95M409.5 277.0h0.95M406.3 281.9h0.95M407.2 274.3h0.95M407.6 279.0h0.95M404.8 283.8h0.95M406.0 281.7h0.95M406.9 281.3h0.95M407.5 280.8h0.95M407.8 280.1h0.95M405.0 283.1h0.95M406.3 281.7h0.95M404.3 274.5h0.95M406.3 280.6h0.95M408.1 277.3h0.95M405.1 280.6h0.95M407.7 280.7h0.95M406.8 281.8h0.95M408.9 283.2h0.95M405.8 276.6h0.95M403.9 279.4h0.95M405.0 280.3h0.95M406.0 275.0h0.95M407.4 281.4h0.95M405.1 277.2h0.95M408.0 280.6h0.95M405.8 277.9h0.95M405.3 283.4h0.95M405.2 280.0h0.95M405.7 279.7h0.95M404.6 282.8h0.95M406.3 281.8h0.95M404.9 279.6h0.95M408.7 279.9h0.95M405.6 277.0h0.95M405.3 281.2h0.95M405.8 263.2h0.95M407.7 268.6h0.95M406.2 271.2h0.95M405.9 263.8h0.95M404.5 262.4h0.95M405.5 270.5h0.95M405.0 264.6h0.95M406.5 265.9h0.95M403.7 264.3h0.95M404.9 264.4h0.95M404.0 263.7h0.95M406.0 262.0h0.95M406.5 265.6h0.95M407.3 261.9h0.95M404.8 264.7h0.95M406.4 263.3h0.95M404.4 264.7h0.95M407.7 262.5h0.95M407.0 261.7h0.95M407.2 261.4h0.95M407.6 264.5h0.95M407.7 263.7h0.95M404.7 262.4h0.95M405.1 265.3h0.95M405.6 266.0h0.95M406.2 263.6h0.95M405.7 264.1h0.95M406.9 267.8h0.95M405.8 264.8h0.95M407.6 268.0h0.95M405.3 261.9h0.95M405.7 267.7h0.95M405.8 267.0h0.95M406.2 266.1h0.95M406.9 264.4h0.95M405.6 264.9h0.95M409.2 262.4h0.95M407.3 264.2h0.95M404.8 264.5h0.95M407.4 261.8h0.95" stroke="#000" stroke-width="0.95" fill="none"/>
<path d="M478.1 287.4h0.95M477.6 288.6h0.95M482.4 283.8h0.95M480.5 288.5h0.95M482.0 280.4h0.95M477.4 285.8h0.95M482.4 289.6h0.95M481.0 285.2h0.95M478.6 287.4h0.95M483.9 287.6h0.95M478.7 285.4h0.95M482.3 286.3h0.95M481.3 284.0h0.95M475.9 287.4h0.95M483.7 284.5h0.95M480.7 280.8h0.95M482.9 282.9h0.95M480.5 286.0h0.95M480.9 284.1h0.95M481.2 286.0h0.95M478.1 283.0h0.95M483.4 286.2h0.95M479.1 288.8h0.95M482.4 283.7h0.95M480.0 286.5h0.95M477.3 281.2h0.95M479.1 289.0h0.95M479.8 289.7h0.95M477.0 284.8h0.95M480.9 288.5h0.95M481.8 288.4h0.95M481.6 286.0h0.95M483.3 287.7h0.95M479.1 287.9h0.95M481.5 286.1h0.95M481.4 284.9h0.95M479.6 281.5h0.95M479.5 289.2h0.95M475.4 284.6h0.95M481.5 287.3h0.95M477.3 285.5h0.95M480.7 288.4h0.95M480.5 283.9h0.95M481.4 285.9h0.95M478.2 285.7h0.95M480.8 285.4h0.95M479.4 285.5h0.95M480.4 287.4h0.95M478.2 284.3h0.95M481.5 284.5h0.95M478.5 282.4h0.95M477.6 283.1h0.95M480.1 287.2h0.95M480.6 286.0h0.95M481.4 285.4h0.95M477.8 285.9h0.95M480.0 282.1h0.95M479.8 285.0h0.95M480.1 284.8h0.95M484.7 286.4h0.95M480.0 285.5h0.95M480.2 288.4h0.95M480.3 288.0h0.95M478.5 286.2h0.95M480.1 286.1h0.95M478.0 284.0h0.95M477.3 286.7h0.95M482.7 285.5h0.95M477.6 284.7h0.95M482.3 281.5h0.95M479.6 285.9h0.95M479.4 286.3h0.95M481.1 286.5h0.95M482.0 288.3h0.95M477.3 282.9h0.95M479.8 285.9h0.95M480.6 282.7h0.95M477.9 290.1h0.95M480.5 286.5h0.95M483.5 280.8h0.95M480.7 285.0h0.95M480.0 289.2h0.95M480.1 282.0h0.95M478.1 282.3h0.95M482.4 284.1h0.95M478.1 285.1h0.95M477.7 286.7h0.95M480.5 286.2h0.95M482.4 284.6h0.95M482.0 281.4h0.95M482.0 290.2h0.95M478.7 287.6h0.95M478.4 285.9h0.95M481.2 284.3h0.95M478.2 285.4h0.95M480.1 286.6h0.95M480.4 281.2h0.95M482.3 286.8h0.95M477.4 285.2h0.95M480.0 284.2h0.95M482.6 285.5h0.95M480.2 281.6h0.95M478.3 286.7h0.95M483.8 286.6h0.95M479.9 284.7h0.95M478.1 282.6h0.95M481.7 290.3h0.95M479.7 283.5h0.95M477.3 284.5h0.95M482.2 281.4h0.95M479.7 288.7h0.95M483.3 283.9h0.95M480.8 286.9h0.95M480.6 285.4h0.95M480.6 286.1h0.95M479.9 285.1h0.95M480.3 288.4h0.95M478.6 289.4h0.95M482.3 286.0h0.95M484.9 287.7h0.95M483.8 283.4h0.95M476.0 287.5h0.95M480.4 284.0h0.95M478.3 287.0h0.95M481.9 288.5h0.95M480.2 284.6h0.95M477.7 283.2h0.95M482.9 282.3h0.95M480.1 284.4h0.95M479.0 282.4h0.95M479.5 286.9h0.95M479.7 286.5h0.95M479.0 283.0h0.95M481.8 285.3h0.95M479.8 287.0h0.95M482.1 284.2h0.95M480.4 285.1h0.95M482.8 282.2h0.95M478.9 285.4h0.95M475.6 281.8h0.95M481.2 288.4h0.95M483.4 284.9h0.95M481.3 285.7h0.95M478.8 286.2h0.95M480.2 288.9h0.95M479.8 282.0h0.95M480.7 284.1h0.95M480.5 286.6h0.95M476.9 281.3h0.95M480.9 287.7h0.95M479.1 285.5h0.95M481.2 284.1h0.95M480.1 284.3h0.95M482.2 285.6h0.95M478.4 286.2h0.95M478.9 284.8h0.95M477.9 285.0h0.95M481.8 287.4h0.95M481.4 283.4h0.95M480.2 285.5h0.95M479.8 284.9h0.95M477.4 290.4h0.95M478.8 286.0h0.95M480.6 282.8h0.95M479.1 286.5h0.95M480.2 286.9h0.95M478.3 285.4h0.95M478.4 285.7h0.95M479.0 284.3h0.95M481.4 288.4h0.95M480.1 286.2h0.95M478.4 284.4h0.95M479.4 286.6h0.95M483.5 280.9h0.95M482.4 289.1h0.95M481.4 284.8h0.95M481.7 281.9h0.95M477.7 286.0h0.95M479.1 287.5h0.95M478.6 280.9h0.95M479.9 287.1h0.95M477.4 285.8h0.95M480.4 286.7h0.95M481.8 286.3h0.95M479.0 282.3h0.95M481.4 284.9h0.95M482.0 288.7h0.95M479.1 284.2h0.95M482.7 286.1h0.95M478.1 285.2h0.95M479.5 288.7h0.95M477.8 284.0h0.95M481.8 287.8h0.95M480.7 284.3h0.95M478.5 279.1h0.95M481.5 286.3h0.95M480.4 282.4h0.95M476.9 284.6h0.95M479.4 288.7h0.95M484.7 282.2h0.95M478.8 287.7h0.95M482.1 287.6h0.95M480.0 284.3h0.95M479.4 282.1h0.95M478.9 283.6h0.95M482.4 289.2h0.95M480.8 281.7h0.95M479.9 284.3h0.95M482.6 283.1h0.95M481.0 285.5h0.95M481.9 284.1h0.95M483.4 286.5h0.95M479.9 285.1h0.95M479.4 288.4h0.95M481.8 285.0h0.95M485.6 286.8h0.95M482.1 289.7h0.95M482.4 286.8h0.95M478.4 283.3h0.95M481.8 285.4h0.95M479.7 288.8h0.95M481.6 289.3h0.95M479.7 283.1h0.95M480.1 287.9h0.95M478.2 285.5h0.95M481.4 286.2h0.95M481.2 279.3h0.95M481.3 288.1h0.95M478.5 286.5h0.95M480.2 285.6h0.95M486.6 284.8h0.95M477.9 283.6h0.95M479.0 285.8h0.95M481.0 284.4h0.95M484.9 286.8h0.95M480.3 284.7h0.95M480.7 283.4h0.95M479.9 284.3h0.95M481.8 283.6h0.95M478.1 284.5h0.95M482.4 286.6h0.95M479.5 285.4h0.95M478.8 283.5h0.95M480.9 283.9h0.95M478.6 284.7h0.95M480.4 287.0h0.95M479.3 286.1h0.95M481.1 290.0h0.95M480.5 280.0h0.95M480.9 283.0h0.95M481.0 286.0h0.95M478.3 279.6h0.95M481.2 283.5h0.95M482.3 282.0h0.95M477.8 281.8h0.95M480.7 289.3h0.95M480.6 282.5h0.95M481.4 281.9h0.95M480.4 289.4h0.95M480.1 281.9h0.95M480.2 286.5h0.95M477.3 286.8h0.95M480.4 279.8h0.95M481.2 282.9h0.95M479.4 288.5h0.95M481.5 284.1h0.95M483.2 284.2h0.95M483.7 284.9h0.95M478.1 283.1h0.95M476.6 284.0h0.95M480.0 290.1h0.95M479.7 283.1h0.95M481.0 285.8h0.95M482.5 282.8h0.95M481.7 282.9h0.95M479.4 288.0h0.95M479.2 286.8h0.95M479.4 288.0h0.95M480.9 286.8h0.95M483.4 282.6h0.95M481.7 286.1h0.95M478.3 285.4h0.95M480.9 282.7h0.95M479.3 288.8h0.95M479.6 282.1h0.95M484.8 289.9h0.95M479.4 286.6h0.95M479.7 286.6h0.95M480.7 283.8h0.95M480.9 285.1h0.95M475.3 289.2h0.95M478.9 290.3h0.95M477.6 284.5h0.95M483.5 283.7h0.95M480.5 289.5h0.95M478.4 288.1h0.95M480.7 283.6h0.95M480.4 287.1h0.95M480.9 284.3h0.95M481.0 286.3h0.95M478.3 282.2h0.95M478.8 285.4h0.95M480.1 287.5h0.95M479.8 285.4h0.95M482.6 282.4h0.95M476.9 289.2h0.95M482.2 283.5h0.95M482.7 286.4h0.95M479.0 289.9h0.95M477.3 283.6h0.95M480.5 287.6h0.95M480.5 288.0h0.95M478.2 285.0h0.95M483.0 284.8h0.95M479.2 284.1h0.95M480.3 285.0h0.95M475.9 281.0h0.95M483.2 289.0h0.95M480.1 287.9h0.95M478.9 287.2h0.95M482.2 284.4h0.95M479.8 286.4h0.95M482.4 284.4h0.95M481.7 285.5h0.95M479.1 288.5h0.95M483.1 282.4h0.95M480.6 284.7h0.95M478.0 285.9h0.95M480.2 284.0h0.95M477.7 287.6h0.95M482.4 285.8h0.95M476.3 287.3h0.95M483.4 285.4h0.95M477.2 282.4h0.95M480.1 284.6h0.95M479.7 285.5h0.95M481.6 289.6h0.95M481.1 285.0h0.95M479.3 281.5h0.95M483.0 284.7h0.95M480.0 282.0h0.95M481.1 285.4h0.95M478.8 286.8h0.95M484.8 284.9h0.95M479.9 287.1h0.95M479.0 284.8h0.95M483.2 284.9h0.95M480.6 283.3h0.95M477.9 284.8h0.95M480.1 282.5h0.95M479.3 286.5h0.95M480.7 289.9h0.95M478.8 282.6h0.95M481.1 284.6h0.95M481.4 283.7h0.95M476.8 290.3h0.95M479.4 287.2h0.95M483.3 284.4h0.95M477.6 286.2h0.95M481.5 286.9h0.95M477.0 284.8h0.95M484.4 282.4h0.95M482.7 281.8h0.95M479.1 282.4h0.95M482.4 288.1h0.95M481.3 283.4h0.95M481.2 286.8h0.95M483.3 282.4h0.95M480.0 287.2h0.95M480.0 283.0h0.95M481.9 288.5h0.95M481.2 285.3h0.95M479.6 285.0h0.95M479.7 284.9h0.95M477.9 284.5h0.95M480.5 283.0h0.95M483.0 289.7h0.95M478.6 282.6h0.95M475.9 285.6h0.95M478.9 285.1h0.95M477.3 286.3h0.95M478.3 286.1h0.95M479.7 287.5h0.95M479.1 287.4h0.95M479.4 282.3h0.95M482.1 285.7h0.95M483.3 285.6h0.95M478.7 282.5h0.95M480.9 282.2h0.95M480.0 281.1h0.95M482.9 287.3h0.95M481.1 283.9h0.95M477.5 289.2h0.95M481.6 284.8h0.95M478.1 285.6h0.95M479.2 284.8h0.95M477.5 289.0h0.95M481.1 285.4h0.95M481.6 284.5h0.95M481.8 287.6h0.95M482.3 286.4h0.95M480.0 289.0h0.95M480.1 285.2h0.95M481.9 285.6h0.95M481.6 288.7h0.95M479.1 286.3h0.95M480.5 286.1h0.95M479.9 289.1h0.95M480.5 286.8h0.95M480.4 285.3h0.95M480.8 288.3h0.95M478.8 287.4h0.95M482.6 288.0h0.95M482.4 286.6h0.95M479.5 285.4h0.95M480.1 284.8h0.95M482.3 288.5h0.95M481.0 287.3h0.95M479.6 283.9h0.95M480.1 285.5h0.95M479.8 284.6h0.95M480.0 287.2h0.95M480.4 289.2h0.95M480.1 289.5h0.95M480.2 286.6h0.95M480.7 286.5h0.95M479.0 283.1h0.95M477.9 285.3h0.95M479.5 286.0h0.95M480.5 288.3h0.95M477.7 284.9h0.95M481.1 284.7h0.95M480.9 284.9h0.95M478.3 284.9h0.95M479.6 283.3h0.95M480.0 284.9h0.95M481.8 283.8h0.95M480.9 285.0h0.95M479.2 287.5h0.95M481.3 284.3h0.95M478.3 283.4h0.95M479.1 288.2h0.95M479.0 286.5h0.95M478.3 286.2h0.95M482.0 287.7h0.95M479.7 287.5h0.95M478.9 283.0h0.95M479.2 282.9h0.95M481.0 288.2h0.95M480.4 287.2h0.95M479.9 285.4h0.95M481.2 284.3h0.95M477.5 287.8h0.95M479.1 290.1h0.95M479.8 283.5h0.95M481.0 284.2h0.95M478.7 288.6h0.95M481.4 289.2h0.95M482.9 289.2h0.95M481.5 285.8h0.95M479.1 289.0h0.95M482.0 285.7h0.95M478.6 287.2h0.95M482.6 288.9h0.95M478.9 283.8h0.95M480.7 285.5h0.95M479.7 289.4h0.95M481.1 288.7h0.95M479.0 286.3h0.95M482.0 287.7h0.95M482.2 288.5h0.95M480.8 285.6h0.95M479.1 284.2h0.95M479.3 285.4h0.95M480.4 285.5h0.95M480.7 288.3h0.95M479.6 286.8h0.95M482.1 284.5h0.95M479.7 288.2h0.95M480.8 287.7h0.95M479.7 286.2h0.95M481.3 285.3h0.95M482.7 287.2h0.95M480.3 282.8h0.95M482.7 289.2h0.95M481.3 288.9h0.95M482.6 286.2h0.95M478.6 288.3h0.95M478.1 286.0h0.95M477.3 284.3h0.95M480.3 284.4h0.95M480.3 283.4h0.95M480.2 289.5h0.95M479.5 285.9h0.95M478.6 285.4h0.95M477.5 286.0h0.95M479.3 282.3h0.95M481.8 289.9h0.95M480.4 286.2h0.95M477.5 288.2h0.95M482.9 287.8h0.95M482.4 286.1h0.95M478.4 286.3h0.95M479.3 287.5h0.95M480.1 284.4h0.95M479.9 286.0h0.95M484.3 286.1h0.95M479.9 289.7h0.95M477.8 285.4h0.95M481.2 290.0h0.95M478.3 286.9h0.95M480.0 286.0h0.95M477.9 286.1h0.95M481.2 288.2h0.95M479.3 286.1h0.95M480.5 284.9h0.95M478.4 286.9h0.95M481.7 289.5h0.95M481.2 286.4h0.95M480.6 283.5h0.95M479.6 282.3h0.95M479.5 283.0h0.95M479.9 284.5h0.95M480.6 285.0h0.95M481.2 283.6h0.95M482.2 289.6h0.95M480.0 284.2h0.95M480.8 284.2h0.95M480.6 286.1h0.95M482.3 287.8h0.95M478.5 286.4h0.95M479.4 289.1h0.95M482.0 286.2h0.95M480.6 284.4h0.95M478.5 286.9h0.95M481.0 284.8h0.95M482.8 287.4h0.95M482.9 283.2h0.95M479.7 287.4h0.95M481.3 287.1h0.95M479.1 285.8h0.95M478.2 287.7h0.95M478.9 286.8h0.95M481.8 289.7h0.95M482.1 286.8h0.95M477.0 286.1h0.95M478.7 288.4h0.95M477.6 286.1h0.95M476.7 285.7h0.95M479.6 286.1h0.95M480.9 286.1h0.95M481.7 287.0h0.95M479.1 284.1h0.95M482.1 287.9h0.95M479.6 283.5h0.95M479.2 285.4h0.95M481.0 286.8h0.95M481.4 288.1h0.95M479.2 284.4h0.95M479.7 284.8h0.95M481.1 288.8h0.95M481.0 284.7h0.95M482.1 290.1h0.95M482.0 288.3h0.95M479.0 287.7h0.95M481.1 285.5h0.95M481.6 282.3h0.95M482.6 281.3h0.95M480.4 285.6h0.95M480.0 287.2h0.95M479.9 288.6h0.95M477.6 288.7h0.95M482.6 285.5h0.95M477.3 285.9h0.95M480.7 286.7h0.95M481.7 284.8h0.95M481.7 284.1h0.95M478.9 285.8h0.95M480.2 281.6h0.95M479.2 286.1h0.95M479.3 287.3h0.95M481.0 284.8h0.95M478.9 285.8h0.95M483.3 288.4h0.95M479.1 283.6h0.95M478.8 286.8h0.95M482.5 287.3h0.95M479.0 284.1h0.95M481.4 288.0h0.95M480.0 286.5h0.95M482.1 286.8h0.95M482.1 288.3h0.95M480.8 289.9h0.95M479.7 288.1h0.95M478.8 288.9h0.95M477.8 284.0h0.95M479.0 290.4h0.95M480.8 290.2h0.95M481.4 283.6h0.95M480.4 287.2h0.95M479.5 288.3h0.95M481.4 286.1h0.95M479.6 284.5h0.95M484.1 289.5h0.95M480.4 287.4h0.95M480.6 286.9h0.95M480.1 286.2h0.95M480.2 285.0h0.95M479.4 290.1h0.95M482.0 289.1h0.95M483.1 285.9h0.95M480.1 287.6h0.95M480.6 285.7h0.95M478.9 288.4h0.95M481.2 284.0h0.95M479.0 286.5h0.95M479.6 283.3h0.95M480.9 284.4h0.95M480.4 284.4h0.95M481.4 288.7h0.95M481.1 286.8h0.95M481.7 286.4h0.95M483.9 284.7h0.95M478.7 290.0h0.95M482.7 284.8h0.95M479.9 288.5h0.95M479.3 283.6h0.95M481.7 285.3h0.95M480.2 285.7h0.95M481.1 285.1h0.95M480.2 286.1h0.95M478.9 287.7h0.95M478.5 286.6h0.95M483.2 286.1h0.95M479.9 286.9h0.95M481.1 289.9h0.95M479.9 284.0h0.95M480.2 285.0h0.95M478.6 286.7h0.95M479.5 288.4h0.95M476.8 286.0h0.95M481.6 285.7h0.95M482.9 288.7h0.95M481.6 284.8h0.95M479.1 283.7h0.95M484.2 281.0h0.95M477.0 284.1h0.95M477.4 286.8h0.95M484.6 287.1h0.95M480.7 285.5h0.95M479.2 285.3h0.95M482.2 283.6h0.95M477.6 282.3h0.95M476.0 285.9h0.95M482.0 282.2h0.95M481.0 285.0h0.95M477.0 281.7h0.95M482.8 289.4h0.95M478.4 286.2h0.95M479.7 285.6h0.95M478.7 285.5h0.95M477.1 282.9h0.95M477.2 285.5h0.95M481.4 286.0h0.95M478.6 286.7h0.95M479.7 289.5h0.95M479.0 281.7h0.95M479.7 283.4h0.95M483.3 287.6h0.95M484.5 285.1h0.95M482.7 286.8h0.95M476.5 281.2h0.95M483.9 289.6h0.95M479.2 281.0h0.95M477.6 288.5h0.95M479.1 287.6h0.95M482.2 283.2h0.95M476.5 282.2h0.95M478.1 282.8h0.95M480.2 287.2h0.95M480.4 283.0h0.95M484.0 280.6h0.95M483.1 284.6h0.95M482.7 280.4h0.95M476.0 289.8h0.95M480.1 285.3h0.95M476.1 289.0h0.95M478.9 289.5h0.95M476.7 284.0h0.95M483.6 289.3h0.95M483.8 281.0h0.95M482.8 288.7h0.95M483.7 287.5h0.95M477.4 285.3h0.95M477.0 280.7h0.95M481.0 286.6h0.95M483.8 281.1h0.95M483.4 285.3h0.95M482.5 283.2h0.95M480.2 287.5h0.95M478.8 280.8h0.95M478.5 287.1h0.95M476.4 290.1h0.95M480.4 285.7h0.95M476.5 287.9h0.95M480.9 284.3h0.95M482.8 281.7h0.95M477.9 289.0h0.95M477.3 289.7h0.95M483.2 290.1h0.95M483.2 286.4h0.95M477.6 288.3h0.95M482.9 289.7h0.95M482.5 281.0h0.95M483.5 287.5h0.95M480.9 280.9h0.95M477.7 281.0h0.95M475.9 284.8h0.95M476.0 287.3h0.95M476.2 289.7h0.95M482.8 284.5h0.95M481.6 281.9h0.95M484.6 286.1h0.95M478.2 281.3h0.95M478.1 282.8h0.95M481.6 283.9h0.95M478.4 284.4h0.95M481.9 289.5h0.95M482.8 281.8h0.95M484.1 281.3h0.95M476.0 287.3h0.95M481.0 281.8h0.95M484.4 288.0h0.95M477.7 287.9h0.95M477.1 285.5h0.95M480.0 284.6h0.95M476.4 287.5h0.95M479.4 289.3h0.95M476.0 283.4h0.95M483.5 285.4h0.95M476.8 289.0h0.95M477.0 285.7h0.95M480.5 285.6h0.95M478.0 282.7h0.95M480.2 285.9h0.95M484.0 287.0h0.95M476.2 288.0h0.95M481.8 284.3h0.95M484.5 287.7h0.95M480.5 282.8h0.95M477.0 287.7h0.95M482.3 288.9h0.95M475.8 286.8h0.95M479.9 280.9h0.95M479.2 289.5h0.95M477.7 289.2h0.95M481.1 287.7h0.95M479.3 288.9h0.95M479.9 282.4h0.95M481.7 286.6h0.95M479.7 282.8h0.95M481.4 282.3h0.95M482.8 281.8h0.95M482.5 285.1h0.95M481.3 288.9h0.95M479.4 286.1h0.95M481.3 288.9h0.95M484.7 289.8h0.95M483.9 286.7h0.95M481.1 281.5h0.95M479.1 282.4h0.95M477.9 284.9h0.95M479.2 281.2h0.95M479.0 286.8h0.95M481.5 288.6h0.95M481.4 284.2h0.95M481.5 289.7h0.95M480.1 284.4h0.95M484.3 288.0h0.95M480.2 284.0h0.95M477.2 287.3h0.95M483.8 284.2h0.95M483.1 289.6h0.95M477.8 287.7h0.95M477.5 289.7h0.95M479.9 281.5h0.95M478.3 283.3h0.95M484.8 285.1h0.95M476.5 282.7h0.95M482.8 286.3h0.95M477.7 283.6h0.95M482.1 287.9h0.95M477.2 288.6h0.95M478.3 284.6h0.95M479.2 288.5h0.95M478.4 285.5h0.95M479.9 285.5h0.95M482.1 288.9h0.95M479.8 287.9h0.95M479.0 284.0h0.95M477.3 283.5h0.95M481.8 282.7h0.95M478.8 281.5h0.95M479.4 284.1h0.95M478.1 280.4h0.95M476.6 287.6h0.95M481.1 289.2h0.95M476.6 289.9h0.95M482.9 283.8h0.95M479.8 283.8h0.95M484.3 286.1h0.95M476.7 283.3h0.95M479.0 285.2h0.95M480.4 288.7h0.95M478.5 288.1h0.95M482.1 286.4h0.95M482.1 288.9h0.95M483.1 286.4h0.95M476.3 281.4h0.95M476.4 280.7h0.95M477.4 284.2h0.95M479.7 285.6h0.95M480.6 287.1h0.95M479.1 288.0h0.95M483.6 282.0h0.95M482.2 284.7h0.95M483.5 284.7h0.95M477.4 286.5h0.95M479.2 289.9h0.95M477.2 287.4h0.95M481.9 288.5h0.95M481.4 281.5h0.95M482.7 285.5h0.95M476.1 289.7h0.95M476.4 281.4h0.95M479.8 289.1h0.95M482.1 288.2h0.95M480.7 284.6h0.95M476.9 289.1h0.95M479.2 286.1h0.95M478.0 282.9h0.95M482.6 281.9h0.95M479.8 286.8h0.95M481.4 285.3h0.95M477.5 289.5h0.95M484.4 288.0h0.95M483.8 289.8h0.95M476.2 282.7h0.95M479.0 281.2h0.95M481.2 287.1h0.95M481.2 288.9h0.95M481.0 286.6h0.95M482.6 288.0h0.95M484.5 280.8h0.95M481.2 282.4h0.95M483.2 288.4h0.95M482.7 280.8h0.95M477.1 282.1h0.95M484.8 288.8h0.95M483.4 287.4h0.95M481.1 287.8h0.95M479.9 289.4h0.95M482.1 284.2h0.95M478.0 286.3h0.95M480.1 283.1h0.95M477.0 289.2h0.95M484.4 283.6h0.95M475.7 281.2h0.95M481.7 286.5h0.95M482.8 287.6h0.95M479.9 277.9h0.95M482.4 278.1h0.95M480.6 278.0h0.95M481.4 281.9h0.95M484.3 282.6h0.95M481.6 277.6h0.95M482.9 274.7h0.95M483.4 280.1h0.95M480.1 281.6h0.95M482.0 281.2h0.95M480.8 276.3h0.95M482.6 280.9h0.95M480.4 280.4h0.95M483.3 280.3h0.95M478.8 278.9h0.95M482.7 282.3h0.95M480.5 280.6h0.95M480.4 281.1h0.95M481.5 281.7h0.95M481.4 279.8h0.95M481.3 281.1h0.95M482.3 275.6h0.95M480.8 282.2h0.95M480.2 281.1h0.95M481.8 281.4h0.95M481.9 279.1h0.95M482.9 277.4h0.95M482.6 278.4h0.95M481.0 282.2h0.95M480.8 280.2h0.95M481.5 278.1h0.95M481.3 275.4h0.95M480.4 279.4h0.95M482.2 279.5h0.95M479.5 279.6h0.95M483.8 264.3h0.95M482.3 264.1h0.95M481.6 262.1h0.95M481.8 264.4h0.95M480.6 266.4h0.95M482.0 267.7h0.95M481.9 266.2h0.95M480.2 265.4h0.95M481.6 263.4h0.95M480.4 266.7h0.95M482.0 266.6h0.95M483.1 262.0h0.95M479.6 264.2h0.95M481.4 261.3h0.95" stroke="#000" stroke-width="0.95" fill="none"/>
</g>
<g filter="url(#soft)" fill="#111" stroke="#111" stroke-width="0.12">
<text x="0.90" y="9.90" font-size="12.2" text-anchor="start" font-weight="bold">A</text>
<text x="23.30" y="110.50" font-size="6.5" text-anchor="end">0</text>
<text x="23.30" y="97.33" font-size="6.5" text-anchor="end">5</text>
<text x="23.30" y="84.16" font-size="6.5" text-anchor="end">10</text>
<text x="23.30" y="70.99" font-size="6.5" text-anchor="end">15</text>
<text x="23.30" y="57.81" font-size="6.5" text-anchor="end">20</text>
<text x="23.30" y="44.64" font-size="6.5" text-anchor="end">25</text>
<text x="23.30" y="31.47" font-size="6.5" text-anchor="end">30</text>
<text x="23.30" y="18.30" font-size="6.5" text-anchor="end">35</text>
<text x="45.90" y="118.60" font-size="6.6" text-anchor="middle">10</text>
<text x="80.80" y="118.60" font-size="6.6" text-anchor="middle">20</text>
<text x="115.80" y="118.60" font-size="6.6" text-anchor="middle">40</text>
<text x="150.70" y="118.60" font-size="6.6" text-anchor="middle">80</text>
<text x="95.20" y="130.50" font-size="7.4" text-anchor="middle" letter-spacing="0.12">DC numbers(×10<tspan dy="-2.8" font-size="4.4">3</tspan><tspan dy="2.8">)</tspan></text>
<text x="8.40" y="62.60" font-size="6.45" text-anchor="middle" transform="rotate(-90 8.40 62.60)">[H3] thymidine(cpm×10<tspan dy="-2.4" font-size="3.8">3</tspan><tspan dy="2.4">)</tspan></text>
<text x="65.00" y="25.10" font-size="6.0" text-anchor="start">DC/CD4</text>
<text x="65.00" y="32.60" font-size="6.0" text-anchor="start">mut-siRNA-DC/CD4</text>
<text x="65.00" y="39.60" font-size="6.0" text-anchor="start">siRNA-DC/CD4</text>
<text x="65.00" y="47.10" font-size="6.0" text-anchor="start">CD4</text>
<text x="65.00" y="54.10" font-size="6.0" text-anchor="start">DC</text>
<text x="181.40" y="10.40" font-size="12.2" text-anchor="start" font-weight="bold">B</text>
<text x="204.60" y="110.80" font-size="4.7" text-anchor="end">0</text>
<text x="204.60" y="88.00" font-size="4.7" text-anchor="end">500</text>
<text x="204.60" y="65.20" font-size="4.7" text-anchor="end">1000</text>
<text x="204.60" y="42.40" font-size="4.7" text-anchor="end">1500</text>
<text x="204.60" y="19.60" font-size="4.7" text-anchor="end">2000</text>
<text x="191.30" y="65.80" font-size="7.35" text-anchor="middle" transform="rotate(-90 191.30 65.80)">Cytokine production(pg/mL)</text>
<text x="224.28" y="115.10" font-size="5.85" text-anchor="end" transform="rotate(-45 224.28 115.10)">DC/CD4</text>
<text x="251.44" y="115.10" font-size="5.85" text-anchor="end" transform="rotate(-45 251.44 115.10)">siRNA-DC/CD4</text>
<text x="282.40" y="115.10" font-size="5.85" text-anchor="end" transform="rotate(-45 282.40 115.10)">mut-siRNA-DC/CD4</text>
<text x="312.16" y="115.10" font-size="5.85" text-anchor="end" transform="rotate(-45 312.16 115.10)">DC</text>
<text x="341.32" y="115.10" font-size="5.85" text-anchor="end" transform="rotate(-45 341.32 115.10)">CD4</text>
<text x="246.80" y="59.20" font-size="9.5" text-anchor="middle" font-weight="bold">*</text>
<text x="254.40" y="22.60" font-size="5.0" text-anchor="middle">#</text>
<text x="313.80" y="33.20" font-size="5.6" text-anchor="start">IFN-r</text>
<text x="313.80" y="41.20" font-size="5.6" text-anchor="start">IL-2</text>
<text x="368.00" y="10.40" font-size="12.2" text-anchor="start" font-weight="bold">C</text>
<text x="406.10" y="18.60" font-size="5.3" text-anchor="middle">DC/CD4</text>
<text x="426.40" y="30.10" font-size="5.0" text-anchor="middle">0.2</text>
<text x="484.60" y="18.60" font-size="5.3" text-anchor="middle">DC/CD4/OVA</text>
<text x="505.80" y="30.10" font-size="5.0" text-anchor="middle">12.4</text>
<text x="403.60" y="84.90" font-size="5.3" text-anchor="middle">siRNA-DC/CD4/OVA</text>
<text x="427.30" y="93.60" font-size="5.0" text-anchor="middle">24.4</text>
<text x="485.00" y="84.90" font-size="5.3" text-anchor="middle">mut-siRNA-DC/CD4/OVA</text>
<text x="506.10" y="93.60" font-size="5.0" text-anchor="middle">13.8</text>
<text x="371.20" y="80.80" font-size="5.6" text-anchor="middle" transform="rotate(-90 371.20 80.80)">IFN-γ</text>
<text x="446.80" y="148.40" font-size="5.3" text-anchor="middle">CD4</text>
<text x="0.20" y="168.40" font-size="12.2" text-anchor="start" font-weight="bold">D</text>
<text x="51.40" y="176.00" font-size="5.3" text-anchor="middle">DC/OVA</text>
<text x="67.00" y="184.80" font-size="5.0" text-anchor="middle">0.5</text>
<text x="137.60" y="176.00" font-size="5.3" text-anchor="middle">DC/CD4/OVA</text>
<text x="146.40" y="184.80" font-size="5.0" text-anchor="middle">14.7</text>
<text x="51.80" y="239.60" font-size="5.3" text-anchor="middle">siRNA-DC/CD4/OVA</text>
<text x="67.40" y="250.10" font-size="5.0" text-anchor="middle">32.1</text>
<text x="124.70" y="239.60" font-size="5.3" text-anchor="middle">mut-siRNA-DC/CD4/OVA</text>
<text x="146.00" y="250.60" font-size="5.0" text-anchor="middle">13.7</text>
<text x="14.90" y="235.30" font-size="5.4" text-anchor="middle" transform="rotate(-90 14.90 235.30)">IL-12p70</text>
<text x="86.40" y="299.40" font-size="5.2" text-anchor="middle">CD11c</text>
<text x="179.80" y="168.10" font-size="12.2" text-anchor="start" font-weight="bold">E</text>
<text x="204.80" y="271.50" font-size="5.5" text-anchor="end" font-weight="bold">0</text>
<text x="204.80" y="257.95" font-size="5.5" text-anchor="end" font-weight="bold">100</text>
<text x="204.80" y="244.40" font-size="5.5" text-anchor="end" font-weight="bold">200</text>
<text x="204.80" y="230.85" font-size="5.5" text-anchor="end" font-weight="bold">300</text>
<text x="204.80" y="217.30" font-size="5.5" text-anchor="end" font-weight="bold">400</text>
<text x="204.80" y="203.75" font-size="5.5" text-anchor="end" font-weight="bold">500</text>
<text x="204.80" y="190.20" font-size="5.5" text-anchor="end" font-weight="bold">600</text>
<text x="204.80" y="176.65" font-size="5.5" text-anchor="end" font-weight="bold">700</text>
<text x="188.60" y="222.20" font-size="6.9" text-anchor="middle" font-weight="bold" transform="rotate(-90 188.60 222.20)">IL-12p70(pg/mL)</text>
<text x="227.60" y="275.50" font-size="6.0" text-anchor="end" transform="rotate(-43 227.60 275.50)">DC/CD4</text>
<text x="267.60" y="275.50" font-size="6.0" text-anchor="end" transform="rotate(-43 267.60 275.50)">siRNA-DC/CD4</text>
<text x="302.40" y="275.50" font-size="6.0" text-anchor="end" transform="rotate(-43 302.40 275.50)">mut-siRNA-DC/CD4</text>
<text x="339.60" y="275.50" font-size="6.0" text-anchor="end" transform="rotate(-43 339.60 275.50)">DC</text>
<text x="265.80" y="184.60" font-size="7.2" text-anchor="middle" font-weight="bold">*</text>
<text x="365.80" y="168.00" font-size="12.2" text-anchor="start" font-weight="bold">F</text>
<text x="406.80" y="176.40" font-size="5.3" text-anchor="middle">CD4</text>
<text x="422.70" y="186.70" font-size="4.7" text-anchor="middle">0.12</text>
<text x="482.70" y="176.40" font-size="5.3" text-anchor="middle">CD4/DC</text>
<text x="499.00" y="186.90" font-size="4.7" text-anchor="middle">3.12</text>
<text x="409.20" y="237.20" font-size="5.3" text-anchor="middle">CD4/siRNA-DC</text>
<text x="423.60" y="249.70" font-size="4.7" text-anchor="middle">8.84</text>
<text x="483.60" y="237.20" font-size="5.3" text-anchor="middle">CD4/mut-siRNA-DC</text>
<text x="499.30" y="249.70" font-size="4.7" text-anchor="middle">3.47</text>
<text x="373.40" y="235.70" font-size="5.6" text-anchor="middle" transform="rotate(-90 373.40 235.70)">KJ1-26</text>
<text x="448.00" y="299.10" font-size="5.3" text-anchor="middle">CD4</text>
</g>
</svg></body></html>
